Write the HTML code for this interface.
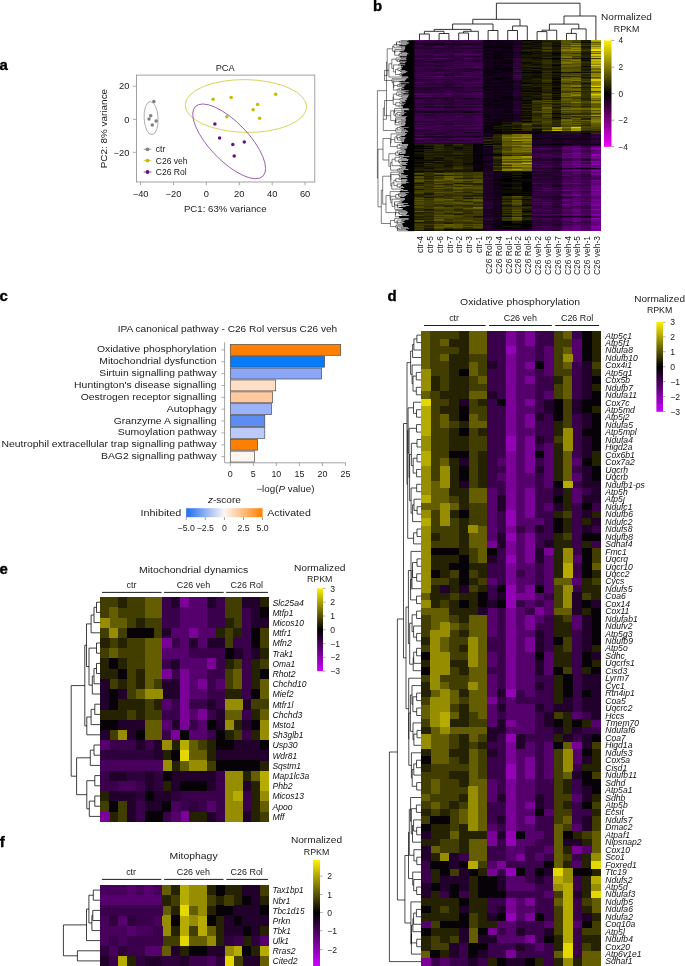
<!DOCTYPE html><html><head><meta charset="utf-8"><title>Figure</title><style>html,body{margin:0;padding:0;background:#fff}svg{display:block}text{font-family:"Liberation Sans",sans-serif}</style></head><body>
<svg width="685" height="966" viewBox="0 0 685 966">
<rect width="685" height="966" fill="#fff"/>
<text transform="translate(-0.40 69.60) scale(1.07 1)" font-size="14.0" fill="#000" font-weight="bold" stroke="#000" stroke-width="0.35">a</text>
<rect x="136.5" y="75.1" width="178.30" height="106.90" fill="none" stroke="#8a8a8a" stroke-width="0.8"/>
<text transform="translate(225.10 70.50)" font-size="9.2" fill="#1a1a1a" text-anchor="middle">PCA</text>
<path d="M140.60 182.00L140.60 185.40" stroke="#8a8a8a" stroke-width="0.7" fill="none"/>
<text transform="translate(140.60 196.50) scale(1.05 1)" font-size="8.9" fill="#1a1a1a" text-anchor="middle">−40</text>
<path d="M173.50 182.00L173.50 185.40" stroke="#8a8a8a" stroke-width="0.7" fill="none"/>
<text transform="translate(173.50 196.50) scale(1.05 1)" font-size="8.9" fill="#1a1a1a" text-anchor="middle">−20</text>
<path d="M206.40 182.00L206.40 185.40" stroke="#8a8a8a" stroke-width="0.7" fill="none"/>
<text transform="translate(206.40 196.50) scale(1.05 1)" font-size="8.9" fill="#1a1a1a" text-anchor="middle">0</text>
<path d="M239.30 182.00L239.30 185.40" stroke="#8a8a8a" stroke-width="0.7" fill="none"/>
<text transform="translate(239.30 196.50) scale(1.05 1)" font-size="8.9" fill="#1a1a1a" text-anchor="middle">20</text>
<path d="M272.20 182.00L272.20 185.40" stroke="#8a8a8a" stroke-width="0.7" fill="none"/>
<text transform="translate(272.20 196.50) scale(1.05 1)" font-size="8.9" fill="#1a1a1a" text-anchor="middle">40</text>
<path d="M305.10 182.00L305.10 185.40" stroke="#8a8a8a" stroke-width="0.7" fill="none"/>
<text transform="translate(305.10 196.50) scale(1.05 1)" font-size="8.9" fill="#1a1a1a" text-anchor="middle">60</text>
<path d="M132.90 86.26L136.50 86.26" stroke="#8a8a8a" stroke-width="0.7" fill="none"/>
<text transform="translate(129.40 89.46) scale(1.05 1)" font-size="8.9" fill="#1a1a1a" text-anchor="end">20</text>
<path d="M132.90 119.30L136.50 119.30" stroke="#8a8a8a" stroke-width="0.7" fill="none"/>
<text transform="translate(129.40 122.50) scale(1.05 1)" font-size="8.9" fill="#1a1a1a" text-anchor="end">0</text>
<path d="M132.90 152.34L136.50 152.34" stroke="#8a8a8a" stroke-width="0.7" fill="none"/>
<text transform="translate(129.40 155.54) scale(1.05 1)" font-size="8.9" fill="#1a1a1a" text-anchor="end">−20</text>
<text transform="translate(225.20 212.40) scale(1.05 1)" font-size="9.2" fill="#1a1a1a" text-anchor="middle">PC1: 63% variance</text>
<text transform="translate(107.30 128.60) rotate(-90) scale(1.08 1)" font-size="9.2" fill="#1a1a1a" text-anchor="middle">PC2: 8% variance</text>
<ellipse cx="151.1" cy="118.1" rx="7.0" ry="16.6" fill="none" stroke="#7a7a7a" stroke-width="0.6" transform="rotate(-3 151.1 118.1)"/>
<ellipse cx="245.9" cy="106.0" rx="60.7" ry="26.4" fill="none" stroke="#c9c216" stroke-width="0.7" transform="rotate(1 245.9 106)"/>
<ellipse cx="229.3" cy="141.0" rx="48.5" ry="19.3" fill="none" stroke="#7b2a93" stroke-width="0.7" transform="rotate(46 228.8 141)"/>
<circle cx="153.9" cy="101.4" r="1.75" fill="#808080"/>
<circle cx="150.7" cy="115.8" r="1.75" fill="#808080"/>
<circle cx="149.0" cy="119.1" r="1.75" fill="#808080"/>
<circle cx="156.1" cy="121.0" r="1.75" fill="#808080"/>
<circle cx="152.3" cy="125.1" r="1.75" fill="#808080"/>
<circle cx="213.1" cy="99.3" r="1.75" fill="#c4bc00"/>
<circle cx="231.2" cy="97.6" r="1.75" fill="#c4bc00"/>
<circle cx="275.7" cy="94.2" r="1.75" fill="#c4bc00"/>
<circle cx="257.6" cy="104.4" r="1.75" fill="#c4bc00"/>
<circle cx="253.1" cy="109.7" r="1.75" fill="#c4bc00"/>
<circle cx="259.6" cy="118.2" r="1.75" fill="#c4bc00"/>
<circle cx="226.8" cy="116.7" r="1.75" fill="#c4bc00"/>
<circle cx="214.9" cy="123.9" r="1.75" fill="#6a0f80"/>
<circle cx="219.6" cy="137.9" r="1.75" fill="#6a0f80"/>
<circle cx="232.8" cy="144.5" r="1.75" fill="#6a0f80"/>
<circle cx="244.3" cy="142.1" r="1.75" fill="#6a0f80"/>
<circle cx="234.2" cy="155.9" r="1.75" fill="#6a0f80"/>
<path d="M143.70 149.30L151.40 149.30" stroke="#808080" stroke-width="0.7" fill="none"/>
<circle cx="147.5" cy="149.3" r="1.9" fill="#808080"/>
<text transform="translate(155.80 152.20) scale(1.03 1)" font-size="8.3" fill="#1a1a1a">ctr</text>
<path d="M143.70 160.60L151.40 160.60" stroke="#c4bc00" stroke-width="0.7" fill="none"/>
<circle cx="147.5" cy="160.6" r="1.9" fill="#c4bc00"/>
<text transform="translate(155.80 163.50) scale(1.03 1)" font-size="8.3" fill="#1a1a1a">C26 veh</text>
<path d="M143.70 172.00L151.40 172.00" stroke="#6a0f80" stroke-width="0.7" fill="none"/>
<circle cx="147.5" cy="172.0" r="1.9" fill="#6a0f80"/>
<text transform="translate(155.80 174.90) scale(1.03 1)" font-size="8.3" fill="#1a1a1a">C26 Rol</text>
<text transform="translate(372.90 10.80) scale(1.07 1)" font-size="14.0" fill="#000" font-weight="bold" stroke="#000" stroke-width="0.35">b</text>
<g shape-rendering="crispEdges">
<rect x="414.0" y="40.2" width="186.81" height="190.80" fill="#2a0a30"/>
<path d="M590.98 148.09h10.03v1.20h-10.03zM590.98 154.08h10.03v1.20h-10.03zM590.98 155.08h10.03v1.20h-10.03zM590.98 164.07h10.03v1.20h-10.03zM590.98 209.02h10.03v1.20h-10.03zM590.98 218.01h10.03v1.20h-10.03zM590.98 226.01h10.03v1.20h-10.03z" fill="#9000b2"/>
<path d="M590.98 157.08h10.03v1.20h-10.03zM590.98 161.07h10.03v1.20h-10.03zM590.98 170.06h10.03v1.20h-10.03zM590.98 190.04h10.03v1.20h-10.03zM590.98 205.03h10.03v1.20h-10.03zM590.98 214.02h10.03v1.20h-10.03zM590.98 228.00h10.03v1.20h-10.03z" fill="#8500a6"/>
<path d="M590.98 149.09h10.03v1.20h-10.03zM590.98 162.07h10.03v1.20h-10.03zM590.98 173.06h10.03v1.20h-10.03zM590.98 187.05h10.03v1.20h-10.03zM590.98 193.04h10.03v1.20h-10.03zM571.31 195.04h10.03v1.20h-10.03zM590.98 200.03h10.03v1.20h-10.03zM590.98 204.03h10.03v1.20h-10.03zM590.98 230.00h10.03v1.20h-10.03z" fill="#7b0099"/>
<path d="M571.31 148.09h10.03v1.20h-10.03zM571.31 153.08h10.03v1.20h-10.03zM571.31 155.08h10.03v1.20h-10.03zM590.98 156.08h10.03v1.20h-10.03zM571.31 157.08h10.03v1.20h-10.03zM590.98 158.08h10.03v1.20h-10.03zM571.31 164.07h10.03v1.20h-10.03zM590.98 167.07h10.03v1.20h-10.03zM561.48 170.06h10.03v1.20h-10.03zM590.98 174.06h10.03v1.20h-10.03zM590.98 180.05h10.03v1.20h-10.03zM590.98 182.05h10.03v1.20h-10.03zM590.98 185.05h10.03v1.20h-10.03zM590.98 186.05h10.03v1.20h-10.03zM590.98 188.05h10.03v1.20h-10.03zM590.98 189.04h10.03v1.20h-10.03zM561.48 190.04h10.03v1.20h-10.03zM590.98 192.04h10.03v1.20h-10.03zM590.98 194.04h10.03v1.20h-10.03zM590.98 195.04h10.03v1.20h-10.03zM590.98 199.03h10.03v1.20h-10.03zM590.98 202.03h10.03v1.20h-10.03zM590.98 215.02h10.03v1.20h-10.03zM571.31 218.01h10.03v1.20h-10.03zM590.98 219.01h10.03v1.20h-10.03zM590.98 220.01h10.03v1.20h-10.03zM590.98 221.01h10.03v1.20h-10.03zM571.31 230.00h10.03v1.20h-10.03z" fill="#71008c"/>
<path d="M590.98 147.09h10.03v1.20h-10.03zM590.98 151.08h10.03v1.20h-10.03zM571.31 152.08h10.03v1.20h-10.03zM590.98 152.08h10.03v1.20h-10.03zM561.48 153.08h10.03v1.20h-10.03zM571.31 154.08h10.03v1.20h-10.03zM561.48 157.08h10.03v1.20h-10.03zM561.48 161.07h10.03v1.20h-10.03zM571.31 161.07h10.03v1.20h-10.03zM571.31 162.07h10.03v1.20h-10.03zM590.98 163.07h10.03v1.20h-10.03zM571.31 166.07h10.03v1.20h-10.03zM590.98 166.07h10.03v1.20h-10.03zM571.31 170.06h10.03v1.20h-10.03zM590.98 172.06h10.03v1.20h-10.03zM571.31 173.06h10.03v1.20h-10.03zM561.48 183.05h10.03v1.20h-10.03zM571.31 183.05h10.03v1.20h-10.03zM571.31 190.04h10.03v1.20h-10.03zM571.31 194.04h10.03v1.20h-10.03zM561.48 195.04h10.03v1.20h-10.03zM561.48 200.03h10.03v1.20h-10.03zM571.31 202.03h10.03v1.20h-10.03zM571.31 203.03h10.03v1.20h-10.03zM590.98 203.03h10.03v1.20h-10.03zM561.48 204.03h10.03v1.20h-10.03zM590.98 206.03h10.03v1.20h-10.03zM590.98 207.03h10.03v1.20h-10.03zM590.98 208.02h10.03v1.20h-10.03zM571.31 209.02h10.03v1.20h-10.03zM571.31 210.02h10.03v1.20h-10.03zM590.98 210.02h10.03v1.20h-10.03zM571.31 211.02h10.03v1.20h-10.03zM590.98 211.02h10.03v1.20h-10.03zM590.98 212.02h10.03v1.20h-10.03zM571.31 214.02h10.03v1.20h-10.03zM571.31 220.01h10.03v1.20h-10.03zM571.31 221.01h10.03v1.20h-10.03zM590.98 223.01h10.03v1.20h-10.03zM571.31 226.01h10.03v1.20h-10.03zM590.98 227.00h10.03v1.20h-10.03zM571.31 228.00h10.03v1.20h-10.03zM590.98 229.00h10.03v1.20h-10.03zM561.48 230.00h10.03v1.20h-10.03z" fill="#660080"/>
<path d="M571.31 146.09h10.03v1.20h-10.03zM590.98 146.09h10.03v1.20h-10.03zM561.48 147.09h10.03v1.20h-10.03zM561.48 148.09h10.03v1.20h-10.03zM571.31 149.09h10.03v1.20h-10.03zM590.98 153.08h10.03v1.20h-10.03zM561.48 154.08h10.03v1.20h-10.03zM581.14 155.08h10.03v1.20h-10.03zM581.14 157.08h10.03v1.20h-10.03zM590.98 159.08h10.03v1.20h-10.03zM590.98 160.07h10.03v1.20h-10.03zM581.14 161.07h10.03v1.20h-10.03zM561.48 163.07h10.03v1.20h-10.03zM571.31 163.07h10.03v1.20h-10.03zM561.48 164.07h10.03v1.20h-10.03zM581.14 164.07h10.03v1.20h-10.03zM581.14 166.07h10.03v1.20h-10.03zM561.48 167.07h10.03v1.20h-10.03zM571.31 167.07h10.03v1.20h-10.03zM571.31 169.06h10.03v1.20h-10.03zM590.98 169.06h10.03v1.20h-10.03zM581.14 170.06h10.03v1.20h-10.03zM590.98 171.06h10.03v1.20h-10.03zM561.48 175.06h10.03v1.20h-10.03zM590.98 175.06h10.03v1.20h-10.03zM571.31 180.05h10.03v1.20h-10.03zM590.98 183.05h10.03v1.20h-10.03zM561.48 194.04h10.03v1.20h-10.03zM581.14 194.04h10.03v1.20h-10.03zM590.98 196.04h10.03v1.20h-10.03zM571.31 198.03h10.03v1.20h-10.03zM590.98 198.03h10.03v1.20h-10.03zM561.48 199.03h10.03v1.20h-10.03zM571.31 200.03h10.03v1.20h-10.03zM571.31 204.03h10.03v1.20h-10.03zM571.31 205.03h10.03v1.20h-10.03zM561.48 209.02h10.03v1.20h-10.03zM590.98 213.02h10.03v1.20h-10.03zM561.48 214.02h10.03v1.20h-10.03zM561.48 218.01h10.03v1.20h-10.03zM581.14 219.01h10.03v1.20h-10.03zM590.98 222.01h10.03v1.20h-10.03zM590.98 224.01h10.03v1.20h-10.03zM590.98 225.01h10.03v1.20h-10.03zM561.48 226.01h10.03v1.20h-10.03zM581.14 226.01h10.03v1.20h-10.03zM571.31 227.00h10.03v1.20h-10.03zM561.48 228.00h10.03v1.20h-10.03zM571.31 229.00h10.03v1.20h-10.03z" fill="#5c0073"/>
<path d="M414.00 40.20h10.03v1.20h-10.03zM463.16 54.19h10.03v1.20h-10.03zM433.66 58.18h10.03v1.20h-10.03zM433.66 76.16h10.03v1.20h-10.03zM414.00 94.14h10.03v1.20h-10.03zM443.50 94.14h10.03v1.20h-10.03zM453.33 125.11h10.03v1.20h-10.03zM414.00 138.10h10.03v1.20h-10.03zM571.31 147.09h10.03v1.20h-10.03zM581.14 148.09h10.03v1.20h-10.03zM561.48 149.09h10.03v1.20h-10.03zM571.31 150.08h10.03v1.20h-10.03zM590.98 150.08h10.03v1.20h-10.03zM561.48 151.08h10.03v1.20h-10.03zM571.31 151.08h10.03v1.20h-10.03zM581.14 153.08h10.03v1.20h-10.03zM561.48 155.08h10.03v1.20h-10.03zM561.48 156.08h10.03v1.20h-10.03zM571.31 156.08h10.03v1.20h-10.03zM571.31 158.08h10.03v1.20h-10.03zM571.31 159.08h10.03v1.20h-10.03zM571.31 160.07h10.03v1.20h-10.03zM561.48 162.07h10.03v1.20h-10.03zM590.98 165.07h10.03v1.20h-10.03zM561.48 166.07h10.03v1.20h-10.03zM571.31 171.06h10.03v1.20h-10.03zM561.48 173.06h10.03v1.20h-10.03zM581.14 173.06h10.03v1.20h-10.03zM590.98 176.06h10.03v1.20h-10.03zM571.31 177.06h10.03v1.20h-10.03zM590.98 177.06h10.03v1.20h-10.03zM590.98 181.05h10.03v1.20h-10.03zM590.98 184.05h10.03v1.20h-10.03zM571.31 186.05h10.03v1.20h-10.03zM561.48 187.05h10.03v1.20h-10.03zM571.31 187.05h10.03v1.20h-10.03zM571.31 189.04h10.03v1.20h-10.03zM581.14 189.04h10.03v1.20h-10.03zM571.31 192.04h10.03v1.20h-10.03zM571.31 193.04h10.03v1.20h-10.03zM590.98 197.04h10.03v1.20h-10.03zM571.31 199.03h10.03v1.20h-10.03zM581.14 199.03h10.03v1.20h-10.03zM581.14 202.03h10.03v1.20h-10.03zM581.14 204.03h10.03v1.20h-10.03zM561.48 206.03h10.03v1.20h-10.03zM571.31 208.02h10.03v1.20h-10.03zM581.14 209.02h10.03v1.20h-10.03zM561.48 211.02h10.03v1.20h-10.03zM571.31 212.02h10.03v1.20h-10.03zM581.14 214.02h10.03v1.20h-10.03zM561.48 215.02h10.03v1.20h-10.03zM571.31 215.02h10.03v1.20h-10.03zM581.14 218.01h10.03v1.20h-10.03zM561.48 219.01h10.03v1.20h-10.03zM561.48 223.01h10.03v1.20h-10.03zM571.31 223.01h10.03v1.20h-10.03zM571.31 224.01h10.03v1.20h-10.03zM571.31 225.01h10.03v1.20h-10.03zM581.14 228.00h10.03v1.20h-10.03zM561.48 229.00h10.03v1.20h-10.03zM502.49 230.00h10.03v1.20h-10.03zM581.14 230.00h10.03v1.20h-10.03z" fill="#520066"/>
<path d="M453.33 40.20h10.03v1.20h-10.03zM472.99 40.20h10.03v1.20h-10.03zM433.66 46.19h10.03v1.20h-10.03zM453.33 53.19h10.03v1.20h-10.03zM433.66 54.19h10.03v1.20h-10.03zM453.33 54.19h10.03v1.20h-10.03zM472.99 54.19h10.03v1.20h-10.03zM414.00 58.18h10.03v1.20h-10.03zM443.50 58.18h10.03v1.20h-10.03zM463.16 58.18h10.03v1.20h-10.03zM472.99 66.17h10.03v1.20h-10.03zM472.99 67.17h10.03v1.20h-10.03zM512.32 71.17h10.03v1.20h-10.03zM433.66 72.17h10.03v1.20h-10.03zM463.16 72.17h10.03v1.20h-10.03zM472.99 73.17h10.03v1.20h-10.03zM512.32 75.16h10.03v1.20h-10.03zM423.83 76.16h10.03v1.20h-10.03zM453.33 76.16h10.03v1.20h-10.03zM463.16 76.16h10.03v1.20h-10.03zM414.00 82.16h10.03v1.20h-10.03zM433.66 82.16h10.03v1.20h-10.03zM463.16 82.16h10.03v1.20h-10.03zM472.99 82.16h10.03v1.20h-10.03zM472.99 85.15h10.03v1.20h-10.03zM414.00 93.14h10.03v1.20h-10.03zM472.99 93.14h10.03v1.20h-10.03zM423.83 94.14h10.03v1.20h-10.03zM433.66 94.14h10.03v1.20h-10.03zM463.16 94.14h10.03v1.20h-10.03zM472.99 94.14h10.03v1.20h-10.03zM414.00 96.14h10.03v1.20h-10.03zM423.83 96.14h10.03v1.20h-10.03zM433.66 105.13h10.03v1.20h-10.03zM463.16 105.13h10.03v1.20h-10.03zM472.99 105.13h10.03v1.20h-10.03zM433.66 109.13h10.03v1.20h-10.03zM472.99 109.13h10.03v1.20h-10.03zM453.33 116.12h10.03v1.20h-10.03zM472.99 116.12h10.03v1.20h-10.03zM423.83 119.12h10.03v1.20h-10.03zM472.99 122.11h10.03v1.20h-10.03zM414.00 123.11h10.03v1.20h-10.03zM472.99 124.11h10.03v1.20h-10.03zM414.00 125.11h10.03v1.20h-10.03zM433.66 125.11h10.03v1.20h-10.03zM463.16 125.11h10.03v1.20h-10.03zM414.00 128.11h10.03v1.20h-10.03zM463.16 128.11h10.03v1.20h-10.03zM472.99 128.11h10.03v1.20h-10.03zM414.00 135.10h10.03v1.20h-10.03zM433.66 135.10h10.03v1.20h-10.03zM423.83 138.10h10.03v1.20h-10.03zM453.33 138.10h10.03v1.20h-10.03zM463.16 138.10h10.03v1.20h-10.03zM472.99 138.10h10.03v1.20h-10.03zM443.50 141.09h10.03v1.20h-10.03zM472.99 141.09h10.03v1.20h-10.03zM561.48 146.09h10.03v1.20h-10.03zM531.98 148.09h10.03v1.20h-10.03zM541.82 148.09h10.03v1.20h-10.03zM581.14 149.09h10.03v1.20h-10.03zM561.48 150.08h10.03v1.20h-10.03zM561.48 152.08h10.03v1.20h-10.03zM581.14 152.08h10.03v1.20h-10.03zM541.82 154.08h10.03v1.20h-10.03zM581.14 154.08h10.03v1.20h-10.03zM541.82 155.08h10.03v1.20h-10.03zM581.14 156.08h10.03v1.20h-10.03zM561.48 158.08h10.03v1.20h-10.03zM581.14 162.07h10.03v1.20h-10.03zM561.48 165.07h10.03v1.20h-10.03zM541.82 166.07h10.03v1.20h-10.03zM581.14 167.07h10.03v1.20h-10.03zM561.48 169.06h10.03v1.20h-10.03zM571.31 172.06h10.03v1.20h-10.03zM571.31 174.06h10.03v1.20h-10.03zM571.31 175.06h10.03v1.20h-10.03zM571.31 178.06h10.03v1.20h-10.03zM590.98 179.05h10.03v1.20h-10.03zM561.48 180.05h10.03v1.20h-10.03zM581.14 180.05h10.03v1.20h-10.03zM561.48 181.05h10.03v1.20h-10.03zM561.48 182.05h10.03v1.20h-10.03zM571.31 182.05h10.03v1.20h-10.03zM531.98 183.05h10.03v1.20h-10.03zM581.14 183.05h10.03v1.20h-10.03zM561.48 184.05h10.03v1.20h-10.03zM571.31 184.05h10.03v1.20h-10.03zM581.14 186.05h10.03v1.20h-10.03zM581.14 187.05h10.03v1.20h-10.03zM541.82 188.05h10.03v1.20h-10.03zM571.31 188.05h10.03v1.20h-10.03zM581.14 188.05h10.03v1.20h-10.03zM561.48 189.04h10.03v1.20h-10.03zM541.82 190.04h10.03v1.20h-10.03zM581.14 190.04h10.03v1.20h-10.03zM590.98 191.04h10.03v1.20h-10.03zM581.14 195.04h10.03v1.20h-10.03zM571.31 196.04h10.03v1.20h-10.03zM581.14 196.04h10.03v1.20h-10.03zM581.14 198.03h10.03v1.20h-10.03zM531.98 199.03h10.03v1.20h-10.03zM581.14 200.03h10.03v1.20h-10.03zM590.98 201.03h10.03v1.20h-10.03zM541.82 202.03h10.03v1.20h-10.03zM561.48 202.03h10.03v1.20h-10.03zM561.48 203.03h10.03v1.20h-10.03zM541.82 204.03h10.03v1.20h-10.03zM561.48 205.03h10.03v1.20h-10.03zM581.14 205.03h10.03v1.20h-10.03zM561.48 207.03h10.03v1.20h-10.03zM571.31 207.03h10.03v1.20h-10.03zM531.98 209.02h10.03v1.20h-10.03zM541.82 210.02h10.03v1.20h-10.03zM561.48 210.02h10.03v1.20h-10.03zM581.14 212.02h10.03v1.20h-10.03zM571.31 213.02h10.03v1.20h-10.03zM531.98 214.02h10.03v1.20h-10.03zM541.82 214.02h10.03v1.20h-10.03zM551.65 214.02h10.03v1.20h-10.03zM590.98 216.02h10.03v1.20h-10.03zM541.82 218.01h10.03v1.20h-10.03zM541.82 219.01h10.03v1.20h-10.03zM571.31 219.01h10.03v1.20h-10.03zM561.48 220.01h10.03v1.20h-10.03zM581.14 223.01h10.03v1.20h-10.03zM581.14 224.01h10.03v1.20h-10.03zM541.82 226.01h10.03v1.20h-10.03zM561.48 227.00h10.03v1.20h-10.03zM581.14 229.00h10.03v1.20h-10.03zM531.98 230.00h10.03v1.20h-10.03zM541.82 230.00h10.03v1.20h-10.03z" fill="#480059"/>
<path d="M423.83 40.20h10.03v1.20h-10.03zM433.66 40.20h10.03v1.20h-10.03zM463.16 40.20h10.03v1.20h-10.03zM463.16 46.19h10.03v1.20h-10.03zM414.00 49.19h10.03v1.20h-10.03zM472.99 49.19h10.03v1.20h-10.03zM414.00 51.19h10.03v1.20h-10.03zM463.16 52.19h10.03v1.20h-10.03zM414.00 53.19h10.03v1.20h-10.03zM423.83 53.19h10.03v1.20h-10.03zM443.50 53.19h10.03v1.20h-10.03zM463.16 53.19h10.03v1.20h-10.03zM472.99 53.19h10.03v1.20h-10.03zM414.00 54.19h10.03v1.20h-10.03zM423.83 54.19h10.03v1.20h-10.03zM453.33 55.18h10.03v1.20h-10.03zM463.16 57.18h10.03v1.20h-10.03zM423.83 58.18h10.03v1.20h-10.03zM472.99 58.18h10.03v1.20h-10.03zM423.83 60.18h10.03v1.20h-10.03zM453.33 62.18h10.03v1.20h-10.03zM463.16 62.18h10.03v1.20h-10.03zM472.99 62.18h10.03v1.20h-10.03zM423.83 63.18h10.03v1.20h-10.03zM472.99 63.18h10.03v1.20h-10.03zM453.33 64.17h10.03v1.20h-10.03zM463.16 64.17h10.03v1.20h-10.03zM472.99 64.17h10.03v1.20h-10.03zM443.50 66.17h10.03v1.20h-10.03zM453.33 66.17h10.03v1.20h-10.03zM463.16 66.17h10.03v1.20h-10.03zM423.83 67.17h10.03v1.20h-10.03zM433.66 67.17h10.03v1.20h-10.03zM453.33 67.17h10.03v1.20h-10.03zM463.16 67.17h10.03v1.20h-10.03zM512.32 67.17h10.03v1.20h-10.03zM414.00 68.17h10.03v1.20h-10.03zM443.50 68.17h10.03v1.20h-10.03zM472.99 71.17h10.03v1.20h-10.03zM414.00 72.17h10.03v1.20h-10.03zM423.83 72.17h10.03v1.20h-10.03zM443.50 72.17h10.03v1.20h-10.03zM472.99 72.17h10.03v1.20h-10.03zM423.83 73.17h10.03v1.20h-10.03zM433.66 73.17h10.03v1.20h-10.03zM463.16 73.17h10.03v1.20h-10.03zM414.00 74.16h10.03v1.20h-10.03zM423.83 74.16h10.03v1.20h-10.03zM463.16 74.16h10.03v1.20h-10.03zM414.00 76.16h10.03v1.20h-10.03zM472.99 76.16h10.03v1.20h-10.03zM472.99 77.16h10.03v1.20h-10.03zM512.32 77.16h10.03v1.20h-10.03zM414.00 78.16h10.03v1.20h-10.03zM423.83 78.16h10.03v1.20h-10.03zM433.66 78.16h10.03v1.20h-10.03zM443.50 78.16h10.03v1.20h-10.03zM453.33 80.16h10.03v1.20h-10.03zM472.99 80.16h10.03v1.20h-10.03zM433.66 81.16h10.03v1.20h-10.03zM472.99 81.16h10.03v1.20h-10.03zM423.83 82.16h10.03v1.20h-10.03zM453.33 82.16h10.03v1.20h-10.03zM453.33 85.15h10.03v1.20h-10.03zM414.00 86.15h10.03v1.20h-10.03zM423.83 86.15h10.03v1.20h-10.03zM463.16 86.15h10.03v1.20h-10.03zM443.50 90.15h10.03v1.20h-10.03zM472.99 92.15h10.03v1.20h-10.03zM423.83 93.14h10.03v1.20h-10.03zM433.66 93.14h10.03v1.20h-10.03zM443.50 93.14h10.03v1.20h-10.03zM453.33 93.14h10.03v1.20h-10.03zM463.16 93.14h10.03v1.20h-10.03zM453.33 94.14h10.03v1.20h-10.03zM433.66 96.14h10.03v1.20h-10.03zM443.50 96.14h10.03v1.20h-10.03zM472.99 96.14h10.03v1.20h-10.03zM472.99 97.14h10.03v1.20h-10.03zM433.66 99.14h10.03v1.20h-10.03zM414.00 100.14h10.03v1.20h-10.03zM453.33 100.14h10.03v1.20h-10.03zM414.00 102.14h10.03v1.20h-10.03zM472.99 102.14h10.03v1.20h-10.03zM414.00 105.13h10.03v1.20h-10.03zM423.83 105.13h10.03v1.20h-10.03zM443.50 105.13h10.03v1.20h-10.03zM453.33 105.13h10.03v1.20h-10.03zM414.00 108.13h10.03v1.20h-10.03zM423.83 108.13h10.03v1.20h-10.03zM433.66 108.13h10.03v1.20h-10.03zM463.16 108.13h10.03v1.20h-10.03zM472.99 108.13h10.03v1.20h-10.03zM423.83 109.13h10.03v1.20h-10.03zM443.50 109.13h10.03v1.20h-10.03zM453.33 109.13h10.03v1.20h-10.03zM423.83 110.13h10.03v1.20h-10.03zM472.99 110.13h10.03v1.20h-10.03zM414.00 113.12h10.03v1.20h-10.03zM423.83 113.12h10.03v1.20h-10.03zM453.33 113.12h10.03v1.20h-10.03zM463.16 113.12h10.03v1.20h-10.03zM472.99 113.12h10.03v1.20h-10.03zM433.66 114.12h10.03v1.20h-10.03zM414.00 116.12h10.03v1.20h-10.03zM443.50 116.12h10.03v1.20h-10.03zM414.00 117.12h10.03v1.20h-10.03zM433.66 117.12h10.03v1.20h-10.03zM414.00 118.12h10.03v1.20h-10.03zM472.99 118.12h10.03v1.20h-10.03zM414.00 119.12h10.03v1.20h-10.03zM433.66 119.12h10.03v1.20h-10.03zM443.50 119.12h10.03v1.20h-10.03zM453.33 119.12h10.03v1.20h-10.03zM463.16 119.12h10.03v1.20h-10.03zM472.99 119.12h10.03v1.20h-10.03zM414.00 120.12h10.03v1.20h-10.03zM423.83 120.12h10.03v1.20h-10.03zM443.50 120.12h10.03v1.20h-10.03zM463.16 120.12h10.03v1.20h-10.03zM472.99 120.12h10.03v1.20h-10.03zM433.66 122.11h10.03v1.20h-10.03zM453.33 122.11h10.03v1.20h-10.03zM423.83 123.11h10.03v1.20h-10.03zM463.16 123.11h10.03v1.20h-10.03zM443.50 125.11h10.03v1.20h-10.03zM472.99 125.11h10.03v1.20h-10.03zM423.83 126.11h10.03v1.20h-10.03zM433.66 126.11h10.03v1.20h-10.03zM414.00 127.11h10.03v1.20h-10.03zM423.83 127.11h10.03v1.20h-10.03zM443.50 127.11h10.03v1.20h-10.03zM463.16 127.11h10.03v1.20h-10.03zM472.99 127.11h10.03v1.20h-10.03zM423.83 128.11h10.03v1.20h-10.03zM433.66 128.11h10.03v1.20h-10.03zM453.33 128.11h10.03v1.20h-10.03zM433.66 129.11h10.03v1.20h-10.03zM433.66 131.10h10.03v1.20h-10.03zM463.16 131.10h10.03v1.20h-10.03zM472.99 131.10h10.03v1.20h-10.03zM453.33 132.10h10.03v1.20h-10.03zM414.00 133.10h10.03v1.20h-10.03zM423.83 135.10h10.03v1.20h-10.03zM453.33 135.10h10.03v1.20h-10.03zM433.66 138.10h10.03v1.20h-10.03zM443.50 138.10h10.03v1.20h-10.03zM423.83 141.09h10.03v1.20h-10.03zM453.33 141.09h10.03v1.20h-10.03zM414.00 142.09h10.03v1.20h-10.03zM433.66 142.09h10.03v1.20h-10.03zM453.33 142.09h10.03v1.20h-10.03zM463.16 142.09h10.03v1.20h-10.03zM581.14 147.09h10.03v1.20h-10.03zM541.82 149.09h10.03v1.20h-10.03zM581.14 150.08h10.03v1.20h-10.03zM531.98 153.08h10.03v1.20h-10.03zM531.98 154.08h10.03v1.20h-10.03zM531.98 155.08h10.03v1.20h-10.03zM551.65 155.08h10.03v1.20h-10.03zM531.98 156.08h10.03v1.20h-10.03zM551.65 156.08h10.03v1.20h-10.03zM531.98 157.08h10.03v1.20h-10.03zM541.82 157.08h10.03v1.20h-10.03zM551.65 157.08h10.03v1.20h-10.03zM581.14 158.08h10.03v1.20h-10.03zM561.48 159.08h10.03v1.20h-10.03zM561.48 160.07h10.03v1.20h-10.03zM541.82 161.07h10.03v1.20h-10.03zM531.98 164.07h10.03v1.20h-10.03zM541.82 164.07h10.03v1.20h-10.03zM571.31 165.07h10.03v1.20h-10.03zM531.98 167.07h10.03v1.20h-10.03zM541.82 167.07h10.03v1.20h-10.03zM581.14 169.06h10.03v1.20h-10.03zM531.98 170.06h10.03v1.20h-10.03zM561.48 171.06h10.03v1.20h-10.03zM581.14 171.06h10.03v1.20h-10.03zM561.48 172.06h10.03v1.20h-10.03zM581.14 172.06h10.03v1.20h-10.03zM531.98 173.06h10.03v1.20h-10.03zM561.48 174.06h10.03v1.20h-10.03zM581.14 175.06h10.03v1.20h-10.03zM561.48 176.06h10.03v1.20h-10.03zM571.31 176.06h10.03v1.20h-10.03zM561.48 177.06h10.03v1.20h-10.03zM581.14 177.06h10.03v1.20h-10.03zM561.48 178.06h10.03v1.20h-10.03zM581.14 178.06h10.03v1.20h-10.03zM590.98 178.06h10.03v1.20h-10.03zM561.48 179.05h10.03v1.20h-10.03zM571.31 179.05h10.03v1.20h-10.03zM571.31 181.05h10.03v1.20h-10.03zM581.14 181.05h10.03v1.20h-10.03zM581.14 182.05h10.03v1.20h-10.03zM541.82 183.05h10.03v1.20h-10.03zM581.14 184.05h10.03v1.20h-10.03zM561.48 185.05h10.03v1.20h-10.03zM571.31 185.05h10.03v1.20h-10.03zM561.48 186.05h10.03v1.20h-10.03zM541.82 187.05h10.03v1.20h-10.03zM561.48 188.05h10.03v1.20h-10.03zM531.98 190.04h10.03v1.20h-10.03zM551.65 190.04h10.03v1.20h-10.03zM561.48 192.04h10.03v1.20h-10.03zM581.14 192.04h10.03v1.20h-10.03zM561.48 193.04h10.03v1.20h-10.03zM581.14 193.04h10.03v1.20h-10.03zM531.98 194.04h10.03v1.20h-10.03zM541.82 194.04h10.03v1.20h-10.03zM561.48 196.04h10.03v1.20h-10.03zM571.31 197.04h10.03v1.20h-10.03zM581.14 197.04h10.03v1.20h-10.03zM561.48 198.03h10.03v1.20h-10.03zM531.98 200.03h10.03v1.20h-10.03zM561.48 201.03h10.03v1.20h-10.03zM531.98 202.03h10.03v1.20h-10.03zM581.14 203.03h10.03v1.20h-10.03zM531.98 204.03h10.03v1.20h-10.03zM571.31 206.03h10.03v1.20h-10.03zM581.14 206.03h10.03v1.20h-10.03zM541.82 207.03h10.03v1.20h-10.03zM581.14 207.03h10.03v1.20h-10.03zM561.48 208.02h10.03v1.20h-10.03zM581.14 208.02h10.03v1.20h-10.03zM531.98 210.02h10.03v1.20h-10.03zM581.14 210.02h10.03v1.20h-10.03zM531.98 211.02h10.03v1.20h-10.03zM581.14 211.02h10.03v1.20h-10.03zM541.82 212.02h10.03v1.20h-10.03zM561.48 212.02h10.03v1.20h-10.03zM561.48 213.02h10.03v1.20h-10.03zM581.14 213.02h10.03v1.20h-10.03zM541.82 215.02h10.03v1.20h-10.03zM581.14 215.02h10.03v1.20h-10.03zM571.31 217.01h10.03v1.20h-10.03zM590.98 217.01h10.03v1.20h-10.03zM531.98 218.01h10.03v1.20h-10.03zM551.65 218.01h10.03v1.20h-10.03zM482.82 219.01h10.03v1.20h-10.03zM531.98 219.01h10.03v1.20h-10.03zM541.82 220.01h10.03v1.20h-10.03zM581.14 220.01h10.03v1.20h-10.03zM561.48 221.01h10.03v1.20h-10.03zM581.14 221.01h10.03v1.20h-10.03zM561.48 222.01h10.03v1.20h-10.03zM561.48 224.01h10.03v1.20h-10.03zM561.48 225.01h10.03v1.20h-10.03zM531.98 226.01h10.03v1.20h-10.03zM581.14 227.00h10.03v1.20h-10.03zM541.82 228.00h10.03v1.20h-10.03zM551.65 228.00h10.03v1.20h-10.03zM492.66 230.00h10.03v1.20h-10.03zM512.32 230.00h10.03v1.20h-10.03zM522.15 230.00h10.03v1.20h-10.03z" fill="#3e004c"/>
<path d="M443.50 40.20h10.03v1.20h-10.03zM423.83 41.20h10.03v1.20h-10.03zM433.66 41.20h10.03v1.20h-10.03zM463.16 41.20h10.03v1.20h-10.03zM472.99 41.20h10.03v1.20h-10.03zM443.50 42.20h10.03v1.20h-10.03zM463.16 42.20h10.03v1.20h-10.03zM414.00 45.19h10.03v1.20h-10.03zM443.50 45.19h10.03v1.20h-10.03zM463.16 45.19h10.03v1.20h-10.03zM472.99 45.19h10.03v1.20h-10.03zM414.00 46.19h10.03v1.20h-10.03zM453.33 46.19h10.03v1.20h-10.03zM472.99 46.19h10.03v1.20h-10.03zM423.83 47.19h10.03v1.20h-10.03zM433.66 47.19h10.03v1.20h-10.03zM453.33 47.19h10.03v1.20h-10.03zM463.16 47.19h10.03v1.20h-10.03zM472.99 47.19h10.03v1.20h-10.03zM423.83 49.19h10.03v1.20h-10.03zM433.66 49.19h10.03v1.20h-10.03zM453.33 49.19h10.03v1.20h-10.03zM463.16 49.19h10.03v1.20h-10.03zM414.00 50.19h10.03v1.20h-10.03zM423.83 50.19h10.03v1.20h-10.03zM443.50 50.19h10.03v1.20h-10.03zM453.33 50.19h10.03v1.20h-10.03zM463.16 50.19h10.03v1.20h-10.03zM472.99 50.19h10.03v1.20h-10.03zM423.83 51.19h10.03v1.20h-10.03zM443.50 51.19h10.03v1.20h-10.03zM463.16 51.19h10.03v1.20h-10.03zM414.00 52.19h10.03v1.20h-10.03zM423.83 52.19h10.03v1.20h-10.03zM433.66 52.19h10.03v1.20h-10.03zM443.50 52.19h10.03v1.20h-10.03zM433.66 53.19h10.03v1.20h-10.03zM443.50 54.19h10.03v1.20h-10.03zM414.00 55.18h10.03v1.20h-10.03zM433.66 55.18h10.03v1.20h-10.03zM472.99 55.18h10.03v1.20h-10.03zM453.33 56.18h10.03v1.20h-10.03zM472.99 57.18h10.03v1.20h-10.03zM453.33 58.18h10.03v1.20h-10.03zM512.32 58.18h10.03v1.20h-10.03zM414.00 59.18h10.03v1.20h-10.03zM512.32 59.18h10.03v1.20h-10.03zM433.66 60.18h10.03v1.20h-10.03zM453.33 60.18h10.03v1.20h-10.03zM463.16 60.18h10.03v1.20h-10.03zM512.32 60.18h10.03v1.20h-10.03zM453.33 61.18h10.03v1.20h-10.03zM414.00 62.18h10.03v1.20h-10.03zM443.50 62.18h10.03v1.20h-10.03zM414.00 63.18h10.03v1.20h-10.03zM433.66 63.18h10.03v1.20h-10.03zM443.50 63.18h10.03v1.20h-10.03zM453.33 63.18h10.03v1.20h-10.03zM463.16 63.18h10.03v1.20h-10.03zM512.32 63.18h10.03v1.20h-10.03zM414.00 64.17h10.03v1.20h-10.03zM423.83 64.17h10.03v1.20h-10.03zM433.66 64.17h10.03v1.20h-10.03zM443.50 64.17h10.03v1.20h-10.03zM512.32 64.17h10.03v1.20h-10.03zM472.99 65.17h10.03v1.20h-10.03zM512.32 65.17h10.03v1.20h-10.03zM414.00 66.17h10.03v1.20h-10.03zM423.83 66.17h10.03v1.20h-10.03zM414.00 67.17h10.03v1.20h-10.03zM443.50 67.17h10.03v1.20h-10.03zM423.83 68.17h10.03v1.20h-10.03zM453.33 68.17h10.03v1.20h-10.03zM463.16 68.17h10.03v1.20h-10.03zM472.99 68.17h10.03v1.20h-10.03zM414.00 69.17h10.03v1.20h-10.03zM512.32 69.17h10.03v1.20h-10.03zM414.00 70.17h10.03v1.20h-10.03zM423.83 70.17h10.03v1.20h-10.03zM443.50 70.17h10.03v1.20h-10.03zM453.33 70.17h10.03v1.20h-10.03zM512.32 70.17h10.03v1.20h-10.03zM433.66 71.17h10.03v1.20h-10.03zM443.50 71.17h10.03v1.20h-10.03zM453.33 71.17h10.03v1.20h-10.03zM453.33 72.17h10.03v1.20h-10.03zM414.00 73.17h10.03v1.20h-10.03zM453.33 73.17h10.03v1.20h-10.03zM512.32 73.17h10.03v1.20h-10.03zM433.66 74.16h10.03v1.20h-10.03zM453.33 74.16h10.03v1.20h-10.03zM472.99 74.16h10.03v1.20h-10.03zM512.32 74.16h10.03v1.20h-10.03zM414.00 75.16h10.03v1.20h-10.03zM433.66 75.16h10.03v1.20h-10.03zM453.33 75.16h10.03v1.20h-10.03zM463.16 75.16h10.03v1.20h-10.03zM472.99 75.16h10.03v1.20h-10.03zM443.50 76.16h10.03v1.20h-10.03zM512.32 76.16h10.03v1.20h-10.03zM443.50 77.16h10.03v1.20h-10.03zM453.33 78.16h10.03v1.20h-10.03zM463.16 78.16h10.03v1.20h-10.03zM472.99 78.16h10.03v1.20h-10.03zM512.32 78.16h10.03v1.20h-10.03zM512.32 79.16h10.03v1.20h-10.03zM414.00 80.16h10.03v1.20h-10.03zM423.83 80.16h10.03v1.20h-10.03zM433.66 80.16h10.03v1.20h-10.03zM443.50 80.16h10.03v1.20h-10.03zM463.16 80.16h10.03v1.20h-10.03zM414.00 81.16h10.03v1.20h-10.03zM423.83 81.16h10.03v1.20h-10.03zM443.50 81.16h10.03v1.20h-10.03zM453.33 81.16h10.03v1.20h-10.03zM463.16 81.16h10.03v1.20h-10.03zM443.50 82.16h10.03v1.20h-10.03zM414.00 83.15h10.03v1.20h-10.03zM443.50 83.15h10.03v1.20h-10.03zM463.16 83.15h10.03v1.20h-10.03zM472.99 83.15h10.03v1.20h-10.03zM414.00 84.15h10.03v1.20h-10.03zM453.33 84.15h10.03v1.20h-10.03zM463.16 84.15h10.03v1.20h-10.03zM414.00 85.15h10.03v1.20h-10.03zM423.83 85.15h10.03v1.20h-10.03zM433.66 85.15h10.03v1.20h-10.03zM443.50 85.15h10.03v1.20h-10.03zM463.16 85.15h10.03v1.20h-10.03zM433.66 86.15h10.03v1.20h-10.03zM453.33 86.15h10.03v1.20h-10.03zM472.99 86.15h10.03v1.20h-10.03zM443.50 88.15h10.03v1.20h-10.03zM463.16 88.15h10.03v1.20h-10.03zM472.99 88.15h10.03v1.20h-10.03zM433.66 89.15h10.03v1.20h-10.03zM453.33 89.15h10.03v1.20h-10.03zM463.16 89.15h10.03v1.20h-10.03zM472.99 89.15h10.03v1.20h-10.03zM414.00 90.15h10.03v1.20h-10.03zM433.66 90.15h10.03v1.20h-10.03zM463.16 90.15h10.03v1.20h-10.03zM472.99 90.15h10.03v1.20h-10.03zM443.50 92.15h10.03v1.20h-10.03zM453.33 92.15h10.03v1.20h-10.03zM472.99 95.14h10.03v1.20h-10.03zM453.33 96.14h10.03v1.20h-10.03zM463.16 96.14h10.03v1.20h-10.03zM414.00 97.14h10.03v1.20h-10.03zM433.66 97.14h10.03v1.20h-10.03zM453.33 97.14h10.03v1.20h-10.03zM463.16 97.14h10.03v1.20h-10.03zM414.00 99.14h10.03v1.20h-10.03zM423.83 99.14h10.03v1.20h-10.03zM453.33 99.14h10.03v1.20h-10.03zM472.99 99.14h10.03v1.20h-10.03zM423.83 100.14h10.03v1.20h-10.03zM433.66 100.14h10.03v1.20h-10.03zM463.16 100.14h10.03v1.20h-10.03zM472.99 100.14h10.03v1.20h-10.03zM414.00 101.14h10.03v1.20h-10.03zM433.66 101.14h10.03v1.20h-10.03zM443.50 101.14h10.03v1.20h-10.03zM453.33 101.14h10.03v1.20h-10.03zM423.83 102.14h10.03v1.20h-10.03zM433.66 102.14h10.03v1.20h-10.03zM443.50 102.14h10.03v1.20h-10.03zM463.16 102.14h10.03v1.20h-10.03zM453.33 103.13h10.03v1.20h-10.03zM463.16 103.13h10.03v1.20h-10.03zM414.00 104.13h10.03v1.20h-10.03zM433.66 104.13h10.03v1.20h-10.03zM453.33 104.13h10.03v1.20h-10.03zM414.00 106.13h10.03v1.20h-10.03zM453.33 106.13h10.03v1.20h-10.03zM472.99 106.13h10.03v1.20h-10.03zM443.50 108.13h10.03v1.20h-10.03zM453.33 108.13h10.03v1.20h-10.03zM414.00 109.13h10.03v1.20h-10.03zM463.16 109.13h10.03v1.20h-10.03zM414.00 110.13h10.03v1.20h-10.03zM433.66 110.13h10.03v1.20h-10.03zM443.50 110.13h10.03v1.20h-10.03zM463.16 110.13h10.03v1.20h-10.03zM512.32 110.13h10.03v1.20h-10.03zM433.66 113.12h10.03v1.20h-10.03zM443.50 113.12h10.03v1.20h-10.03zM414.00 114.12h10.03v1.20h-10.03zM443.50 114.12h10.03v1.20h-10.03zM453.33 114.12h10.03v1.20h-10.03zM463.16 114.12h10.03v1.20h-10.03zM472.99 114.12h10.03v1.20h-10.03zM414.00 115.12h10.03v1.20h-10.03zM423.83 115.12h10.03v1.20h-10.03zM433.66 115.12h10.03v1.20h-10.03zM443.50 115.12h10.03v1.20h-10.03zM453.33 115.12h10.03v1.20h-10.03zM463.16 115.12h10.03v1.20h-10.03zM472.99 115.12h10.03v1.20h-10.03zM423.83 116.12h10.03v1.20h-10.03zM433.66 116.12h10.03v1.20h-10.03zM463.16 116.12h10.03v1.20h-10.03zM423.83 117.12h10.03v1.20h-10.03zM443.50 117.12h10.03v1.20h-10.03zM453.33 117.12h10.03v1.20h-10.03zM423.83 118.12h10.03v1.20h-10.03zM433.66 118.12h10.03v1.20h-10.03zM443.50 118.12h10.03v1.20h-10.03zM453.33 118.12h10.03v1.20h-10.03zM463.16 118.12h10.03v1.20h-10.03zM433.66 120.12h10.03v1.20h-10.03zM453.33 120.12h10.03v1.20h-10.03zM433.66 121.12h10.03v1.20h-10.03zM453.33 121.12h10.03v1.20h-10.03zM463.16 121.12h10.03v1.20h-10.03zM472.99 121.12h10.03v1.20h-10.03zM414.00 122.11h10.03v1.20h-10.03zM423.83 122.11h10.03v1.20h-10.03zM443.50 122.11h10.03v1.20h-10.03zM433.66 123.11h10.03v1.20h-10.03zM443.50 123.11h10.03v1.20h-10.03zM453.33 123.11h10.03v1.20h-10.03zM472.99 123.11h10.03v1.20h-10.03zM414.00 124.11h10.03v1.20h-10.03zM423.83 124.11h10.03v1.20h-10.03zM433.66 124.11h10.03v1.20h-10.03zM453.33 124.11h10.03v1.20h-10.03zM463.16 124.11h10.03v1.20h-10.03zM423.83 125.11h10.03v1.20h-10.03zM414.00 126.11h10.03v1.20h-10.03zM443.50 126.11h10.03v1.20h-10.03zM453.33 126.11h10.03v1.20h-10.03zM463.16 126.11h10.03v1.20h-10.03zM472.99 126.11h10.03v1.20h-10.03zM433.66 127.11h10.03v1.20h-10.03zM453.33 127.11h10.03v1.20h-10.03zM443.50 128.11h10.03v1.20h-10.03zM423.83 129.11h10.03v1.20h-10.03zM443.50 129.11h10.03v1.20h-10.03zM453.33 129.11h10.03v1.20h-10.03zM463.16 129.11h10.03v1.20h-10.03zM472.99 129.11h10.03v1.20h-10.03zM423.83 130.11h10.03v1.20h-10.03zM433.66 130.11h10.03v1.20h-10.03zM443.50 130.11h10.03v1.20h-10.03zM453.33 130.11h10.03v1.20h-10.03zM414.00 131.10h10.03v1.20h-10.03zM423.83 131.10h10.03v1.20h-10.03zM443.50 131.10h10.03v1.20h-10.03zM453.33 131.10h10.03v1.20h-10.03zM414.00 132.10h10.03v1.20h-10.03zM423.83 132.10h10.03v1.20h-10.03zM423.83 133.10h10.03v1.20h-10.03zM433.66 133.10h10.03v1.20h-10.03zM443.50 133.10h10.03v1.20h-10.03zM453.33 133.10h10.03v1.20h-10.03zM463.16 133.10h10.03v1.20h-10.03zM472.99 133.10h10.03v1.20h-10.03zM414.00 134.10h10.03v1.20h-10.03zM443.50 134.10h10.03v1.20h-10.03zM453.33 134.10h10.03v1.20h-10.03zM463.16 134.10h10.03v1.20h-10.03zM472.99 134.10h10.03v1.20h-10.03zM590.98 134.10h10.03v1.20h-10.03zM443.50 135.10h10.03v1.20h-10.03zM463.16 135.10h10.03v1.20h-10.03zM472.99 135.10h10.03v1.20h-10.03zM590.98 136.10h10.03v1.20h-10.03zM463.16 137.10h10.03v1.20h-10.03zM590.98 137.10h10.03v1.20h-10.03zM414.00 139.10h10.03v1.20h-10.03zM423.83 139.10h10.03v1.20h-10.03zM453.33 139.10h10.03v1.20h-10.03zM463.16 139.10h10.03v1.20h-10.03zM423.83 140.10h10.03v1.20h-10.03zM463.16 140.10h10.03v1.20h-10.03zM472.99 140.10h10.03v1.20h-10.03zM414.00 141.09h10.03v1.20h-10.03zM433.66 141.09h10.03v1.20h-10.03zM463.16 141.09h10.03v1.20h-10.03zM590.98 141.09h10.03v1.20h-10.03zM423.83 142.09h10.03v1.20h-10.03zM443.50 142.09h10.03v1.20h-10.03zM472.99 142.09h10.03v1.20h-10.03zM581.14 146.09h10.03v1.20h-10.03zM541.82 147.09h10.03v1.20h-10.03zM551.65 148.09h10.03v1.20h-10.03zM531.98 149.09h10.03v1.20h-10.03zM551.65 149.09h10.03v1.20h-10.03zM531.98 150.08h10.03v1.20h-10.03zM581.14 151.08h10.03v1.20h-10.03zM541.82 152.08h10.03v1.20h-10.03zM551.65 152.08h10.03v1.20h-10.03zM541.82 153.08h10.03v1.20h-10.03zM551.65 153.08h10.03v1.20h-10.03zM541.82 156.08h10.03v1.20h-10.03zM541.82 158.08h10.03v1.20h-10.03zM531.98 161.07h10.03v1.20h-10.03zM531.98 162.07h10.03v1.20h-10.03zM541.82 162.07h10.03v1.20h-10.03zM581.14 163.07h10.03v1.20h-10.03zM551.65 164.07h10.03v1.20h-10.03zM541.82 165.07h10.03v1.20h-10.03zM581.14 165.07h10.03v1.20h-10.03zM531.98 166.07h10.03v1.20h-10.03zM551.65 166.07h10.03v1.20h-10.03zM531.98 169.06h10.03v1.20h-10.03zM541.82 169.06h10.03v1.20h-10.03zM541.82 170.06h10.03v1.20h-10.03zM541.82 171.06h10.03v1.20h-10.03zM541.82 173.06h10.03v1.20h-10.03zM551.65 173.06h10.03v1.20h-10.03zM581.14 174.06h10.03v1.20h-10.03zM581.14 176.06h10.03v1.20h-10.03zM531.98 177.06h10.03v1.20h-10.03zM541.82 177.06h10.03v1.20h-10.03zM581.14 179.05h10.03v1.20h-10.03zM531.98 181.05h10.03v1.20h-10.03zM541.82 181.05h10.03v1.20h-10.03zM551.65 183.05h10.03v1.20h-10.03zM541.82 184.05h10.03v1.20h-10.03zM541.82 185.05h10.03v1.20h-10.03zM581.14 185.05h10.03v1.20h-10.03zM531.98 186.05h10.03v1.20h-10.03zM541.82 186.05h10.03v1.20h-10.03zM531.98 187.05h10.03v1.20h-10.03zM551.65 187.05h10.03v1.20h-10.03zM571.31 191.04h10.03v1.20h-10.03zM531.98 192.04h10.03v1.20h-10.03zM541.82 192.04h10.03v1.20h-10.03zM551.65 194.04h10.03v1.20h-10.03zM531.98 195.04h10.03v1.20h-10.03zM541.82 195.04h10.03v1.20h-10.03zM551.65 195.04h10.03v1.20h-10.03zM561.48 197.04h10.03v1.20h-10.03zM531.98 198.03h10.03v1.20h-10.03zM541.82 198.03h10.03v1.20h-10.03zM541.82 199.03h10.03v1.20h-10.03zM541.82 200.03h10.03v1.20h-10.03zM551.65 200.03h10.03v1.20h-10.03zM571.31 201.03h10.03v1.20h-10.03zM551.65 202.03h10.03v1.20h-10.03zM482.82 203.03h10.03v1.20h-10.03zM531.98 203.03h10.03v1.20h-10.03zM541.82 203.03h10.03v1.20h-10.03zM551.65 204.03h10.03v1.20h-10.03zM531.98 205.03h10.03v1.20h-10.03zM541.82 205.03h10.03v1.20h-10.03zM541.82 206.03h10.03v1.20h-10.03zM531.98 207.03h10.03v1.20h-10.03zM531.98 208.02h10.03v1.20h-10.03zM541.82 208.02h10.03v1.20h-10.03zM551.65 208.02h10.03v1.20h-10.03zM541.82 209.02h10.03v1.20h-10.03zM551.65 209.02h10.03v1.20h-10.03zM551.65 210.02h10.03v1.20h-10.03zM541.82 211.02h10.03v1.20h-10.03zM531.98 212.02h10.03v1.20h-10.03zM551.65 212.02h10.03v1.20h-10.03zM541.82 213.02h10.03v1.20h-10.03zM531.98 215.02h10.03v1.20h-10.03zM561.48 217.01h10.03v1.20h-10.03zM581.14 217.01h10.03v1.20h-10.03zM551.65 219.01h10.03v1.20h-10.03zM531.98 221.01h10.03v1.20h-10.03zM541.82 221.01h10.03v1.20h-10.03zM551.65 222.01h10.03v1.20h-10.03zM571.31 222.01h10.03v1.20h-10.03zM581.14 222.01h10.03v1.20h-10.03zM531.98 223.01h10.03v1.20h-10.03zM541.82 224.01h10.03v1.20h-10.03zM581.14 225.01h10.03v1.20h-10.03zM551.65 226.01h10.03v1.20h-10.03zM541.82 227.00h10.03v1.20h-10.03zM531.98 228.00h10.03v1.20h-10.03zM531.98 229.00h10.03v1.20h-10.03zM541.82 229.00h10.03v1.20h-10.03zM482.82 230.00h10.03v1.20h-10.03zM551.65 230.00h10.03v1.20h-10.03z" fill="#330040"/>
<path d="M414.00 41.20h10.03v1.20h-10.03zM443.50 41.20h10.03v1.20h-10.03zM414.00 42.20h10.03v1.20h-10.03zM423.83 42.20h10.03v1.20h-10.03zM472.99 42.20h10.03v1.20h-10.03zM414.00 43.20h10.03v1.20h-10.03zM423.83 43.20h10.03v1.20h-10.03zM443.50 43.20h10.03v1.20h-10.03zM472.99 43.20h10.03v1.20h-10.03zM423.83 45.19h10.03v1.20h-10.03zM433.66 45.19h10.03v1.20h-10.03zM453.33 45.19h10.03v1.20h-10.03zM423.83 46.19h10.03v1.20h-10.03zM443.50 46.19h10.03v1.20h-10.03zM512.32 46.19h10.03v1.20h-10.03zM414.00 47.19h10.03v1.20h-10.03zM443.50 47.19h10.03v1.20h-10.03zM414.00 48.19h10.03v1.20h-10.03zM423.83 48.19h10.03v1.20h-10.03zM433.66 48.19h10.03v1.20h-10.03zM443.50 48.19h10.03v1.20h-10.03zM453.33 48.19h10.03v1.20h-10.03zM463.16 48.19h10.03v1.20h-10.03zM512.32 48.19h10.03v1.20h-10.03zM443.50 49.19h10.03v1.20h-10.03zM433.66 50.19h10.03v1.20h-10.03zM512.32 50.19h10.03v1.20h-10.03zM433.66 51.19h10.03v1.20h-10.03zM453.33 51.19h10.03v1.20h-10.03zM472.99 51.19h10.03v1.20h-10.03zM453.33 52.19h10.03v1.20h-10.03zM472.99 52.19h10.03v1.20h-10.03zM443.50 55.18h10.03v1.20h-10.03zM463.16 55.18h10.03v1.20h-10.03zM414.00 56.18h10.03v1.20h-10.03zM423.83 56.18h10.03v1.20h-10.03zM433.66 56.18h10.03v1.20h-10.03zM443.50 56.18h10.03v1.20h-10.03zM463.16 56.18h10.03v1.20h-10.03zM414.00 57.18h10.03v1.20h-10.03zM423.83 57.18h10.03v1.20h-10.03zM433.66 57.18h10.03v1.20h-10.03zM443.50 57.18h10.03v1.20h-10.03zM453.33 57.18h10.03v1.20h-10.03zM423.83 59.18h10.03v1.20h-10.03zM433.66 59.18h10.03v1.20h-10.03zM443.50 59.18h10.03v1.20h-10.03zM453.33 59.18h10.03v1.20h-10.03zM463.16 59.18h10.03v1.20h-10.03zM472.99 59.18h10.03v1.20h-10.03zM414.00 60.18h10.03v1.20h-10.03zM443.50 60.18h10.03v1.20h-10.03zM472.99 60.18h10.03v1.20h-10.03zM414.00 61.18h10.03v1.20h-10.03zM443.50 61.18h10.03v1.20h-10.03zM463.16 61.18h10.03v1.20h-10.03zM512.32 61.18h10.03v1.20h-10.03zM423.83 62.18h10.03v1.20h-10.03zM433.66 62.18h10.03v1.20h-10.03zM512.32 62.18h10.03v1.20h-10.03zM423.83 65.17h10.03v1.20h-10.03zM433.66 65.17h10.03v1.20h-10.03zM453.33 65.17h10.03v1.20h-10.03zM463.16 65.17h10.03v1.20h-10.03zM433.66 66.17h10.03v1.20h-10.03zM512.32 66.17h10.03v1.20h-10.03zM433.66 68.17h10.03v1.20h-10.03zM423.83 69.17h10.03v1.20h-10.03zM463.16 69.17h10.03v1.20h-10.03zM463.16 70.17h10.03v1.20h-10.03zM472.99 70.17h10.03v1.20h-10.03zM414.00 71.17h10.03v1.20h-10.03zM423.83 71.17h10.03v1.20h-10.03zM443.50 73.17h10.03v1.20h-10.03zM443.50 74.16h10.03v1.20h-10.03zM423.83 75.16h10.03v1.20h-10.03zM414.00 77.16h10.03v1.20h-10.03zM423.83 77.16h10.03v1.20h-10.03zM433.66 77.16h10.03v1.20h-10.03zM453.33 77.16h10.03v1.20h-10.03zM463.16 77.16h10.03v1.20h-10.03zM443.50 79.16h10.03v1.20h-10.03zM463.16 79.16h10.03v1.20h-10.03zM472.99 79.16h10.03v1.20h-10.03zM423.83 83.15h10.03v1.20h-10.03zM433.66 83.15h10.03v1.20h-10.03zM453.33 83.15h10.03v1.20h-10.03zM423.83 84.15h10.03v1.20h-10.03zM433.66 84.15h10.03v1.20h-10.03zM472.99 84.15h10.03v1.20h-10.03zM512.32 84.15h10.03v1.20h-10.03zM443.50 86.15h10.03v1.20h-10.03zM463.16 87.15h10.03v1.20h-10.03zM414.00 88.15h10.03v1.20h-10.03zM423.83 88.15h10.03v1.20h-10.03zM433.66 88.15h10.03v1.20h-10.03zM453.33 88.15h10.03v1.20h-10.03zM414.00 89.15h10.03v1.20h-10.03zM423.83 89.15h10.03v1.20h-10.03zM443.50 89.15h10.03v1.20h-10.03zM423.83 90.15h10.03v1.20h-10.03zM453.33 90.15h10.03v1.20h-10.03zM423.83 91.15h10.03v1.20h-10.03zM443.50 91.15h10.03v1.20h-10.03zM453.33 91.15h10.03v1.20h-10.03zM463.16 91.15h10.03v1.20h-10.03zM414.00 92.15h10.03v1.20h-10.03zM423.83 92.15h10.03v1.20h-10.03zM433.66 92.15h10.03v1.20h-10.03zM463.16 92.15h10.03v1.20h-10.03zM512.32 92.15h10.03v1.20h-10.03zM512.32 94.14h10.03v1.20h-10.03zM414.00 95.14h10.03v1.20h-10.03zM423.83 95.14h10.03v1.20h-10.03zM433.66 95.14h10.03v1.20h-10.03zM453.33 95.14h10.03v1.20h-10.03zM463.16 95.14h10.03v1.20h-10.03zM512.32 95.14h10.03v1.20h-10.03zM423.83 97.14h10.03v1.20h-10.03zM443.50 97.14h10.03v1.20h-10.03zM453.33 98.14h10.03v1.20h-10.03zM472.99 98.14h10.03v1.20h-10.03zM443.50 99.14h10.03v1.20h-10.03zM463.16 99.14h10.03v1.20h-10.03zM443.50 100.14h10.03v1.20h-10.03zM423.83 101.14h10.03v1.20h-10.03zM463.16 101.14h10.03v1.20h-10.03zM472.99 101.14h10.03v1.20h-10.03zM453.33 102.14h10.03v1.20h-10.03zM512.32 102.14h10.03v1.20h-10.03zM414.00 103.13h10.03v1.20h-10.03zM423.83 103.13h10.03v1.20h-10.03zM433.66 103.13h10.03v1.20h-10.03zM443.50 103.13h10.03v1.20h-10.03zM472.99 103.13h10.03v1.20h-10.03zM512.32 103.13h10.03v1.20h-10.03zM423.83 104.13h10.03v1.20h-10.03zM443.50 104.13h10.03v1.20h-10.03zM463.16 104.13h10.03v1.20h-10.03zM472.99 104.13h10.03v1.20h-10.03zM433.66 106.13h10.03v1.20h-10.03zM463.16 106.13h10.03v1.20h-10.03zM512.32 109.13h10.03v1.20h-10.03zM453.33 110.13h10.03v1.20h-10.03zM423.83 114.12h10.03v1.20h-10.03zM463.16 117.12h10.03v1.20h-10.03zM472.99 117.12h10.03v1.20h-10.03zM414.00 121.12h10.03v1.20h-10.03zM423.83 121.12h10.03v1.20h-10.03zM443.50 121.12h10.03v1.20h-10.03zM512.32 121.12h10.03v1.20h-10.03zM463.16 122.11h10.03v1.20h-10.03zM443.50 124.11h10.03v1.20h-10.03zM414.00 129.11h10.03v1.20h-10.03zM414.00 130.11h10.03v1.20h-10.03zM463.16 130.11h10.03v1.20h-10.03zM472.99 130.11h10.03v1.20h-10.03zM433.66 132.10h10.03v1.20h-10.03zM443.50 132.10h10.03v1.20h-10.03zM472.99 132.10h10.03v1.20h-10.03zM512.32 133.10h10.03v1.20h-10.03zM423.83 134.10h10.03v1.20h-10.03zM433.66 134.10h10.03v1.20h-10.03zM541.82 134.10h10.03v1.20h-10.03zM561.48 134.10h10.03v1.20h-10.03zM571.31 134.10h10.03v1.20h-10.03zM414.00 136.10h10.03v1.20h-10.03zM453.33 137.10h10.03v1.20h-10.03zM472.99 137.10h10.03v1.20h-10.03zM561.48 137.10h10.03v1.20h-10.03zM571.31 137.10h10.03v1.20h-10.03zM433.66 139.10h10.03v1.20h-10.03zM443.50 139.10h10.03v1.20h-10.03zM472.99 139.10h10.03v1.20h-10.03zM414.00 140.10h10.03v1.20h-10.03zM433.66 140.10h10.03v1.20h-10.03zM443.50 140.10h10.03v1.20h-10.03zM453.33 140.10h10.03v1.20h-10.03zM561.48 140.10h10.03v1.20h-10.03zM590.98 140.10h10.03v1.20h-10.03zM590.98 142.09h10.03v1.20h-10.03zM414.00 143.09h10.03v1.20h-10.03zM590.98 143.09h10.03v1.20h-10.03zM571.31 145.09h10.03v1.20h-10.03zM581.14 145.09h10.03v1.20h-10.03zM590.98 145.09h10.03v1.20h-10.03zM531.98 146.09h10.03v1.20h-10.03zM541.82 146.09h10.03v1.20h-10.03zM551.65 147.09h10.03v1.20h-10.03zM541.82 150.08h10.03v1.20h-10.03zM531.98 151.08h10.03v1.20h-10.03zM541.82 151.08h10.03v1.20h-10.03zM551.65 151.08h10.03v1.20h-10.03zM531.98 152.08h10.03v1.20h-10.03zM551.65 154.08h10.03v1.20h-10.03zM531.98 159.08h10.03v1.20h-10.03zM541.82 159.08h10.03v1.20h-10.03zM581.14 159.08h10.03v1.20h-10.03zM531.98 160.07h10.03v1.20h-10.03zM541.82 160.07h10.03v1.20h-10.03zM581.14 160.07h10.03v1.20h-10.03zM551.65 161.07h10.03v1.20h-10.03zM551.65 162.07h10.03v1.20h-10.03zM531.98 163.07h10.03v1.20h-10.03zM541.82 163.07h10.03v1.20h-10.03zM551.65 163.07h10.03v1.20h-10.03zM551.65 167.07h10.03v1.20h-10.03zM561.48 168.07h10.03v1.20h-10.03zM551.65 170.06h10.03v1.20h-10.03zM443.50 171.06h10.03v1.20h-10.03zM453.33 171.06h10.03v1.20h-10.03zM463.16 171.06h10.03v1.20h-10.03zM482.82 171.06h10.03v1.20h-10.03zM531.98 171.06h10.03v1.20h-10.03zM551.65 171.06h10.03v1.20h-10.03zM482.82 173.06h10.03v1.20h-10.03zM551.65 174.06h10.03v1.20h-10.03zM531.98 175.06h10.03v1.20h-10.03zM541.82 175.06h10.03v1.20h-10.03zM551.65 175.06h10.03v1.20h-10.03zM531.98 176.06h10.03v1.20h-10.03zM541.82 176.06h10.03v1.20h-10.03zM551.65 177.06h10.03v1.20h-10.03zM482.82 178.06h10.03v1.20h-10.03zM531.98 178.06h10.03v1.20h-10.03zM541.82 178.06h10.03v1.20h-10.03zM541.82 179.05h10.03v1.20h-10.03zM531.98 180.05h10.03v1.20h-10.03zM541.82 180.05h10.03v1.20h-10.03zM551.65 180.05h10.03v1.20h-10.03zM551.65 181.05h10.03v1.20h-10.03zM531.98 182.05h10.03v1.20h-10.03zM541.82 182.05h10.03v1.20h-10.03zM551.65 182.05h10.03v1.20h-10.03zM531.98 184.05h10.03v1.20h-10.03zM551.65 184.05h10.03v1.20h-10.03zM531.98 188.05h10.03v1.20h-10.03zM551.65 188.05h10.03v1.20h-10.03zM531.98 189.04h10.03v1.20h-10.03zM541.82 189.04h10.03v1.20h-10.03zM551.65 189.04h10.03v1.20h-10.03zM551.65 192.04h10.03v1.20h-10.03zM531.98 193.04h10.03v1.20h-10.03zM541.82 193.04h10.03v1.20h-10.03zM551.65 193.04h10.03v1.20h-10.03zM531.98 196.04h10.03v1.20h-10.03zM541.82 196.04h10.03v1.20h-10.03zM482.82 197.04h10.03v1.20h-10.03zM531.98 197.04h10.03v1.20h-10.03zM551.65 198.03h10.03v1.20h-10.03zM482.82 201.03h10.03v1.20h-10.03zM581.14 201.03h10.03v1.20h-10.03zM482.82 202.03h10.03v1.20h-10.03zM551.65 203.03h10.03v1.20h-10.03zM482.82 204.03h10.03v1.20h-10.03zM551.65 205.03h10.03v1.20h-10.03zM482.82 206.03h10.03v1.20h-10.03zM531.98 206.03h10.03v1.20h-10.03zM482.82 207.03h10.03v1.20h-10.03zM551.65 207.03h10.03v1.20h-10.03zM482.82 208.02h10.03v1.20h-10.03zM551.65 213.02h10.03v1.20h-10.03zM482.82 214.02h10.03v1.20h-10.03zM551.65 215.02h10.03v1.20h-10.03zM482.82 217.01h10.03v1.20h-10.03zM531.98 217.01h10.03v1.20h-10.03zM482.82 218.01h10.03v1.20h-10.03zM531.98 220.01h10.03v1.20h-10.03zM551.65 220.01h10.03v1.20h-10.03zM551.65 221.01h10.03v1.20h-10.03zM531.98 222.01h10.03v1.20h-10.03zM541.82 222.01h10.03v1.20h-10.03zM541.82 223.01h10.03v1.20h-10.03zM551.65 223.01h10.03v1.20h-10.03zM531.98 224.01h10.03v1.20h-10.03zM541.82 225.01h10.03v1.20h-10.03zM482.82 226.01h10.03v1.20h-10.03zM531.98 227.00h10.03v1.20h-10.03zM551.65 227.00h10.03v1.20h-10.03zM512.32 229.00h10.03v1.20h-10.03zM551.65 229.00h10.03v1.20h-10.03z" fill="#290033"/>
<path d="M512.32 40.20h10.03v1.20h-10.03zM453.33 41.20h10.03v1.20h-10.03zM512.32 41.20h10.03v1.20h-10.03zM433.66 42.20h10.03v1.20h-10.03zM453.33 42.20h10.03v1.20h-10.03zM512.32 42.20h10.03v1.20h-10.03zM433.66 43.20h10.03v1.20h-10.03zM453.33 43.20h10.03v1.20h-10.03zM463.16 43.20h10.03v1.20h-10.03zM414.00 44.20h10.03v1.20h-10.03zM443.50 44.20h10.03v1.20h-10.03zM453.33 44.20h10.03v1.20h-10.03zM512.32 45.19h10.03v1.20h-10.03zM472.99 48.19h10.03v1.20h-10.03zM512.32 49.19h10.03v1.20h-10.03zM512.32 51.19h10.03v1.20h-10.03zM512.32 53.19h10.03v1.20h-10.03zM512.32 54.19h10.03v1.20h-10.03zM423.83 55.18h10.03v1.20h-10.03zM512.32 55.18h10.03v1.20h-10.03zM472.99 56.18h10.03v1.20h-10.03zM512.32 56.18h10.03v1.20h-10.03zM423.83 61.18h10.03v1.20h-10.03zM433.66 61.18h10.03v1.20h-10.03zM472.99 61.18h10.03v1.20h-10.03zM414.00 65.17h10.03v1.20h-10.03zM512.32 68.17h10.03v1.20h-10.03zM433.66 69.17h10.03v1.20h-10.03zM443.50 69.17h10.03v1.20h-10.03zM453.33 69.17h10.03v1.20h-10.03zM433.66 70.17h10.03v1.20h-10.03zM463.16 71.17h10.03v1.20h-10.03zM512.32 72.17h10.03v1.20h-10.03zM443.50 75.16h10.03v1.20h-10.03zM414.00 79.16h10.03v1.20h-10.03zM423.83 79.16h10.03v1.20h-10.03zM433.66 79.16h10.03v1.20h-10.03zM453.33 79.16h10.03v1.20h-10.03zM512.32 80.16h10.03v1.20h-10.03zM512.32 83.15h10.03v1.20h-10.03zM443.50 84.15h10.03v1.20h-10.03zM512.32 85.15h10.03v1.20h-10.03zM512.32 86.15h10.03v1.20h-10.03zM472.99 87.15h10.03v1.20h-10.03zM512.32 87.15h10.03v1.20h-10.03zM512.32 89.15h10.03v1.20h-10.03zM512.32 90.15h10.03v1.20h-10.03zM414.00 91.15h10.03v1.20h-10.03zM433.66 91.15h10.03v1.20h-10.03zM512.32 91.15h10.03v1.20h-10.03zM512.32 93.14h10.03v1.20h-10.03zM443.50 95.14h10.03v1.20h-10.03zM512.32 96.14h10.03v1.20h-10.03zM512.32 97.14h10.03v1.20h-10.03zM414.00 98.14h10.03v1.20h-10.03zM423.83 98.14h10.03v1.20h-10.03zM433.66 98.14h10.03v1.20h-10.03zM443.50 98.14h10.03v1.20h-10.03zM463.16 98.14h10.03v1.20h-10.03zM512.32 101.14h10.03v1.20h-10.03zM512.32 104.13h10.03v1.20h-10.03zM512.32 105.13h10.03v1.20h-10.03zM423.83 106.13h10.03v1.20h-10.03zM443.50 106.13h10.03v1.20h-10.03zM512.32 106.13h10.03v1.20h-10.03zM414.00 107.13h10.03v1.20h-10.03zM433.66 107.13h10.03v1.20h-10.03zM463.16 107.13h10.03v1.20h-10.03zM512.32 107.13h10.03v1.20h-10.03zM512.32 108.13h10.03v1.20h-10.03zM414.00 112.12h10.03v1.20h-10.03zM433.66 112.12h10.03v1.20h-10.03zM443.50 112.12h10.03v1.20h-10.03zM453.33 112.12h10.03v1.20h-10.03zM472.99 112.12h10.03v1.20h-10.03zM512.32 112.12h10.03v1.20h-10.03zM512.32 113.12h10.03v1.20h-10.03zM512.32 114.12h10.03v1.20h-10.03zM512.32 116.12h10.03v1.20h-10.03zM512.32 117.12h10.03v1.20h-10.03zM512.32 119.12h10.03v1.20h-10.03zM512.32 120.12h10.03v1.20h-10.03zM463.16 132.10h10.03v1.20h-10.03zM512.32 132.10h10.03v1.20h-10.03zM522.15 132.10h10.03v1.20h-10.03zM482.82 134.10h10.03v1.20h-10.03zM531.98 134.10h10.03v1.20h-10.03zM551.65 134.10h10.03v1.20h-10.03zM581.14 134.10h10.03v1.20h-10.03zM590.98 135.10h10.03v1.20h-10.03zM433.66 136.10h10.03v1.20h-10.03zM443.50 136.10h10.03v1.20h-10.03zM453.33 136.10h10.03v1.20h-10.03zM463.16 136.10h10.03v1.20h-10.03zM541.82 136.10h10.03v1.20h-10.03zM561.48 136.10h10.03v1.20h-10.03zM571.31 136.10h10.03v1.20h-10.03zM414.00 137.10h10.03v1.20h-10.03zM423.83 137.10h10.03v1.20h-10.03zM433.66 137.10h10.03v1.20h-10.03zM443.50 137.10h10.03v1.20h-10.03zM531.98 137.10h10.03v1.20h-10.03zM551.65 137.10h10.03v1.20h-10.03zM581.14 137.10h10.03v1.20h-10.03zM541.82 139.10h10.03v1.20h-10.03zM571.31 139.10h10.03v1.20h-10.03zM590.98 139.10h10.03v1.20h-10.03zM531.98 140.10h10.03v1.20h-10.03zM541.82 140.10h10.03v1.20h-10.03zM581.14 140.10h10.03v1.20h-10.03zM561.48 141.09h10.03v1.20h-10.03zM571.31 141.09h10.03v1.20h-10.03zM581.14 141.09h10.03v1.20h-10.03zM531.98 142.09h10.03v1.20h-10.03zM541.82 142.09h10.03v1.20h-10.03zM551.65 142.09h10.03v1.20h-10.03zM561.48 142.09h10.03v1.20h-10.03zM571.31 142.09h10.03v1.20h-10.03zM581.14 142.09h10.03v1.20h-10.03zM433.66 143.09h10.03v1.20h-10.03zM463.16 143.09h10.03v1.20h-10.03zM531.98 143.09h10.03v1.20h-10.03zM541.82 143.09h10.03v1.20h-10.03zM561.48 143.09h10.03v1.20h-10.03zM571.31 143.09h10.03v1.20h-10.03zM581.14 143.09h10.03v1.20h-10.03zM571.31 144.09h10.03v1.20h-10.03zM541.82 145.09h10.03v1.20h-10.03zM551.65 145.09h10.03v1.20h-10.03zM561.48 145.09h10.03v1.20h-10.03zM551.65 146.09h10.03v1.20h-10.03zM531.98 147.09h10.03v1.20h-10.03zM482.82 148.09h10.03v1.20h-10.03zM551.65 150.08h10.03v1.20h-10.03zM482.82 156.08h10.03v1.20h-10.03zM482.82 158.08h10.03v1.20h-10.03zM531.98 158.08h10.03v1.20h-10.03zM551.65 158.08h10.03v1.20h-10.03zM551.65 159.08h10.03v1.20h-10.03zM551.65 160.07h10.03v1.20h-10.03zM482.82 163.07h10.03v1.20h-10.03zM482.82 164.07h10.03v1.20h-10.03zM531.98 165.07h10.03v1.20h-10.03zM551.65 165.07h10.03v1.20h-10.03zM531.98 168.07h10.03v1.20h-10.03zM541.82 168.07h10.03v1.20h-10.03zM571.31 168.07h10.03v1.20h-10.03zM482.82 169.06h10.03v1.20h-10.03zM551.65 169.06h10.03v1.20h-10.03zM414.00 171.06h10.03v1.20h-10.03zM433.66 171.06h10.03v1.20h-10.03zM472.99 171.06h10.03v1.20h-10.03zM482.82 172.06h10.03v1.20h-10.03zM531.98 172.06h10.03v1.20h-10.03zM541.82 172.06h10.03v1.20h-10.03zM551.65 172.06h10.03v1.20h-10.03zM482.82 174.06h10.03v1.20h-10.03zM531.98 174.06h10.03v1.20h-10.03zM541.82 174.06h10.03v1.20h-10.03zM482.82 176.06h10.03v1.20h-10.03zM551.65 176.06h10.03v1.20h-10.03zM482.82 177.06h10.03v1.20h-10.03zM551.65 178.06h10.03v1.20h-10.03zM482.82 179.05h10.03v1.20h-10.03zM531.98 179.05h10.03v1.20h-10.03zM551.65 179.05h10.03v1.20h-10.03zM482.82 181.05h10.03v1.20h-10.03zM482.82 182.05h10.03v1.20h-10.03zM482.82 183.05h10.03v1.20h-10.03zM482.82 184.05h10.03v1.20h-10.03zM482.82 185.05h10.03v1.20h-10.03zM531.98 185.05h10.03v1.20h-10.03zM482.82 186.05h10.03v1.20h-10.03zM551.65 186.05h10.03v1.20h-10.03zM482.82 187.05h10.03v1.20h-10.03zM482.82 188.05h10.03v1.20h-10.03zM482.82 189.04h10.03v1.20h-10.03zM482.82 190.04h10.03v1.20h-10.03zM482.82 191.04h10.03v1.20h-10.03zM541.82 191.04h10.03v1.20h-10.03zM561.48 191.04h10.03v1.20h-10.03zM581.14 191.04h10.03v1.20h-10.03zM482.82 192.04h10.03v1.20h-10.03zM482.82 194.04h10.03v1.20h-10.03zM482.82 195.04h10.03v1.20h-10.03zM482.82 196.04h10.03v1.20h-10.03zM551.65 196.04h10.03v1.20h-10.03zM492.66 197.04h10.03v1.20h-10.03zM541.82 197.04h10.03v1.20h-10.03zM551.65 197.04h10.03v1.20h-10.03zM482.82 198.03h10.03v1.20h-10.03zM551.65 199.03h10.03v1.20h-10.03zM482.82 200.03h10.03v1.20h-10.03zM492.66 200.03h10.03v1.20h-10.03zM531.98 201.03h10.03v1.20h-10.03zM541.82 201.03h10.03v1.20h-10.03zM551.65 201.03h10.03v1.20h-10.03zM492.66 203.03h10.03v1.20h-10.03zM492.66 204.03h10.03v1.20h-10.03zM482.82 205.03h10.03v1.20h-10.03zM551.65 206.03h10.03v1.20h-10.03zM482.82 209.02h10.03v1.20h-10.03zM482.82 211.02h10.03v1.20h-10.03zM551.65 211.02h10.03v1.20h-10.03zM482.82 213.02h10.03v1.20h-10.03zM531.98 213.02h10.03v1.20h-10.03zM492.66 215.02h10.03v1.20h-10.03zM531.98 216.02h10.03v1.20h-10.03zM551.65 216.02h10.03v1.20h-10.03zM571.31 216.02h10.03v1.20h-10.03zM581.14 216.02h10.03v1.20h-10.03zM492.66 217.01h10.03v1.20h-10.03zM541.82 217.01h10.03v1.20h-10.03zM551.65 217.01h10.03v1.20h-10.03zM492.66 218.01h10.03v1.20h-10.03zM492.66 219.01h10.03v1.20h-10.03zM482.82 220.01h10.03v1.20h-10.03zM482.82 222.01h10.03v1.20h-10.03zM482.82 223.01h10.03v1.20h-10.03zM551.65 224.01h10.03v1.20h-10.03zM482.82 225.01h10.03v1.20h-10.03zM531.98 225.01h10.03v1.20h-10.03zM551.65 225.01h10.03v1.20h-10.03zM482.82 227.00h10.03v1.20h-10.03zM482.82 228.00h10.03v1.20h-10.03zM492.66 229.00h10.03v1.20h-10.03zM502.49 229.00h10.03v1.20h-10.03zM522.15 229.00h10.03v1.20h-10.03z" fill="#1f0026"/>
<path d="M482.82 40.20h10.03v1.20h-10.03zM492.66 40.20h10.03v1.20h-10.03zM502.49 40.20h10.03v1.20h-10.03zM492.66 41.20h10.03v1.20h-10.03zM502.49 41.20h10.03v1.20h-10.03zM482.82 42.20h10.03v1.20h-10.03zM502.49 42.20h10.03v1.20h-10.03zM492.66 43.20h10.03v1.20h-10.03zM502.49 43.20h10.03v1.20h-10.03zM512.32 43.20h10.03v1.20h-10.03zM423.83 44.20h10.03v1.20h-10.03zM433.66 44.20h10.03v1.20h-10.03zM463.16 44.20h10.03v1.20h-10.03zM472.99 44.20h10.03v1.20h-10.03zM482.82 44.20h10.03v1.20h-10.03zM512.32 44.20h10.03v1.20h-10.03zM482.82 45.19h10.03v1.20h-10.03zM492.66 45.19h10.03v1.20h-10.03zM502.49 45.19h10.03v1.20h-10.03zM512.32 47.19h10.03v1.20h-10.03zM482.82 48.19h10.03v1.20h-10.03zM492.66 48.19h10.03v1.20h-10.03zM482.82 49.19h10.03v1.20h-10.03zM492.66 49.19h10.03v1.20h-10.03zM502.49 49.19h10.03v1.20h-10.03zM492.66 50.19h10.03v1.20h-10.03zM502.49 50.19h10.03v1.20h-10.03zM482.82 51.19h10.03v1.20h-10.03zM482.82 52.19h10.03v1.20h-10.03zM512.32 52.19h10.03v1.20h-10.03zM482.82 53.19h10.03v1.20h-10.03zM502.49 53.19h10.03v1.20h-10.03zM502.49 54.19h10.03v1.20h-10.03zM482.82 55.18h10.03v1.20h-10.03zM482.82 56.18h10.03v1.20h-10.03zM502.49 56.18h10.03v1.20h-10.03zM512.32 57.18h10.03v1.20h-10.03zM482.82 58.18h10.03v1.20h-10.03zM502.49 58.18h10.03v1.20h-10.03zM482.82 59.18h10.03v1.20h-10.03zM492.66 59.18h10.03v1.20h-10.03zM502.49 59.18h10.03v1.20h-10.03zM482.82 60.18h10.03v1.20h-10.03zM492.66 60.18h10.03v1.20h-10.03zM482.82 61.18h10.03v1.20h-10.03zM492.66 61.18h10.03v1.20h-10.03zM482.82 62.18h10.03v1.20h-10.03zM482.82 63.18h10.03v1.20h-10.03zM482.82 64.17h10.03v1.20h-10.03zM492.66 64.17h10.03v1.20h-10.03zM502.49 64.17h10.03v1.20h-10.03zM443.50 65.17h10.03v1.20h-10.03zM482.82 65.17h10.03v1.20h-10.03zM482.82 66.17h10.03v1.20h-10.03zM502.49 66.17h10.03v1.20h-10.03zM482.82 68.17h10.03v1.20h-10.03zM472.99 69.17h10.03v1.20h-10.03zM482.82 70.17h10.03v1.20h-10.03zM492.66 70.17h10.03v1.20h-10.03zM492.66 71.17h10.03v1.20h-10.03zM502.49 72.17h10.03v1.20h-10.03zM482.82 73.17h10.03v1.20h-10.03zM492.66 73.17h10.03v1.20h-10.03zM502.49 73.17h10.03v1.20h-10.03zM492.66 74.16h10.03v1.20h-10.03zM502.49 74.16h10.03v1.20h-10.03zM482.82 75.16h10.03v1.20h-10.03zM492.66 75.16h10.03v1.20h-10.03zM502.49 75.16h10.03v1.20h-10.03zM482.82 76.16h10.03v1.20h-10.03zM492.66 76.16h10.03v1.20h-10.03zM502.49 76.16h10.03v1.20h-10.03zM482.82 77.16h10.03v1.20h-10.03zM492.66 77.16h10.03v1.20h-10.03zM482.82 78.16h10.03v1.20h-10.03zM502.49 78.16h10.03v1.20h-10.03zM502.49 79.16h10.03v1.20h-10.03zM492.66 80.16h10.03v1.20h-10.03zM502.49 80.16h10.03v1.20h-10.03zM482.82 81.16h10.03v1.20h-10.03zM492.66 81.16h10.03v1.20h-10.03zM512.32 81.16h10.03v1.20h-10.03zM492.66 82.16h10.03v1.20h-10.03zM512.32 82.16h10.03v1.20h-10.03zM482.82 84.15h10.03v1.20h-10.03zM492.66 84.15h10.03v1.20h-10.03zM502.49 84.15h10.03v1.20h-10.03zM482.82 85.15h10.03v1.20h-10.03zM492.66 85.15h10.03v1.20h-10.03zM502.49 85.15h10.03v1.20h-10.03zM414.00 87.15h10.03v1.20h-10.03zM433.66 87.15h10.03v1.20h-10.03zM443.50 87.15h10.03v1.20h-10.03zM453.33 87.15h10.03v1.20h-10.03zM482.82 88.15h10.03v1.20h-10.03zM492.66 88.15h10.03v1.20h-10.03zM502.49 88.15h10.03v1.20h-10.03zM512.32 88.15h10.03v1.20h-10.03zM482.82 90.15h10.03v1.20h-10.03zM492.66 90.15h10.03v1.20h-10.03zM502.49 90.15h10.03v1.20h-10.03zM472.99 91.15h10.03v1.20h-10.03zM482.82 91.15h10.03v1.20h-10.03zM492.66 91.15h10.03v1.20h-10.03zM502.49 91.15h10.03v1.20h-10.03zM482.82 92.15h10.03v1.20h-10.03zM502.49 92.15h10.03v1.20h-10.03zM492.66 93.14h10.03v1.20h-10.03zM482.82 94.14h10.03v1.20h-10.03zM492.66 94.14h10.03v1.20h-10.03zM502.49 94.14h10.03v1.20h-10.03zM482.82 95.14h10.03v1.20h-10.03zM502.49 95.14h10.03v1.20h-10.03zM482.82 96.14h10.03v1.20h-10.03zM492.66 96.14h10.03v1.20h-10.03zM482.82 97.14h10.03v1.20h-10.03zM492.66 97.14h10.03v1.20h-10.03zM492.66 98.14h10.03v1.20h-10.03zM512.32 98.14h10.03v1.20h-10.03zM492.66 99.14h10.03v1.20h-10.03zM512.32 99.14h10.03v1.20h-10.03zM482.82 100.14h10.03v1.20h-10.03zM502.49 100.14h10.03v1.20h-10.03zM512.32 100.14h10.03v1.20h-10.03zM482.82 102.14h10.03v1.20h-10.03zM492.66 102.14h10.03v1.20h-10.03zM502.49 102.14h10.03v1.20h-10.03zM482.82 103.13h10.03v1.20h-10.03zM492.66 103.13h10.03v1.20h-10.03zM502.49 104.13h10.03v1.20h-10.03zM492.66 105.13h10.03v1.20h-10.03zM482.82 106.13h10.03v1.20h-10.03zM423.83 107.13h10.03v1.20h-10.03zM443.50 107.13h10.03v1.20h-10.03zM453.33 107.13h10.03v1.20h-10.03zM472.99 107.13h10.03v1.20h-10.03zM492.66 107.13h10.03v1.20h-10.03zM482.82 108.13h10.03v1.20h-10.03zM492.66 108.13h10.03v1.20h-10.03zM502.49 108.13h10.03v1.20h-10.03zM482.82 109.13h10.03v1.20h-10.03zM492.66 109.13h10.03v1.20h-10.03zM502.49 109.13h10.03v1.20h-10.03zM482.82 110.13h10.03v1.20h-10.03zM492.66 110.13h10.03v1.20h-10.03zM502.49 110.13h10.03v1.20h-10.03zM414.00 111.13h10.03v1.20h-10.03zM423.83 111.13h10.03v1.20h-10.03zM433.66 111.13h10.03v1.20h-10.03zM443.50 111.13h10.03v1.20h-10.03zM453.33 111.13h10.03v1.20h-10.03zM463.16 111.13h10.03v1.20h-10.03zM472.99 111.13h10.03v1.20h-10.03zM482.82 111.13h10.03v1.20h-10.03zM512.32 111.13h10.03v1.20h-10.03zM423.83 112.12h10.03v1.20h-10.03zM482.82 112.12h10.03v1.20h-10.03zM492.66 112.12h10.03v1.20h-10.03zM482.82 113.12h10.03v1.20h-10.03zM492.66 113.12h10.03v1.20h-10.03zM502.49 113.12h10.03v1.20h-10.03zM482.82 114.12h10.03v1.20h-10.03zM492.66 114.12h10.03v1.20h-10.03zM502.49 114.12h10.03v1.20h-10.03zM512.32 115.12h10.03v1.20h-10.03zM492.66 116.12h10.03v1.20h-10.03zM502.49 116.12h10.03v1.20h-10.03zM492.66 117.12h10.03v1.20h-10.03zM502.49 117.12h10.03v1.20h-10.03zM482.82 118.12h10.03v1.20h-10.03zM492.66 118.12h10.03v1.20h-10.03zM512.32 118.12h10.03v1.20h-10.03zM502.49 119.12h10.03v1.20h-10.03zM482.82 120.12h10.03v1.20h-10.03zM492.66 120.12h10.03v1.20h-10.03zM502.49 120.12h10.03v1.20h-10.03zM482.82 121.12h10.03v1.20h-10.03zM492.66 121.12h10.03v1.20h-10.03zM502.49 121.12h10.03v1.20h-10.03zM482.82 124.11h10.03v1.20h-10.03zM522.15 131.10h10.03v1.20h-10.03zM482.82 133.10h10.03v1.20h-10.03zM522.15 133.10h10.03v1.20h-10.03zM482.82 135.10h10.03v1.20h-10.03zM531.98 135.10h10.03v1.20h-10.03zM541.82 135.10h10.03v1.20h-10.03zM551.65 135.10h10.03v1.20h-10.03zM561.48 135.10h10.03v1.20h-10.03zM571.31 135.10h10.03v1.20h-10.03zM581.14 135.10h10.03v1.20h-10.03zM423.83 136.10h10.03v1.20h-10.03zM472.99 136.10h10.03v1.20h-10.03zM482.82 136.10h10.03v1.20h-10.03zM531.98 136.10h10.03v1.20h-10.03zM551.65 136.10h10.03v1.20h-10.03zM581.14 136.10h10.03v1.20h-10.03zM541.82 137.10h10.03v1.20h-10.03zM541.82 138.10h10.03v1.20h-10.03zM551.65 138.10h10.03v1.20h-10.03zM561.48 138.10h10.03v1.20h-10.03zM571.31 138.10h10.03v1.20h-10.03zM581.14 138.10h10.03v1.20h-10.03zM590.98 138.10h10.03v1.20h-10.03zM531.98 139.10h10.03v1.20h-10.03zM551.65 139.10h10.03v1.20h-10.03zM561.48 139.10h10.03v1.20h-10.03zM581.14 139.10h10.03v1.20h-10.03zM551.65 140.10h10.03v1.20h-10.03zM571.31 140.10h10.03v1.20h-10.03zM531.98 141.09h10.03v1.20h-10.03zM541.82 141.09h10.03v1.20h-10.03zM551.65 141.09h10.03v1.20h-10.03zM423.83 143.09h10.03v1.20h-10.03zM443.50 143.09h10.03v1.20h-10.03zM453.33 143.09h10.03v1.20h-10.03zM472.99 143.09h10.03v1.20h-10.03zM551.65 143.09h10.03v1.20h-10.03zM531.98 144.09h10.03v1.20h-10.03zM581.14 144.09h10.03v1.20h-10.03zM590.98 144.09h10.03v1.20h-10.03zM531.98 145.09h10.03v1.20h-10.03zM482.82 147.09h10.03v1.20h-10.03zM482.82 149.09h10.03v1.20h-10.03zM482.82 150.08h10.03v1.20h-10.03zM482.82 151.08h10.03v1.20h-10.03zM482.82 152.08h10.03v1.20h-10.03zM482.82 153.08h10.03v1.20h-10.03zM482.82 157.08h10.03v1.20h-10.03zM482.82 159.08h10.03v1.20h-10.03zM482.82 160.07h10.03v1.20h-10.03zM482.82 162.07h10.03v1.20h-10.03zM482.82 165.07h10.03v1.20h-10.03zM472.99 166.07h10.03v1.20h-10.03zM482.82 166.07h10.03v1.20h-10.03zM482.82 167.07h10.03v1.20h-10.03zM482.82 168.07h10.03v1.20h-10.03zM551.65 168.07h10.03v1.20h-10.03zM581.14 168.07h10.03v1.20h-10.03zM590.98 168.07h10.03v1.20h-10.03zM482.82 170.06h10.03v1.20h-10.03zM423.83 171.06h10.03v1.20h-10.03zM492.66 172.06h10.03v1.20h-10.03zM492.66 173.06h10.03v1.20h-10.03zM492.66 174.06h10.03v1.20h-10.03zM482.82 175.06h10.03v1.20h-10.03zM492.66 176.06h10.03v1.20h-10.03zM492.66 177.06h10.03v1.20h-10.03zM492.66 178.06h10.03v1.20h-10.03zM482.82 180.05h10.03v1.20h-10.03zM492.66 181.05h10.03v1.20h-10.03zM492.66 182.05h10.03v1.20h-10.03zM551.65 185.05h10.03v1.20h-10.03zM492.66 186.05h10.03v1.20h-10.03zM492.66 187.05h10.03v1.20h-10.03zM492.66 189.04h10.03v1.20h-10.03zM492.66 190.04h10.03v1.20h-10.03zM492.66 191.04h10.03v1.20h-10.03zM551.65 191.04h10.03v1.20h-10.03zM492.66 192.04h10.03v1.20h-10.03zM482.82 193.04h10.03v1.20h-10.03zM492.66 194.04h10.03v1.20h-10.03zM492.66 195.04h10.03v1.20h-10.03zM492.66 196.04h10.03v1.20h-10.03zM492.66 198.03h10.03v1.20h-10.03zM482.82 199.03h10.03v1.20h-10.03zM492.66 201.03h10.03v1.20h-10.03zM492.66 202.03h10.03v1.20h-10.03zM492.66 205.03h10.03v1.20h-10.03zM492.66 206.03h10.03v1.20h-10.03zM492.66 207.03h10.03v1.20h-10.03zM492.66 208.02h10.03v1.20h-10.03zM492.66 209.02h10.03v1.20h-10.03zM482.82 210.02h10.03v1.20h-10.03zM492.66 210.02h10.03v1.20h-10.03zM482.82 212.02h10.03v1.20h-10.03zM492.66 212.02h10.03v1.20h-10.03zM492.66 213.02h10.03v1.20h-10.03zM492.66 214.02h10.03v1.20h-10.03zM482.82 215.02h10.03v1.20h-10.03zM482.82 216.02h10.03v1.20h-10.03zM541.82 216.02h10.03v1.20h-10.03zM561.48 216.02h10.03v1.20h-10.03zM492.66 220.01h10.03v1.20h-10.03zM482.82 221.01h10.03v1.20h-10.03zM492.66 222.01h10.03v1.20h-10.03zM482.82 224.01h10.03v1.20h-10.03zM492.66 227.00h10.03v1.20h-10.03zM482.82 229.00h10.03v1.20h-10.03z" fill="#14001a"/>
<path d="M482.82 41.20h10.03v1.20h-10.03zM492.66 42.20h10.03v1.20h-10.03zM482.82 43.20h10.03v1.20h-10.03zM492.66 44.20h10.03v1.20h-10.03zM502.49 44.20h10.03v1.20h-10.03zM482.82 46.19h10.03v1.20h-10.03zM492.66 46.19h10.03v1.20h-10.03zM502.49 46.19h10.03v1.20h-10.03zM482.82 47.19h10.03v1.20h-10.03zM492.66 47.19h10.03v1.20h-10.03zM502.49 47.19h10.03v1.20h-10.03zM502.49 48.19h10.03v1.20h-10.03zM482.82 50.19h10.03v1.20h-10.03zM492.66 51.19h10.03v1.20h-10.03zM502.49 51.19h10.03v1.20h-10.03zM492.66 52.19h10.03v1.20h-10.03zM502.49 52.19h10.03v1.20h-10.03zM492.66 53.19h10.03v1.20h-10.03zM482.82 54.19h10.03v1.20h-10.03zM492.66 54.19h10.03v1.20h-10.03zM492.66 55.18h10.03v1.20h-10.03zM502.49 55.18h10.03v1.20h-10.03zM492.66 56.18h10.03v1.20h-10.03zM482.82 57.18h10.03v1.20h-10.03zM492.66 57.18h10.03v1.20h-10.03zM492.66 58.18h10.03v1.20h-10.03zM502.49 60.18h10.03v1.20h-10.03zM502.49 61.18h10.03v1.20h-10.03zM492.66 62.18h10.03v1.20h-10.03zM502.49 62.18h10.03v1.20h-10.03zM492.66 63.18h10.03v1.20h-10.03zM502.49 63.18h10.03v1.20h-10.03zM492.66 65.17h10.03v1.20h-10.03zM502.49 65.17h10.03v1.20h-10.03zM492.66 66.17h10.03v1.20h-10.03zM482.82 67.17h10.03v1.20h-10.03zM492.66 67.17h10.03v1.20h-10.03zM502.49 67.17h10.03v1.20h-10.03zM492.66 68.17h10.03v1.20h-10.03zM502.49 68.17h10.03v1.20h-10.03zM531.98 68.17h10.03v1.20h-10.03zM482.82 69.17h10.03v1.20h-10.03zM492.66 69.17h10.03v1.20h-10.03zM502.49 69.17h10.03v1.20h-10.03zM502.49 70.17h10.03v1.20h-10.03zM482.82 71.17h10.03v1.20h-10.03zM502.49 71.17h10.03v1.20h-10.03zM482.82 72.17h10.03v1.20h-10.03zM492.66 72.17h10.03v1.20h-10.03zM482.82 74.16h10.03v1.20h-10.03zM502.49 77.16h10.03v1.20h-10.03zM482.82 79.16h10.03v1.20h-10.03zM492.66 79.16h10.03v1.20h-10.03zM482.82 80.16h10.03v1.20h-10.03zM502.49 81.16h10.03v1.20h-10.03zM482.82 82.16h10.03v1.20h-10.03zM502.49 82.16h10.03v1.20h-10.03zM482.82 83.15h10.03v1.20h-10.03zM492.66 83.15h10.03v1.20h-10.03zM502.49 83.15h10.03v1.20h-10.03zM482.82 86.15h10.03v1.20h-10.03zM492.66 86.15h10.03v1.20h-10.03zM502.49 86.15h10.03v1.20h-10.03zM423.83 87.15h10.03v1.20h-10.03zM482.82 87.15h10.03v1.20h-10.03zM492.66 87.15h10.03v1.20h-10.03zM502.49 87.15h10.03v1.20h-10.03zM482.82 89.15h10.03v1.20h-10.03zM492.66 89.15h10.03v1.20h-10.03zM502.49 89.15h10.03v1.20h-10.03zM492.66 92.15h10.03v1.20h-10.03zM482.82 93.14h10.03v1.20h-10.03zM502.49 93.14h10.03v1.20h-10.03zM492.66 95.14h10.03v1.20h-10.03zM502.49 96.14h10.03v1.20h-10.03zM502.49 97.14h10.03v1.20h-10.03zM482.82 98.14h10.03v1.20h-10.03zM502.49 98.14h10.03v1.20h-10.03zM482.82 99.14h10.03v1.20h-10.03zM502.49 99.14h10.03v1.20h-10.03zM492.66 100.14h10.03v1.20h-10.03zM482.82 101.14h10.03v1.20h-10.03zM492.66 101.14h10.03v1.20h-10.03zM502.49 101.14h10.03v1.20h-10.03zM502.49 103.13h10.03v1.20h-10.03zM482.82 104.13h10.03v1.20h-10.03zM492.66 104.13h10.03v1.20h-10.03zM482.82 105.13h10.03v1.20h-10.03zM502.49 105.13h10.03v1.20h-10.03zM492.66 106.13h10.03v1.20h-10.03zM502.49 106.13h10.03v1.20h-10.03zM482.82 107.13h10.03v1.20h-10.03zM502.49 107.13h10.03v1.20h-10.03zM492.66 111.13h10.03v1.20h-10.03zM502.49 111.13h10.03v1.20h-10.03zM463.16 112.12h10.03v1.20h-10.03zM502.49 112.12h10.03v1.20h-10.03zM482.82 115.12h10.03v1.20h-10.03zM492.66 115.12h10.03v1.20h-10.03zM502.49 115.12h10.03v1.20h-10.03zM482.82 116.12h10.03v1.20h-10.03zM482.82 117.12h10.03v1.20h-10.03zM502.49 118.12h10.03v1.20h-10.03zM482.82 119.12h10.03v1.20h-10.03zM492.66 119.12h10.03v1.20h-10.03zM482.82 122.11h10.03v1.20h-10.03zM482.82 123.11h10.03v1.20h-10.03zM482.82 125.11h10.03v1.20h-10.03zM482.82 126.11h10.03v1.20h-10.03zM482.82 127.11h10.03v1.20h-10.03zM482.82 128.11h10.03v1.20h-10.03zM482.82 129.11h10.03v1.20h-10.03zM482.82 130.11h10.03v1.20h-10.03zM482.82 131.10h10.03v1.20h-10.03zM512.32 131.10h10.03v1.20h-10.03zM482.82 132.10h10.03v1.20h-10.03zM492.66 132.10h10.03v1.20h-10.03zM531.98 138.10h10.03v1.20h-10.03zM541.82 144.09h10.03v1.20h-10.03zM551.65 144.09h10.03v1.20h-10.03zM561.48 144.09h10.03v1.20h-10.03zM472.99 145.09h10.03v1.20h-10.03zM472.99 146.09h10.03v1.20h-10.03zM482.82 146.09h10.03v1.20h-10.03zM472.99 147.09h10.03v1.20h-10.03zM472.99 148.09h10.03v1.20h-10.03zM472.99 149.09h10.03v1.20h-10.03zM472.99 150.08h10.03v1.20h-10.03zM472.99 151.08h10.03v1.20h-10.03zM472.99 152.08h10.03v1.20h-10.03zM472.99 153.08h10.03v1.20h-10.03zM472.99 154.08h10.03v1.20h-10.03zM482.82 154.08h10.03v1.20h-10.03zM482.82 155.08h10.03v1.20h-10.03zM472.99 156.08h10.03v1.20h-10.03zM472.99 157.08h10.03v1.20h-10.03zM472.99 158.08h10.03v1.20h-10.03zM472.99 159.08h10.03v1.20h-10.03zM472.99 160.07h10.03v1.20h-10.03zM472.99 161.07h10.03v1.20h-10.03zM482.82 161.07h10.03v1.20h-10.03zM472.99 163.07h10.03v1.20h-10.03zM472.99 164.07h10.03v1.20h-10.03zM472.99 165.07h10.03v1.20h-10.03zM472.99 167.07h10.03v1.20h-10.03zM472.99 168.07h10.03v1.20h-10.03zM472.99 169.06h10.03v1.20h-10.03zM492.66 171.06h10.03v1.20h-10.03zM502.49 174.06h10.03v1.20h-10.03zM492.66 175.06h10.03v1.20h-10.03zM492.66 179.05h10.03v1.20h-10.03zM522.15 181.05h10.03v1.20h-10.03zM522.15 182.05h10.03v1.20h-10.03zM492.66 183.05h10.03v1.20h-10.03zM492.66 184.05h10.03v1.20h-10.03zM502.49 184.05h10.03v1.20h-10.03zM492.66 185.05h10.03v1.20h-10.03zM492.66 188.05h10.03v1.20h-10.03zM522.15 189.04h10.03v1.20h-10.03zM522.15 191.04h10.03v1.20h-10.03zM531.98 191.04h10.03v1.20h-10.03zM492.66 193.04h10.03v1.20h-10.03zM502.49 193.04h10.03v1.20h-10.03zM522.15 193.04h10.03v1.20h-10.03zM492.66 199.03h10.03v1.20h-10.03zM492.66 211.02h10.03v1.20h-10.03zM492.66 216.02h10.03v1.20h-10.03zM492.66 221.01h10.03v1.20h-10.03zM492.66 223.01h10.03v1.20h-10.03zM492.66 224.01h10.03v1.20h-10.03zM492.66 225.01h10.03v1.20h-10.03zM492.66 226.01h10.03v1.20h-10.03zM522.15 227.00h10.03v1.20h-10.03zM492.66 228.00h10.03v1.20h-10.03zM522.15 228.00h10.03v1.20h-10.03z" fill="#0a000d"/>
<path d="M522.15 40.20h10.03v1.20h-10.03zM531.98 42.20h10.03v1.20h-10.03zM522.15 52.19h10.03v1.20h-10.03zM551.65 53.19h10.03v1.20h-10.03zM502.49 57.18h10.03v1.20h-10.03zM551.65 58.18h10.03v1.20h-10.03zM581.14 58.18h10.03v1.20h-10.03zM551.65 65.17h10.03v1.20h-10.03zM522.15 72.17h10.03v1.20h-10.03zM531.98 72.17h10.03v1.20h-10.03zM551.65 72.17h10.03v1.20h-10.03zM492.66 78.16h10.03v1.20h-10.03zM551.65 79.16h10.03v1.20h-10.03zM551.65 82.16h10.03v1.20h-10.03zM522.15 83.15h10.03v1.20h-10.03zM551.65 88.15h10.03v1.20h-10.03zM522.15 91.15h10.03v1.20h-10.03zM531.98 91.15h10.03v1.20h-10.03zM551.65 93.14h10.03v1.20h-10.03zM522.15 100.14h10.03v1.20h-10.03zM551.65 113.12h10.03v1.20h-10.03zM522.15 115.12h10.03v1.20h-10.03zM551.65 117.12h10.03v1.20h-10.03zM522.15 121.12h10.03v1.20h-10.03zM492.66 122.11h10.03v1.20h-10.03zM492.66 124.11h10.03v1.20h-10.03zM492.66 129.11h10.03v1.20h-10.03zM512.32 129.11h10.03v1.20h-10.03zM492.66 131.10h10.03v1.20h-10.03zM531.98 132.10h10.03v1.20h-10.03zM551.65 132.10h10.03v1.20h-10.03zM492.66 133.10h10.03v1.20h-10.03zM531.98 133.10h10.03v1.20h-10.03zM581.14 133.10h10.03v1.20h-10.03zM472.99 144.09h10.03v1.20h-10.03zM482.82 144.09h10.03v1.20h-10.03zM414.00 146.09h10.03v1.20h-10.03zM414.00 148.09h10.03v1.20h-10.03zM423.83 148.09h10.03v1.20h-10.03zM414.00 151.08h10.03v1.20h-10.03zM492.66 154.08h10.03v1.20h-10.03zM472.99 155.08h10.03v1.20h-10.03zM414.00 157.08h10.03v1.20h-10.03zM414.00 158.08h10.03v1.20h-10.03zM414.00 162.07h10.03v1.20h-10.03zM472.99 162.07h10.03v1.20h-10.03zM472.99 170.06h10.03v1.20h-10.03zM522.15 172.06h10.03v1.20h-10.03zM522.15 173.06h10.03v1.20h-10.03zM512.32 175.06h10.03v1.20h-10.03zM522.15 175.06h10.03v1.20h-10.03zM502.49 176.06h10.03v1.20h-10.03zM522.15 176.06h10.03v1.20h-10.03zM522.15 177.06h10.03v1.20h-10.03zM502.49 178.06h10.03v1.20h-10.03zM512.32 178.06h10.03v1.20h-10.03zM522.15 178.06h10.03v1.20h-10.03zM502.49 179.05h10.03v1.20h-10.03zM492.66 180.05h10.03v1.20h-10.03zM502.49 180.05h10.03v1.20h-10.03zM512.32 180.05h10.03v1.20h-10.03zM502.49 181.05h10.03v1.20h-10.03zM522.15 183.05h10.03v1.20h-10.03zM522.15 184.05h10.03v1.20h-10.03zM502.49 185.05h10.03v1.20h-10.03zM522.15 185.05h10.03v1.20h-10.03zM502.49 186.05h10.03v1.20h-10.03zM522.15 186.05h10.03v1.20h-10.03zM522.15 187.05h10.03v1.20h-10.03zM522.15 188.05h10.03v1.20h-10.03zM502.49 189.04h10.03v1.20h-10.03zM522.15 190.04h10.03v1.20h-10.03zM512.32 193.04h10.03v1.20h-10.03zM502.49 194.04h10.03v1.20h-10.03zM502.49 195.04h10.03v1.20h-10.03zM512.32 195.04h10.03v1.20h-10.03zM522.15 195.04h10.03v1.20h-10.03zM522.15 205.03h10.03v1.20h-10.03zM522.15 211.02h10.03v1.20h-10.03zM502.49 221.01h10.03v1.20h-10.03zM502.49 222.01h10.03v1.20h-10.03zM522.15 222.01h10.03v1.20h-10.03zM502.49 223.01h10.03v1.20h-10.03zM502.49 224.01h10.03v1.20h-10.03zM512.32 224.01h10.03v1.20h-10.03zM522.15 224.01h10.03v1.20h-10.03zM502.49 225.01h10.03v1.20h-10.03zM522.15 225.01h10.03v1.20h-10.03zM522.15 226.01h10.03v1.20h-10.03zM502.49 227.00h10.03v1.20h-10.03zM502.49 228.00h10.03v1.20h-10.03zM512.32 228.00h10.03v1.20h-10.03zM443.50 229.00h10.03v1.20h-10.03z" fill="#000000"/>
<path d="M531.98 40.20h10.03v1.20h-10.03zM581.14 42.20h10.03v1.20h-10.03zM522.15 43.20h10.03v1.20h-10.03zM551.65 43.20h10.03v1.20h-10.03zM522.15 44.20h10.03v1.20h-10.03zM531.98 44.20h10.03v1.20h-10.03zM551.65 45.19h10.03v1.20h-10.03zM531.98 46.19h10.03v1.20h-10.03zM551.65 46.19h10.03v1.20h-10.03zM522.15 47.19h10.03v1.20h-10.03zM522.15 48.19h10.03v1.20h-10.03zM531.98 48.19h10.03v1.20h-10.03zM531.98 51.19h10.03v1.20h-10.03zM551.65 52.19h10.03v1.20h-10.03zM522.15 53.19h10.03v1.20h-10.03zM531.98 53.19h10.03v1.20h-10.03zM522.15 54.19h10.03v1.20h-10.03zM551.65 54.19h10.03v1.20h-10.03zM551.65 55.18h10.03v1.20h-10.03zM522.15 57.18h10.03v1.20h-10.03zM531.98 57.18h10.03v1.20h-10.03zM531.98 58.18h10.03v1.20h-10.03zM541.82 58.18h10.03v1.20h-10.03zM551.65 59.18h10.03v1.20h-10.03zM581.14 60.18h10.03v1.20h-10.03zM522.15 62.18h10.03v1.20h-10.03zM522.15 63.18h10.03v1.20h-10.03zM531.98 64.17h10.03v1.20h-10.03zM551.65 64.17h10.03v1.20h-10.03zM581.14 66.17h10.03v1.20h-10.03zM522.15 67.17h10.03v1.20h-10.03zM551.65 69.17h10.03v1.20h-10.03zM522.15 70.17h10.03v1.20h-10.03zM531.98 70.17h10.03v1.20h-10.03zM531.98 71.17h10.03v1.20h-10.03zM571.31 72.17h10.03v1.20h-10.03zM581.14 72.17h10.03v1.20h-10.03zM531.98 73.17h10.03v1.20h-10.03zM531.98 75.16h10.03v1.20h-10.03zM551.65 75.16h10.03v1.20h-10.03zM522.15 76.16h10.03v1.20h-10.03zM531.98 76.16h10.03v1.20h-10.03zM531.98 77.16h10.03v1.20h-10.03zM551.65 77.16h10.03v1.20h-10.03zM581.14 77.16h10.03v1.20h-10.03zM522.15 78.16h10.03v1.20h-10.03zM551.65 78.16h10.03v1.20h-10.03zM551.65 81.16h10.03v1.20h-10.03zM522.15 82.16h10.03v1.20h-10.03zM531.98 83.15h10.03v1.20h-10.03zM541.82 83.15h10.03v1.20h-10.03zM551.65 83.15h10.03v1.20h-10.03zM551.65 84.15h10.03v1.20h-10.03zM551.65 85.15h10.03v1.20h-10.03zM522.15 86.15h10.03v1.20h-10.03zM531.98 87.15h10.03v1.20h-10.03zM551.65 87.15h10.03v1.20h-10.03zM522.15 88.15h10.03v1.20h-10.03zM531.98 88.15h10.03v1.20h-10.03zM531.98 89.15h10.03v1.20h-10.03zM551.65 89.15h10.03v1.20h-10.03zM522.15 90.15h10.03v1.20h-10.03zM551.65 90.15h10.03v1.20h-10.03zM551.65 91.15h10.03v1.20h-10.03zM522.15 93.14h10.03v1.20h-10.03zM531.98 94.14h10.03v1.20h-10.03zM551.65 95.14h10.03v1.20h-10.03zM522.15 96.14h10.03v1.20h-10.03zM551.65 97.14h10.03v1.20h-10.03zM531.98 98.14h10.03v1.20h-10.03zM551.65 98.14h10.03v1.20h-10.03zM531.98 99.14h10.03v1.20h-10.03zM551.65 99.14h10.03v1.20h-10.03zM522.15 102.14h10.03v1.20h-10.03zM522.15 103.13h10.03v1.20h-10.03zM522.15 105.13h10.03v1.20h-10.03zM522.15 108.13h10.03v1.20h-10.03zM522.15 109.13h10.03v1.20h-10.03zM522.15 111.13h10.03v1.20h-10.03zM522.15 113.12h10.03v1.20h-10.03zM522.15 117.12h10.03v1.20h-10.03zM522.15 118.12h10.03v1.20h-10.03zM492.66 123.11h10.03v1.20h-10.03zM502.49 123.11h10.03v1.20h-10.03zM492.66 125.11h10.03v1.20h-10.03zM502.49 126.11h10.03v1.20h-10.03zM492.66 127.11h10.03v1.20h-10.03zM502.49 129.11h10.03v1.20h-10.03zM531.98 129.11h10.03v1.20h-10.03zM492.66 130.11h10.03v1.20h-10.03zM531.98 130.11h10.03v1.20h-10.03zM502.49 131.10h10.03v1.20h-10.03zM531.98 131.10h10.03v1.20h-10.03zM551.65 131.10h10.03v1.20h-10.03zM581.14 131.10h10.03v1.20h-10.03zM502.49 132.10h10.03v1.20h-10.03zM541.82 132.10h10.03v1.20h-10.03zM502.49 133.10h10.03v1.20h-10.03zM541.82 133.10h10.03v1.20h-10.03zM482.82 138.10h10.03v1.20h-10.03zM482.82 141.09h10.03v1.20h-10.03zM492.66 143.09h10.03v1.20h-10.03zM492.66 144.09h10.03v1.20h-10.03zM414.00 145.09h10.03v1.20h-10.03zM443.50 145.09h10.03v1.20h-10.03zM423.83 146.09h10.03v1.20h-10.03zM414.00 147.09h10.03v1.20h-10.03zM453.33 147.09h10.03v1.20h-10.03zM453.33 148.09h10.03v1.20h-10.03zM414.00 150.08h10.03v1.20h-10.03zM414.00 154.08h10.03v1.20h-10.03zM414.00 155.08h10.03v1.20h-10.03zM453.33 155.08h10.03v1.20h-10.03zM492.66 155.08h10.03v1.20h-10.03zM414.00 156.08h10.03v1.20h-10.03zM433.66 158.08h10.03v1.20h-10.03zM414.00 159.08h10.03v1.20h-10.03zM414.00 160.07h10.03v1.20h-10.03zM423.83 160.07h10.03v1.20h-10.03zM433.66 160.07h10.03v1.20h-10.03zM423.83 162.07h10.03v1.20h-10.03zM433.66 162.07h10.03v1.20h-10.03zM414.00 163.07h10.03v1.20h-10.03zM463.16 163.07h10.03v1.20h-10.03zM463.16 164.07h10.03v1.20h-10.03zM414.00 165.07h10.03v1.20h-10.03zM443.50 165.07h10.03v1.20h-10.03zM414.00 166.07h10.03v1.20h-10.03zM423.83 168.07h10.03v1.20h-10.03zM502.49 172.06h10.03v1.20h-10.03zM512.32 172.06h10.03v1.20h-10.03zM502.49 173.06h10.03v1.20h-10.03zM522.15 174.06h10.03v1.20h-10.03zM502.49 175.06h10.03v1.20h-10.03zM502.49 177.06h10.03v1.20h-10.03zM512.32 177.06h10.03v1.20h-10.03zM522.15 179.05h10.03v1.20h-10.03zM522.15 180.05h10.03v1.20h-10.03zM512.32 181.05h10.03v1.20h-10.03zM502.49 182.05h10.03v1.20h-10.03zM512.32 182.05h10.03v1.20h-10.03zM502.49 183.05h10.03v1.20h-10.03zM512.32 184.05h10.03v1.20h-10.03zM512.32 185.05h10.03v1.20h-10.03zM512.32 186.05h10.03v1.20h-10.03zM502.49 187.05h10.03v1.20h-10.03zM502.49 188.05h10.03v1.20h-10.03zM512.32 189.04h10.03v1.20h-10.03zM502.49 190.04h10.03v1.20h-10.03zM512.32 190.04h10.03v1.20h-10.03zM502.49 191.04h10.03v1.20h-10.03zM512.32 191.04h10.03v1.20h-10.03zM502.49 192.04h10.03v1.20h-10.03zM512.32 192.04h10.03v1.20h-10.03zM522.15 192.04h10.03v1.20h-10.03zM512.32 194.04h10.03v1.20h-10.03zM522.15 194.04h10.03v1.20h-10.03zM522.15 199.03h10.03v1.20h-10.03zM522.15 215.02h10.03v1.20h-10.03zM502.49 216.02h10.03v1.20h-10.03zM522.15 216.02h10.03v1.20h-10.03zM522.15 220.01h10.03v1.20h-10.03zM522.15 221.01h10.03v1.20h-10.03zM512.32 223.01h10.03v1.20h-10.03zM522.15 223.01h10.03v1.20h-10.03zM512.32 225.01h10.03v1.20h-10.03zM512.32 226.01h10.03v1.20h-10.03zM512.32 227.00h10.03v1.20h-10.03zM463.16 229.00h10.03v1.20h-10.03zM472.99 229.00h10.03v1.20h-10.03zM423.83 230.00h10.03v1.20h-10.03zM453.33 230.00h10.03v1.20h-10.03zM472.99 230.00h10.03v1.20h-10.03z" fill="#0d0c00"/>
<path d="M581.14 40.20h10.03v1.20h-10.03zM522.15 41.20h10.03v1.20h-10.03zM531.98 41.20h10.03v1.20h-10.03zM541.82 41.20h10.03v1.20h-10.03zM551.65 41.20h10.03v1.20h-10.03zM581.14 41.20h10.03v1.20h-10.03zM522.15 42.20h10.03v1.20h-10.03zM551.65 42.20h10.03v1.20h-10.03zM531.98 43.20h10.03v1.20h-10.03zM551.65 44.20h10.03v1.20h-10.03zM522.15 45.19h10.03v1.20h-10.03zM531.98 45.19h10.03v1.20h-10.03zM522.15 46.19h10.03v1.20h-10.03zM581.14 46.19h10.03v1.20h-10.03zM531.98 47.19h10.03v1.20h-10.03zM551.65 47.19h10.03v1.20h-10.03zM581.14 47.19h10.03v1.20h-10.03zM551.65 48.19h10.03v1.20h-10.03zM522.15 49.19h10.03v1.20h-10.03zM541.82 49.19h10.03v1.20h-10.03zM551.65 49.19h10.03v1.20h-10.03zM522.15 51.19h10.03v1.20h-10.03zM551.65 51.19h10.03v1.20h-10.03zM531.98 52.19h10.03v1.20h-10.03zM541.82 52.19h10.03v1.20h-10.03zM581.14 52.19h10.03v1.20h-10.03zM541.82 53.19h10.03v1.20h-10.03zM581.14 53.19h10.03v1.20h-10.03zM531.98 54.19h10.03v1.20h-10.03zM581.14 54.19h10.03v1.20h-10.03zM522.15 55.18h10.03v1.20h-10.03zM531.98 55.18h10.03v1.20h-10.03zM541.82 55.18h10.03v1.20h-10.03zM522.15 56.18h10.03v1.20h-10.03zM531.98 56.18h10.03v1.20h-10.03zM541.82 56.18h10.03v1.20h-10.03zM551.65 56.18h10.03v1.20h-10.03zM551.65 57.18h10.03v1.20h-10.03zM522.15 58.18h10.03v1.20h-10.03zM522.15 59.18h10.03v1.20h-10.03zM531.98 59.18h10.03v1.20h-10.03zM581.14 59.18h10.03v1.20h-10.03zM531.98 60.18h10.03v1.20h-10.03zM551.65 60.18h10.03v1.20h-10.03zM522.15 61.18h10.03v1.20h-10.03zM551.65 61.18h10.03v1.20h-10.03zM531.98 62.18h10.03v1.20h-10.03zM551.65 62.18h10.03v1.20h-10.03zM531.98 63.18h10.03v1.20h-10.03zM522.15 64.17h10.03v1.20h-10.03zM522.15 65.17h10.03v1.20h-10.03zM531.98 65.17h10.03v1.20h-10.03zM551.65 66.17h10.03v1.20h-10.03zM531.98 67.17h10.03v1.20h-10.03zM551.65 67.17h10.03v1.20h-10.03zM522.15 68.17h10.03v1.20h-10.03zM541.82 68.17h10.03v1.20h-10.03zM551.65 68.17h10.03v1.20h-10.03zM522.15 69.17h10.03v1.20h-10.03zM541.82 69.17h10.03v1.20h-10.03zM581.14 69.17h10.03v1.20h-10.03zM581.14 70.17h10.03v1.20h-10.03zM522.15 71.17h10.03v1.20h-10.03zM551.65 71.17h10.03v1.20h-10.03zM541.82 72.17h10.03v1.20h-10.03zM561.48 72.17h10.03v1.20h-10.03zM522.15 73.17h10.03v1.20h-10.03zM551.65 73.17h10.03v1.20h-10.03zM522.15 74.16h10.03v1.20h-10.03zM531.98 74.16h10.03v1.20h-10.03zM551.65 74.16h10.03v1.20h-10.03zM522.15 75.16h10.03v1.20h-10.03zM551.65 76.16h10.03v1.20h-10.03zM522.15 77.16h10.03v1.20h-10.03zM531.98 78.16h10.03v1.20h-10.03zM522.15 79.16h10.03v1.20h-10.03zM522.15 80.16h10.03v1.20h-10.03zM531.98 80.16h10.03v1.20h-10.03zM551.65 80.16h10.03v1.20h-10.03zM522.15 81.16h10.03v1.20h-10.03zM531.98 81.16h10.03v1.20h-10.03zM531.98 82.16h10.03v1.20h-10.03zM581.14 83.15h10.03v1.20h-10.03zM531.98 84.15h10.03v1.20h-10.03zM531.98 85.15h10.03v1.20h-10.03zM541.82 85.15h10.03v1.20h-10.03zM551.65 86.15h10.03v1.20h-10.03zM522.15 87.15h10.03v1.20h-10.03zM581.14 87.15h10.03v1.20h-10.03zM522.15 89.15h10.03v1.20h-10.03zM531.98 90.15h10.03v1.20h-10.03zM531.98 92.15h10.03v1.20h-10.03zM541.82 92.15h10.03v1.20h-10.03zM551.65 92.15h10.03v1.20h-10.03zM531.98 93.14h10.03v1.20h-10.03zM522.15 94.14h10.03v1.20h-10.03zM522.15 95.14h10.03v1.20h-10.03zM531.98 96.14h10.03v1.20h-10.03zM551.65 96.14h10.03v1.20h-10.03zM522.15 97.14h10.03v1.20h-10.03zM531.98 97.14h10.03v1.20h-10.03zM522.15 98.14h10.03v1.20h-10.03zM522.15 99.14h10.03v1.20h-10.03zM522.15 101.14h10.03v1.20h-10.03zM551.65 104.13h10.03v1.20h-10.03zM522.15 106.13h10.03v1.20h-10.03zM551.65 107.13h10.03v1.20h-10.03zM551.65 111.13h10.03v1.20h-10.03zM522.15 112.12h10.03v1.20h-10.03zM522.15 114.12h10.03v1.20h-10.03zM551.65 114.12h10.03v1.20h-10.03zM551.65 115.12h10.03v1.20h-10.03zM551.65 118.12h10.03v1.20h-10.03zM522.15 119.12h10.03v1.20h-10.03zM551.65 119.12h10.03v1.20h-10.03zM502.49 122.11h10.03v1.20h-10.03zM522.15 122.11h10.03v1.20h-10.03zM502.49 124.11h10.03v1.20h-10.03zM512.32 125.11h10.03v1.20h-10.03zM531.98 125.11h10.03v1.20h-10.03zM492.66 126.11h10.03v1.20h-10.03zM512.32 126.11h10.03v1.20h-10.03zM531.98 126.11h10.03v1.20h-10.03zM551.65 126.11h10.03v1.20h-10.03zM502.49 127.11h10.03v1.20h-10.03zM512.32 127.11h10.03v1.20h-10.03zM492.66 128.11h10.03v1.20h-10.03zM502.49 128.11h10.03v1.20h-10.03zM502.49 130.11h10.03v1.20h-10.03zM541.82 131.10h10.03v1.20h-10.03zM561.48 131.10h10.03v1.20h-10.03zM590.98 131.10h10.03v1.20h-10.03zM561.48 132.10h10.03v1.20h-10.03zM571.31 132.10h10.03v1.20h-10.03zM581.14 132.10h10.03v1.20h-10.03zM551.65 133.10h10.03v1.20h-10.03zM561.48 133.10h10.03v1.20h-10.03zM571.31 133.10h10.03v1.20h-10.03zM492.66 141.09h10.03v1.20h-10.03zM482.82 142.09h10.03v1.20h-10.03zM414.00 144.09h10.03v1.20h-10.03zM443.50 144.09h10.03v1.20h-10.03zM463.16 144.09h10.03v1.20h-10.03zM423.83 145.09h10.03v1.20h-10.03zM463.16 145.09h10.03v1.20h-10.03zM443.50 146.09h10.03v1.20h-10.03zM453.33 146.09h10.03v1.20h-10.03zM463.16 146.09h10.03v1.20h-10.03zM423.83 147.09h10.03v1.20h-10.03zM443.50 147.09h10.03v1.20h-10.03zM463.16 148.09h10.03v1.20h-10.03zM492.66 148.09h10.03v1.20h-10.03zM414.00 149.09h10.03v1.20h-10.03zM443.50 149.09h10.03v1.20h-10.03zM453.33 149.09h10.03v1.20h-10.03zM423.83 150.08h10.03v1.20h-10.03zM453.33 150.08h10.03v1.20h-10.03zM463.16 150.08h10.03v1.20h-10.03zM433.66 151.08h10.03v1.20h-10.03zM443.50 151.08h10.03v1.20h-10.03zM414.00 152.08h10.03v1.20h-10.03zM423.83 152.08h10.03v1.20h-10.03zM433.66 152.08h10.03v1.20h-10.03zM443.50 152.08h10.03v1.20h-10.03zM463.16 152.08h10.03v1.20h-10.03zM414.00 153.08h10.03v1.20h-10.03zM492.66 153.08h10.03v1.20h-10.03zM433.66 154.08h10.03v1.20h-10.03zM443.50 154.08h10.03v1.20h-10.03zM463.16 154.08h10.03v1.20h-10.03zM423.83 155.08h10.03v1.20h-10.03zM443.50 155.08h10.03v1.20h-10.03zM463.16 155.08h10.03v1.20h-10.03zM443.50 156.08h10.03v1.20h-10.03zM463.16 156.08h10.03v1.20h-10.03zM423.83 157.08h10.03v1.20h-10.03zM433.66 157.08h10.03v1.20h-10.03zM453.33 157.08h10.03v1.20h-10.03zM463.16 157.08h10.03v1.20h-10.03zM453.33 158.08h10.03v1.20h-10.03zM463.16 158.08h10.03v1.20h-10.03zM423.83 159.08h10.03v1.20h-10.03zM433.66 159.08h10.03v1.20h-10.03zM463.16 159.08h10.03v1.20h-10.03zM443.50 160.07h10.03v1.20h-10.03zM463.16 160.07h10.03v1.20h-10.03zM492.66 160.07h10.03v1.20h-10.03zM414.00 161.07h10.03v1.20h-10.03zM423.83 161.07h10.03v1.20h-10.03zM443.50 161.07h10.03v1.20h-10.03zM463.16 161.07h10.03v1.20h-10.03zM443.50 162.07h10.03v1.20h-10.03zM453.33 162.07h10.03v1.20h-10.03zM463.16 162.07h10.03v1.20h-10.03zM492.66 162.07h10.03v1.20h-10.03zM433.66 163.07h10.03v1.20h-10.03zM443.50 163.07h10.03v1.20h-10.03zM414.00 164.07h10.03v1.20h-10.03zM423.83 164.07h10.03v1.20h-10.03zM443.50 164.07h10.03v1.20h-10.03zM492.66 164.07h10.03v1.20h-10.03zM453.33 165.07h10.03v1.20h-10.03zM463.16 165.07h10.03v1.20h-10.03zM492.66 165.07h10.03v1.20h-10.03zM423.83 166.07h10.03v1.20h-10.03zM443.50 166.07h10.03v1.20h-10.03zM463.16 166.07h10.03v1.20h-10.03zM414.00 167.07h10.03v1.20h-10.03zM423.83 167.07h10.03v1.20h-10.03zM433.66 167.07h10.03v1.20h-10.03zM443.50 167.07h10.03v1.20h-10.03zM414.00 168.07h10.03v1.20h-10.03zM463.16 169.06h10.03v1.20h-10.03zM414.00 170.06h10.03v1.20h-10.03zM433.66 170.06h10.03v1.20h-10.03zM443.50 170.06h10.03v1.20h-10.03zM453.33 170.06h10.03v1.20h-10.03zM463.16 170.06h10.03v1.20h-10.03zM502.49 171.06h10.03v1.20h-10.03zM512.32 171.06h10.03v1.20h-10.03zM414.00 172.06h10.03v1.20h-10.03zM433.66 172.06h10.03v1.20h-10.03zM512.32 173.06h10.03v1.20h-10.03zM512.32 174.06h10.03v1.20h-10.03zM414.00 175.06h10.03v1.20h-10.03zM433.66 175.06h10.03v1.20h-10.03zM512.32 176.06h10.03v1.20h-10.03zM512.32 179.05h10.03v1.20h-10.03zM414.00 183.05h10.03v1.20h-10.03zM453.33 183.05h10.03v1.20h-10.03zM512.32 183.05h10.03v1.20h-10.03zM512.32 187.05h10.03v1.20h-10.03zM512.32 188.05h10.03v1.20h-10.03zM414.00 189.04h10.03v1.20h-10.03zM423.83 193.04h10.03v1.20h-10.03zM423.83 194.04h10.03v1.20h-10.03zM472.99 195.04h10.03v1.20h-10.03zM423.83 197.04h10.03v1.20h-10.03zM463.16 198.03h10.03v1.20h-10.03zM502.49 199.03h10.03v1.20h-10.03zM522.15 200.03h10.03v1.20h-10.03zM502.49 201.03h10.03v1.20h-10.03zM522.15 201.03h10.03v1.20h-10.03zM522.15 203.03h10.03v1.20h-10.03zM522.15 204.03h10.03v1.20h-10.03zM502.49 205.03h10.03v1.20h-10.03zM502.49 206.03h10.03v1.20h-10.03zM423.83 209.02h10.03v1.20h-10.03zM522.15 209.02h10.03v1.20h-10.03zM522.15 210.02h10.03v1.20h-10.03zM522.15 212.02h10.03v1.20h-10.03zM502.49 213.02h10.03v1.20h-10.03zM453.33 214.02h10.03v1.20h-10.03zM472.99 216.02h10.03v1.20h-10.03zM414.00 219.01h10.03v1.20h-10.03zM423.83 221.01h10.03v1.20h-10.03zM512.32 221.01h10.03v1.20h-10.03zM414.00 222.01h10.03v1.20h-10.03zM512.32 222.01h10.03v1.20h-10.03zM443.50 223.01h10.03v1.20h-10.03zM502.49 226.01h10.03v1.20h-10.03zM423.83 228.00h10.03v1.20h-10.03zM423.83 229.00h10.03v1.20h-10.03zM453.33 229.00h10.03v1.20h-10.03zM414.00 230.00h10.03v1.20h-10.03zM443.50 230.00h10.03v1.20h-10.03zM463.16 230.00h10.03v1.20h-10.03z" fill="#1a1800"/>
<path d="M541.82 40.20h10.03v1.20h-10.03zM551.65 40.20h10.03v1.20h-10.03zM541.82 42.20h10.03v1.20h-10.03zM581.14 43.20h10.03v1.20h-10.03zM541.82 44.20h10.03v1.20h-10.03zM581.14 44.20h10.03v1.20h-10.03zM541.82 45.19h10.03v1.20h-10.03zM541.82 46.19h10.03v1.20h-10.03zM581.14 48.19h10.03v1.20h-10.03zM531.98 49.19h10.03v1.20h-10.03zM522.15 50.19h10.03v1.20h-10.03zM531.98 50.19h10.03v1.20h-10.03zM551.65 50.19h10.03v1.20h-10.03zM581.14 51.19h10.03v1.20h-10.03zM541.82 54.19h10.03v1.20h-10.03zM581.14 55.18h10.03v1.20h-10.03zM581.14 56.18h10.03v1.20h-10.03zM581.14 57.18h10.03v1.20h-10.03zM571.31 58.18h10.03v1.20h-10.03zM541.82 59.18h10.03v1.20h-10.03zM522.15 60.18h10.03v1.20h-10.03zM531.98 61.18h10.03v1.20h-10.03zM581.14 61.18h10.03v1.20h-10.03zM551.65 63.18h10.03v1.20h-10.03zM581.14 63.18h10.03v1.20h-10.03zM541.82 64.17h10.03v1.20h-10.03zM581.14 64.17h10.03v1.20h-10.03zM541.82 65.17h10.03v1.20h-10.03zM581.14 65.17h10.03v1.20h-10.03zM522.15 66.17h10.03v1.20h-10.03zM531.98 66.17h10.03v1.20h-10.03zM541.82 66.17h10.03v1.20h-10.03zM581.14 67.17h10.03v1.20h-10.03zM581.14 68.17h10.03v1.20h-10.03zM531.98 69.17h10.03v1.20h-10.03zM541.82 70.17h10.03v1.20h-10.03zM551.65 70.17h10.03v1.20h-10.03zM541.82 74.16h10.03v1.20h-10.03zM581.14 74.16h10.03v1.20h-10.03zM541.82 75.16h10.03v1.20h-10.03zM581.14 75.16h10.03v1.20h-10.03zM561.48 76.16h10.03v1.20h-10.03zM541.82 77.16h10.03v1.20h-10.03zM541.82 78.16h10.03v1.20h-10.03zM581.14 78.16h10.03v1.20h-10.03zM531.98 79.16h10.03v1.20h-10.03zM581.14 82.16h10.03v1.20h-10.03zM522.15 84.15h10.03v1.20h-10.03zM581.14 84.15h10.03v1.20h-10.03zM522.15 85.15h10.03v1.20h-10.03zM531.98 86.15h10.03v1.20h-10.03zM541.82 87.15h10.03v1.20h-10.03zM541.82 89.15h10.03v1.20h-10.03zM581.14 89.15h10.03v1.20h-10.03zM541.82 90.15h10.03v1.20h-10.03zM541.82 91.15h10.03v1.20h-10.03zM571.31 91.15h10.03v1.20h-10.03zM581.14 91.15h10.03v1.20h-10.03zM522.15 92.15h10.03v1.20h-10.03zM551.65 94.14h10.03v1.20h-10.03zM531.98 95.14h10.03v1.20h-10.03zM541.82 96.14h10.03v1.20h-10.03zM541.82 98.14h10.03v1.20h-10.03zM581.14 98.14h10.03v1.20h-10.03zM541.82 99.14h10.03v1.20h-10.03zM581.14 99.14h10.03v1.20h-10.03zM551.65 101.14h10.03v1.20h-10.03zM541.82 103.13h10.03v1.20h-10.03zM551.65 103.13h10.03v1.20h-10.03zM522.15 104.13h10.03v1.20h-10.03zM531.98 104.13h10.03v1.20h-10.03zM551.65 106.13h10.03v1.20h-10.03zM561.48 106.13h10.03v1.20h-10.03zM581.14 106.13h10.03v1.20h-10.03zM522.15 107.13h10.03v1.20h-10.03zM531.98 107.13h10.03v1.20h-10.03zM551.65 108.13h10.03v1.20h-10.03zM522.15 110.13h10.03v1.20h-10.03zM531.98 110.13h10.03v1.20h-10.03zM551.65 110.13h10.03v1.20h-10.03zM551.65 112.12h10.03v1.20h-10.03zM531.98 113.12h10.03v1.20h-10.03zM531.98 114.12h10.03v1.20h-10.03zM561.48 114.12h10.03v1.20h-10.03zM531.98 115.12h10.03v1.20h-10.03zM522.15 116.12h10.03v1.20h-10.03zM551.65 116.12h10.03v1.20h-10.03zM561.48 118.12h10.03v1.20h-10.03zM581.14 118.12h10.03v1.20h-10.03zM581.14 119.12h10.03v1.20h-10.03zM522.15 120.12h10.03v1.20h-10.03zM531.98 121.12h10.03v1.20h-10.03zM512.32 122.11h10.03v1.20h-10.03zM551.65 122.11h10.03v1.20h-10.03zM512.32 124.11h10.03v1.20h-10.03zM531.98 124.11h10.03v1.20h-10.03zM551.65 124.11h10.03v1.20h-10.03zM502.49 125.11h10.03v1.20h-10.03zM581.14 125.11h10.03v1.20h-10.03zM531.98 128.11h10.03v1.20h-10.03zM512.32 130.11h10.03v1.20h-10.03zM571.31 131.10h10.03v1.20h-10.03zM590.98 132.10h10.03v1.20h-10.03zM492.66 134.10h10.03v1.20h-10.03zM492.66 135.10h10.03v1.20h-10.03zM482.82 137.10h10.03v1.20h-10.03zM492.66 137.10h10.03v1.20h-10.03zM492.66 138.10h10.03v1.20h-10.03zM482.82 139.10h10.03v1.20h-10.03zM492.66 139.10h10.03v1.20h-10.03zM492.66 140.10h10.03v1.20h-10.03zM492.66 142.09h10.03v1.20h-10.03zM482.82 143.09h10.03v1.20h-10.03zM423.83 144.09h10.03v1.20h-10.03zM433.66 144.09h10.03v1.20h-10.03zM453.33 145.09h10.03v1.20h-10.03zM482.82 145.09h10.03v1.20h-10.03zM433.66 146.09h10.03v1.20h-10.03zM492.66 146.09h10.03v1.20h-10.03zM433.66 147.09h10.03v1.20h-10.03zM463.16 147.09h10.03v1.20h-10.03zM443.50 148.09h10.03v1.20h-10.03zM423.83 149.09h10.03v1.20h-10.03zM433.66 149.09h10.03v1.20h-10.03zM463.16 149.09h10.03v1.20h-10.03zM492.66 149.09h10.03v1.20h-10.03zM443.50 150.08h10.03v1.20h-10.03zM423.83 151.08h10.03v1.20h-10.03zM453.33 151.08h10.03v1.20h-10.03zM463.16 151.08h10.03v1.20h-10.03zM453.33 152.08h10.03v1.20h-10.03zM492.66 152.08h10.03v1.20h-10.03zM423.83 153.08h10.03v1.20h-10.03zM433.66 153.08h10.03v1.20h-10.03zM443.50 153.08h10.03v1.20h-10.03zM463.16 153.08h10.03v1.20h-10.03zM423.83 154.08h10.03v1.20h-10.03zM453.33 154.08h10.03v1.20h-10.03zM433.66 155.08h10.03v1.20h-10.03zM502.49 155.08h10.03v1.20h-10.03zM423.83 156.08h10.03v1.20h-10.03zM433.66 156.08h10.03v1.20h-10.03zM453.33 156.08h10.03v1.20h-10.03zM492.66 156.08h10.03v1.20h-10.03zM443.50 157.08h10.03v1.20h-10.03zM423.83 158.08h10.03v1.20h-10.03zM443.50 158.08h10.03v1.20h-10.03zM443.50 159.08h10.03v1.20h-10.03zM453.33 159.08h10.03v1.20h-10.03zM492.66 159.08h10.03v1.20h-10.03zM453.33 160.07h10.03v1.20h-10.03zM453.33 161.07h10.03v1.20h-10.03zM492.66 161.07h10.03v1.20h-10.03zM453.33 163.07h10.03v1.20h-10.03zM433.66 164.07h10.03v1.20h-10.03zM453.33 164.07h10.03v1.20h-10.03zM423.83 165.07h10.03v1.20h-10.03zM433.66 165.07h10.03v1.20h-10.03zM433.66 166.07h10.03v1.20h-10.03zM463.16 167.07h10.03v1.20h-10.03zM492.66 167.07h10.03v1.20h-10.03zM433.66 168.07h10.03v1.20h-10.03zM443.50 168.07h10.03v1.20h-10.03zM463.16 168.07h10.03v1.20h-10.03zM492.66 168.07h10.03v1.20h-10.03zM414.00 169.06h10.03v1.20h-10.03zM423.83 169.06h10.03v1.20h-10.03zM443.50 169.06h10.03v1.20h-10.03zM453.33 169.06h10.03v1.20h-10.03zM492.66 169.06h10.03v1.20h-10.03zM423.83 170.06h10.03v1.20h-10.03zM522.15 171.06h10.03v1.20h-10.03zM443.50 175.06h10.03v1.20h-10.03zM423.83 176.06h10.03v1.20h-10.03zM423.83 178.06h10.03v1.20h-10.03zM453.33 178.06h10.03v1.20h-10.03zM463.16 178.06h10.03v1.20h-10.03zM423.83 181.05h10.03v1.20h-10.03zM463.16 183.05h10.03v1.20h-10.03zM472.99 183.05h10.03v1.20h-10.03zM443.50 184.05h10.03v1.20h-10.03zM472.99 184.05h10.03v1.20h-10.03zM414.00 185.05h10.03v1.20h-10.03zM463.16 192.04h10.03v1.20h-10.03zM472.99 193.04h10.03v1.20h-10.03zM414.00 194.04h10.03v1.20h-10.03zM414.00 195.04h10.03v1.20h-10.03zM463.16 195.04h10.03v1.20h-10.03zM414.00 196.04h10.03v1.20h-10.03zM433.66 196.04h10.03v1.20h-10.03zM463.16 196.04h10.03v1.20h-10.03zM522.15 196.04h10.03v1.20h-10.03zM522.15 197.04h10.03v1.20h-10.03zM502.49 198.03h10.03v1.20h-10.03zM522.15 198.03h10.03v1.20h-10.03zM512.32 199.03h10.03v1.20h-10.03zM463.16 201.03h10.03v1.20h-10.03zM522.15 202.03h10.03v1.20h-10.03zM502.49 204.03h10.03v1.20h-10.03zM443.50 205.03h10.03v1.20h-10.03zM463.16 205.03h10.03v1.20h-10.03zM443.50 206.03h10.03v1.20h-10.03zM512.32 206.03h10.03v1.20h-10.03zM522.15 206.03h10.03v1.20h-10.03zM522.15 208.02h10.03v1.20h-10.03zM453.33 209.02h10.03v1.20h-10.03zM502.49 209.02h10.03v1.20h-10.03zM423.83 210.02h10.03v1.20h-10.03zM502.49 211.02h10.03v1.20h-10.03zM414.00 212.02h10.03v1.20h-10.03zM423.83 212.02h10.03v1.20h-10.03zM414.00 213.02h10.03v1.20h-10.03zM443.50 213.02h10.03v1.20h-10.03zM463.16 213.02h10.03v1.20h-10.03zM522.15 213.02h10.03v1.20h-10.03zM502.49 215.02h10.03v1.20h-10.03zM414.00 216.02h10.03v1.20h-10.03zM423.83 216.02h10.03v1.20h-10.03zM512.32 216.02h10.03v1.20h-10.03zM414.00 217.01h10.03v1.20h-10.03zM472.99 217.01h10.03v1.20h-10.03zM522.15 217.01h10.03v1.20h-10.03zM522.15 218.01h10.03v1.20h-10.03zM423.83 219.01h10.03v1.20h-10.03zM423.83 222.01h10.03v1.20h-10.03zM443.50 222.01h10.03v1.20h-10.03zM423.83 223.01h10.03v1.20h-10.03zM423.83 225.01h10.03v1.20h-10.03zM423.83 226.01h10.03v1.20h-10.03zM433.66 230.00h10.03v1.20h-10.03z" fill="#262400"/>
<path d="M571.31 42.20h10.03v1.20h-10.03zM541.82 43.20h10.03v1.20h-10.03zM581.14 45.19h10.03v1.20h-10.03zM581.14 49.19h10.03v1.20h-10.03zM541.82 51.19h10.03v1.20h-10.03zM571.31 53.19h10.03v1.20h-10.03zM541.82 57.18h10.03v1.20h-10.03zM561.48 58.18h10.03v1.20h-10.03zM541.82 60.18h10.03v1.20h-10.03zM541.82 61.18h10.03v1.20h-10.03zM541.82 62.18h10.03v1.20h-10.03zM581.14 62.18h10.03v1.20h-10.03zM541.82 63.18h10.03v1.20h-10.03zM541.82 67.17h10.03v1.20h-10.03zM541.82 71.17h10.03v1.20h-10.03zM581.14 71.17h10.03v1.20h-10.03zM541.82 73.17h10.03v1.20h-10.03zM541.82 76.16h10.03v1.20h-10.03zM571.31 76.16h10.03v1.20h-10.03zM581.14 76.16h10.03v1.20h-10.03zM541.82 79.16h10.03v1.20h-10.03zM581.14 80.16h10.03v1.20h-10.03zM541.82 81.16h10.03v1.20h-10.03zM541.82 82.16h10.03v1.20h-10.03zM561.48 83.15h10.03v1.20h-10.03zM541.82 84.15h10.03v1.20h-10.03zM541.82 86.15h10.03v1.20h-10.03zM581.14 86.15h10.03v1.20h-10.03zM571.31 87.15h10.03v1.20h-10.03zM541.82 88.15h10.03v1.20h-10.03zM581.14 88.15h10.03v1.20h-10.03zM581.14 92.15h10.03v1.20h-10.03zM541.82 93.14h10.03v1.20h-10.03zM581.14 93.14h10.03v1.20h-10.03zM581.14 94.14h10.03v1.20h-10.03zM541.82 95.14h10.03v1.20h-10.03zM581.14 95.14h10.03v1.20h-10.03zM581.14 96.14h10.03v1.20h-10.03zM581.14 97.14h10.03v1.20h-10.03zM531.98 100.14h10.03v1.20h-10.03zM551.65 100.14h10.03v1.20h-10.03zM581.14 100.14h10.03v1.20h-10.03zM541.82 101.14h10.03v1.20h-10.03zM531.98 102.14h10.03v1.20h-10.03zM531.98 103.13h10.03v1.20h-10.03zM581.14 104.13h10.03v1.20h-10.03zM531.98 105.13h10.03v1.20h-10.03zM551.65 105.13h10.03v1.20h-10.03zM531.98 106.13h10.03v1.20h-10.03zM531.98 108.13h10.03v1.20h-10.03zM531.98 109.13h10.03v1.20h-10.03zM551.65 109.13h10.03v1.20h-10.03zM541.82 113.12h10.03v1.20h-10.03zM571.31 113.12h10.03v1.20h-10.03zM581.14 113.12h10.03v1.20h-10.03zM571.31 114.12h10.03v1.20h-10.03zM581.14 114.12h10.03v1.20h-10.03zM531.98 116.12h10.03v1.20h-10.03zM571.31 116.12h10.03v1.20h-10.03zM531.98 117.12h10.03v1.20h-10.03zM531.98 118.12h10.03v1.20h-10.03zM541.82 118.12h10.03v1.20h-10.03zM551.65 120.12h10.03v1.20h-10.03zM551.65 121.12h10.03v1.20h-10.03zM531.98 122.11h10.03v1.20h-10.03zM512.32 123.11h10.03v1.20h-10.03zM551.65 123.11h10.03v1.20h-10.03zM522.15 125.11h10.03v1.20h-10.03zM541.82 125.11h10.03v1.20h-10.03zM551.65 125.11h10.03v1.20h-10.03zM522.15 126.11h10.03v1.20h-10.03zM541.82 126.11h10.03v1.20h-10.03zM522.15 127.11h10.03v1.20h-10.03zM512.32 128.11h10.03v1.20h-10.03zM541.82 128.11h10.03v1.20h-10.03zM522.15 129.11h10.03v1.20h-10.03zM541.82 129.11h10.03v1.20h-10.03zM522.15 130.11h10.03v1.20h-10.03zM581.14 130.11h10.03v1.20h-10.03zM590.98 133.10h10.03v1.20h-10.03zM492.66 136.10h10.03v1.20h-10.03zM482.82 140.10h10.03v1.20h-10.03zM453.33 144.09h10.03v1.20h-10.03zM433.66 145.09h10.03v1.20h-10.03zM492.66 145.09h10.03v1.20h-10.03zM492.66 147.09h10.03v1.20h-10.03zM433.66 148.09h10.03v1.20h-10.03zM433.66 150.08h10.03v1.20h-10.03zM492.66 150.08h10.03v1.20h-10.03zM492.66 151.08h10.03v1.20h-10.03zM453.33 153.08h10.03v1.20h-10.03zM512.32 155.08h10.03v1.20h-10.03zM522.15 155.08h10.03v1.20h-10.03zM492.66 158.08h10.03v1.20h-10.03zM433.66 161.07h10.03v1.20h-10.03zM423.83 163.07h10.03v1.20h-10.03zM492.66 163.07h10.03v1.20h-10.03zM453.33 166.07h10.03v1.20h-10.03zM453.33 167.07h10.03v1.20h-10.03zM433.66 169.06h10.03v1.20h-10.03zM423.83 172.06h10.03v1.20h-10.03zM443.50 172.06h10.03v1.20h-10.03zM463.16 172.06h10.03v1.20h-10.03zM423.83 173.06h10.03v1.20h-10.03zM423.83 174.06h10.03v1.20h-10.03zM423.83 175.06h10.03v1.20h-10.03zM453.33 175.06h10.03v1.20h-10.03zM463.16 175.06h10.03v1.20h-10.03zM423.83 177.06h10.03v1.20h-10.03zM433.66 177.06h10.03v1.20h-10.03zM463.16 177.06h10.03v1.20h-10.03zM414.00 178.06h10.03v1.20h-10.03zM472.99 178.06h10.03v1.20h-10.03zM423.83 179.05h10.03v1.20h-10.03zM463.16 181.05h10.03v1.20h-10.03zM414.00 182.05h10.03v1.20h-10.03zM423.83 182.05h10.03v1.20h-10.03zM423.83 183.05h10.03v1.20h-10.03zM414.00 184.05h10.03v1.20h-10.03zM433.66 184.05h10.03v1.20h-10.03zM463.16 184.05h10.03v1.20h-10.03zM423.83 186.05h10.03v1.20h-10.03zM453.33 186.05h10.03v1.20h-10.03zM423.83 187.05h10.03v1.20h-10.03zM433.66 187.05h10.03v1.20h-10.03zM423.83 189.04h10.03v1.20h-10.03zM433.66 189.04h10.03v1.20h-10.03zM443.50 189.04h10.03v1.20h-10.03zM463.16 189.04h10.03v1.20h-10.03zM443.50 190.04h10.03v1.20h-10.03zM472.99 190.04h10.03v1.20h-10.03zM423.83 192.04h10.03v1.20h-10.03zM453.33 192.04h10.03v1.20h-10.03zM433.66 193.04h10.03v1.20h-10.03zM443.50 194.04h10.03v1.20h-10.03zM472.99 194.04h10.03v1.20h-10.03zM423.83 195.04h10.03v1.20h-10.03zM443.50 195.04h10.03v1.20h-10.03zM453.33 195.04h10.03v1.20h-10.03zM423.83 196.04h10.03v1.20h-10.03zM443.50 196.04h10.03v1.20h-10.03zM472.99 196.04h10.03v1.20h-10.03zM502.49 196.04h10.03v1.20h-10.03zM433.66 197.04h10.03v1.20h-10.03zM502.49 197.04h10.03v1.20h-10.03zM443.50 198.03h10.03v1.20h-10.03zM472.99 198.03h10.03v1.20h-10.03zM423.83 199.03h10.03v1.20h-10.03zM453.33 200.03h10.03v1.20h-10.03zM502.49 200.03h10.03v1.20h-10.03zM472.99 202.03h10.03v1.20h-10.03zM502.49 202.03h10.03v1.20h-10.03zM433.66 204.03h10.03v1.20h-10.03zM414.00 205.03h10.03v1.20h-10.03zM433.66 205.03h10.03v1.20h-10.03zM453.33 205.03h10.03v1.20h-10.03zM423.83 206.03h10.03v1.20h-10.03zM463.16 206.03h10.03v1.20h-10.03zM472.99 206.03h10.03v1.20h-10.03zM502.49 207.03h10.03v1.20h-10.03zM522.15 207.03h10.03v1.20h-10.03zM414.00 208.02h10.03v1.20h-10.03zM502.49 208.02h10.03v1.20h-10.03zM414.00 209.02h10.03v1.20h-10.03zM414.00 210.02h10.03v1.20h-10.03zM433.66 210.02h10.03v1.20h-10.03zM453.33 210.02h10.03v1.20h-10.03zM463.16 210.02h10.03v1.20h-10.03zM472.99 210.02h10.03v1.20h-10.03zM502.49 210.02h10.03v1.20h-10.03zM463.16 211.02h10.03v1.20h-10.03zM512.32 211.02h10.03v1.20h-10.03zM463.16 212.02h10.03v1.20h-10.03zM502.49 212.02h10.03v1.20h-10.03zM423.83 213.02h10.03v1.20h-10.03zM453.33 213.02h10.03v1.20h-10.03zM512.32 213.02h10.03v1.20h-10.03zM414.00 214.02h10.03v1.20h-10.03zM423.83 214.02h10.03v1.20h-10.03zM502.49 214.02h10.03v1.20h-10.03zM522.15 214.02h10.03v1.20h-10.03zM423.83 215.02h10.03v1.20h-10.03zM463.16 216.02h10.03v1.20h-10.03zM423.83 217.01h10.03v1.20h-10.03zM414.00 218.01h10.03v1.20h-10.03zM423.83 218.01h10.03v1.20h-10.03zM502.49 218.01h10.03v1.20h-10.03zM443.50 219.01h10.03v1.20h-10.03zM522.15 219.01h10.03v1.20h-10.03zM472.99 220.01h10.03v1.20h-10.03zM502.49 220.01h10.03v1.20h-10.03zM433.66 221.01h10.03v1.20h-10.03zM433.66 222.01h10.03v1.20h-10.03zM453.33 222.01h10.03v1.20h-10.03zM463.16 222.01h10.03v1.20h-10.03zM414.00 223.01h10.03v1.20h-10.03zM433.66 223.01h10.03v1.20h-10.03zM463.16 223.01h10.03v1.20h-10.03zM472.99 223.01h10.03v1.20h-10.03zM414.00 225.01h10.03v1.20h-10.03zM463.16 225.01h10.03v1.20h-10.03zM414.00 227.00h10.03v1.20h-10.03zM423.83 227.00h10.03v1.20h-10.03zM463.16 227.00h10.03v1.20h-10.03zM443.50 228.00h10.03v1.20h-10.03zM463.16 228.00h10.03v1.20h-10.03zM433.66 229.00h10.03v1.20h-10.03z" fill="#333000"/>
<path d="M541.82 47.19h10.03v1.20h-10.03zM541.82 48.19h10.03v1.20h-10.03zM581.14 50.19h10.03v1.20h-10.03zM571.31 56.18h10.03v1.20h-10.03zM590.98 58.18h10.03v1.20h-10.03zM561.48 73.17h10.03v1.20h-10.03zM581.14 73.17h10.03v1.20h-10.03zM581.14 79.16h10.03v1.20h-10.03zM541.82 80.16h10.03v1.20h-10.03zM571.31 81.16h10.03v1.20h-10.03zM581.14 85.15h10.03v1.20h-10.03zM581.14 90.15h10.03v1.20h-10.03zM561.48 91.15h10.03v1.20h-10.03zM561.48 92.15h10.03v1.20h-10.03zM541.82 94.14h10.03v1.20h-10.03zM541.82 97.14h10.03v1.20h-10.03zM561.48 97.14h10.03v1.20h-10.03zM571.31 98.14h10.03v1.20h-10.03zM551.65 102.14h10.03v1.20h-10.03zM561.48 103.13h10.03v1.20h-10.03zM581.14 103.13h10.03v1.20h-10.03zM541.82 104.13h10.03v1.20h-10.03zM581.14 105.13h10.03v1.20h-10.03zM541.82 106.13h10.03v1.20h-10.03zM571.31 106.13h10.03v1.20h-10.03zM581.14 107.13h10.03v1.20h-10.03zM541.82 109.13h10.03v1.20h-10.03zM561.48 110.13h10.03v1.20h-10.03zM581.14 110.13h10.03v1.20h-10.03zM531.98 112.12h10.03v1.20h-10.03zM581.14 112.12h10.03v1.20h-10.03zM561.48 113.12h10.03v1.20h-10.03zM590.98 113.12h10.03v1.20h-10.03zM541.82 114.12h10.03v1.20h-10.03zM541.82 116.12h10.03v1.20h-10.03zM561.48 116.12h10.03v1.20h-10.03zM581.14 116.12h10.03v1.20h-10.03zM590.98 116.12h10.03v1.20h-10.03zM571.31 117.12h10.03v1.20h-10.03zM581.14 117.12h10.03v1.20h-10.03zM531.98 119.12h10.03v1.20h-10.03zM541.82 119.12h10.03v1.20h-10.03zM531.98 120.12h10.03v1.20h-10.03zM541.82 120.12h10.03v1.20h-10.03zM581.14 121.12h10.03v1.20h-10.03zM522.15 123.11h10.03v1.20h-10.03zM531.98 123.11h10.03v1.20h-10.03zM541.82 123.11h10.03v1.20h-10.03zM571.31 123.11h10.03v1.20h-10.03zM581.14 123.11h10.03v1.20h-10.03zM541.82 124.11h10.03v1.20h-10.03zM581.14 124.11h10.03v1.20h-10.03zM571.31 125.11h10.03v1.20h-10.03zM531.98 127.11h10.03v1.20h-10.03zM522.15 128.11h10.03v1.20h-10.03zM581.14 128.11h10.03v1.20h-10.03zM590.98 129.11h10.03v1.20h-10.03zM590.98 130.11h10.03v1.20h-10.03zM502.49 134.10h10.03v1.20h-10.03zM512.32 141.09h10.03v1.20h-10.03zM502.49 147.09h10.03v1.20h-10.03zM502.49 153.08h10.03v1.20h-10.03zM512.32 153.08h10.03v1.20h-10.03zM502.49 154.08h10.03v1.20h-10.03zM522.15 154.08h10.03v1.20h-10.03zM492.66 157.08h10.03v1.20h-10.03zM502.49 165.07h10.03v1.20h-10.03zM492.66 166.07h10.03v1.20h-10.03zM502.49 167.07h10.03v1.20h-10.03zM453.33 168.07h10.03v1.20h-10.03zM453.33 172.06h10.03v1.20h-10.03zM472.99 172.06h10.03v1.20h-10.03zM463.16 173.06h10.03v1.20h-10.03zM472.99 173.06h10.03v1.20h-10.03zM414.00 174.06h10.03v1.20h-10.03zM433.66 174.06h10.03v1.20h-10.03zM463.16 174.06h10.03v1.20h-10.03zM472.99 174.06h10.03v1.20h-10.03zM472.99 175.06h10.03v1.20h-10.03zM463.16 176.06h10.03v1.20h-10.03zM472.99 177.06h10.03v1.20h-10.03zM433.66 178.06h10.03v1.20h-10.03zM433.66 181.05h10.03v1.20h-10.03zM443.50 181.05h10.03v1.20h-10.03zM433.66 182.05h10.03v1.20h-10.03zM463.16 182.05h10.03v1.20h-10.03zM443.50 183.05h10.03v1.20h-10.03zM423.83 184.05h10.03v1.20h-10.03zM423.83 185.05h10.03v1.20h-10.03zM443.50 185.05h10.03v1.20h-10.03zM472.99 185.05h10.03v1.20h-10.03zM443.50 186.05h10.03v1.20h-10.03zM463.16 186.05h10.03v1.20h-10.03zM414.00 187.05h10.03v1.20h-10.03zM414.00 188.05h10.03v1.20h-10.03zM423.83 188.05h10.03v1.20h-10.03zM443.50 188.05h10.03v1.20h-10.03zM453.33 189.04h10.03v1.20h-10.03zM472.99 189.04h10.03v1.20h-10.03zM414.00 190.04h10.03v1.20h-10.03zM423.83 190.04h10.03v1.20h-10.03zM433.66 190.04h10.03v1.20h-10.03zM453.33 190.04h10.03v1.20h-10.03zM463.16 190.04h10.03v1.20h-10.03zM414.00 191.04h10.03v1.20h-10.03zM423.83 191.04h10.03v1.20h-10.03zM433.66 191.04h10.03v1.20h-10.03zM443.50 191.04h10.03v1.20h-10.03zM463.16 191.04h10.03v1.20h-10.03zM414.00 193.04h10.03v1.20h-10.03zM443.50 193.04h10.03v1.20h-10.03zM453.33 193.04h10.03v1.20h-10.03zM463.16 193.04h10.03v1.20h-10.03zM433.66 194.04h10.03v1.20h-10.03zM453.33 194.04h10.03v1.20h-10.03zM463.16 194.04h10.03v1.20h-10.03zM433.66 195.04h10.03v1.20h-10.03zM453.33 196.04h10.03v1.20h-10.03zM414.00 197.04h10.03v1.20h-10.03zM443.50 197.04h10.03v1.20h-10.03zM463.16 197.04h10.03v1.20h-10.03zM512.32 197.04h10.03v1.20h-10.03zM423.83 198.03h10.03v1.20h-10.03zM453.33 198.03h10.03v1.20h-10.03zM512.32 198.03h10.03v1.20h-10.03zM414.00 199.03h10.03v1.20h-10.03zM423.83 200.03h10.03v1.20h-10.03zM414.00 201.03h10.03v1.20h-10.03zM423.83 201.03h10.03v1.20h-10.03zM443.50 201.03h10.03v1.20h-10.03zM453.33 201.03h10.03v1.20h-10.03zM423.83 202.03h10.03v1.20h-10.03zM433.66 202.03h10.03v1.20h-10.03zM423.83 203.03h10.03v1.20h-10.03zM443.50 203.03h10.03v1.20h-10.03zM472.99 203.03h10.03v1.20h-10.03zM502.49 203.03h10.03v1.20h-10.03zM423.83 204.03h10.03v1.20h-10.03zM453.33 204.03h10.03v1.20h-10.03zM423.83 205.03h10.03v1.20h-10.03zM472.99 205.03h10.03v1.20h-10.03zM512.32 205.03h10.03v1.20h-10.03zM433.66 206.03h10.03v1.20h-10.03zM453.33 206.03h10.03v1.20h-10.03zM423.83 207.03h10.03v1.20h-10.03zM463.16 207.03h10.03v1.20h-10.03zM512.32 207.03h10.03v1.20h-10.03zM423.83 208.02h10.03v1.20h-10.03zM453.33 208.02h10.03v1.20h-10.03zM512.32 208.02h10.03v1.20h-10.03zM433.66 209.02h10.03v1.20h-10.03zM443.50 209.02h10.03v1.20h-10.03zM463.16 209.02h10.03v1.20h-10.03zM472.99 209.02h10.03v1.20h-10.03zM512.32 209.02h10.03v1.20h-10.03zM443.50 210.02h10.03v1.20h-10.03zM423.83 211.02h10.03v1.20h-10.03zM433.66 211.02h10.03v1.20h-10.03zM453.33 211.02h10.03v1.20h-10.03zM443.50 212.02h10.03v1.20h-10.03zM472.99 212.02h10.03v1.20h-10.03zM433.66 213.02h10.03v1.20h-10.03zM472.99 213.02h10.03v1.20h-10.03zM433.66 214.02h10.03v1.20h-10.03zM443.50 214.02h10.03v1.20h-10.03zM463.16 214.02h10.03v1.20h-10.03zM472.99 214.02h10.03v1.20h-10.03zM414.00 215.02h10.03v1.20h-10.03zM463.16 215.02h10.03v1.20h-10.03zM472.99 215.02h10.03v1.20h-10.03zM433.66 216.02h10.03v1.20h-10.03zM453.33 217.01h10.03v1.20h-10.03zM463.16 217.01h10.03v1.20h-10.03zM502.49 217.01h10.03v1.20h-10.03zM433.66 218.01h10.03v1.20h-10.03zM453.33 218.01h10.03v1.20h-10.03zM463.16 218.01h10.03v1.20h-10.03zM472.99 218.01h10.03v1.20h-10.03zM453.33 219.01h10.03v1.20h-10.03zM463.16 219.01h10.03v1.20h-10.03zM472.99 219.01h10.03v1.20h-10.03zM502.49 219.01h10.03v1.20h-10.03zM423.83 220.01h10.03v1.20h-10.03zM443.50 220.01h10.03v1.20h-10.03zM512.32 220.01h10.03v1.20h-10.03zM443.50 221.01h10.03v1.20h-10.03zM453.33 221.01h10.03v1.20h-10.03zM463.16 221.01h10.03v1.20h-10.03zM472.99 222.01h10.03v1.20h-10.03zM453.33 223.01h10.03v1.20h-10.03zM414.00 224.01h10.03v1.20h-10.03zM423.83 224.01h10.03v1.20h-10.03zM433.66 225.01h10.03v1.20h-10.03zM472.99 225.01h10.03v1.20h-10.03zM443.50 227.00h10.03v1.20h-10.03zM414.00 228.00h10.03v1.20h-10.03zM453.33 228.00h10.03v1.20h-10.03zM472.99 228.00h10.03v1.20h-10.03zM414.00 229.00h10.03v1.20h-10.03z" fill="#403c00"/>
<path d="M571.31 40.20h10.03v1.20h-10.03zM571.31 41.20h10.03v1.20h-10.03zM561.48 44.20h10.03v1.20h-10.03zM561.48 46.19h10.03v1.20h-10.03zM541.82 50.19h10.03v1.20h-10.03zM561.48 53.19h10.03v1.20h-10.03zM561.48 64.17h10.03v1.20h-10.03zM561.48 67.17h10.03v1.20h-10.03zM571.31 67.17h10.03v1.20h-10.03zM561.48 68.17h10.03v1.20h-10.03zM571.31 68.17h10.03v1.20h-10.03zM571.31 71.17h10.03v1.20h-10.03zM590.98 72.17h10.03v1.20h-10.03zM571.31 73.17h10.03v1.20h-10.03zM561.48 74.16h10.03v1.20h-10.03zM571.31 74.16h10.03v1.20h-10.03zM581.14 81.16h10.03v1.20h-10.03zM571.31 82.16h10.03v1.20h-10.03zM571.31 83.15h10.03v1.20h-10.03zM571.31 84.15h10.03v1.20h-10.03zM561.48 87.15h10.03v1.20h-10.03zM590.98 91.15h10.03v1.20h-10.03zM571.31 97.14h10.03v1.20h-10.03zM541.82 100.14h10.03v1.20h-10.03zM531.98 101.14h10.03v1.20h-10.03zM561.48 101.14h10.03v1.20h-10.03zM581.14 101.14h10.03v1.20h-10.03zM581.14 102.14h10.03v1.20h-10.03zM571.31 103.13h10.03v1.20h-10.03zM561.48 104.13h10.03v1.20h-10.03zM571.31 104.13h10.03v1.20h-10.03zM541.82 105.13h10.03v1.20h-10.03zM561.48 105.13h10.03v1.20h-10.03zM571.31 107.13h10.03v1.20h-10.03zM571.31 110.13h10.03v1.20h-10.03zM531.98 111.13h10.03v1.20h-10.03zM541.82 111.13h10.03v1.20h-10.03zM581.14 111.13h10.03v1.20h-10.03zM561.48 112.12h10.03v1.20h-10.03zM561.48 115.12h10.03v1.20h-10.03zM541.82 117.12h10.03v1.20h-10.03zM561.48 117.12h10.03v1.20h-10.03zM571.31 119.12h10.03v1.20h-10.03zM541.82 121.12h10.03v1.20h-10.03zM571.31 121.12h10.03v1.20h-10.03zM541.82 122.11h10.03v1.20h-10.03zM581.14 122.11h10.03v1.20h-10.03zM561.48 125.11h10.03v1.20h-10.03zM561.48 126.11h10.03v1.20h-10.03zM581.14 126.11h10.03v1.20h-10.03zM541.82 127.11h10.03v1.20h-10.03zM581.14 127.11h10.03v1.20h-10.03zM590.98 127.11h10.03v1.20h-10.03zM590.98 128.11h10.03v1.20h-10.03zM561.48 129.11h10.03v1.20h-10.03zM581.14 129.11h10.03v1.20h-10.03zM502.49 141.09h10.03v1.20h-10.03zM502.49 146.09h10.03v1.20h-10.03zM502.49 148.09h10.03v1.20h-10.03zM502.49 149.09h10.03v1.20h-10.03zM502.49 150.08h10.03v1.20h-10.03zM522.15 153.08h10.03v1.20h-10.03zM512.32 159.08h10.03v1.20h-10.03zM512.32 161.07h10.03v1.20h-10.03zM522.15 161.07h10.03v1.20h-10.03zM502.49 162.07h10.03v1.20h-10.03zM512.32 167.07h10.03v1.20h-10.03zM492.66 170.06h10.03v1.20h-10.03zM453.33 173.06h10.03v1.20h-10.03zM453.33 174.06h10.03v1.20h-10.03zM414.00 176.06h10.03v1.20h-10.03zM433.66 176.06h10.03v1.20h-10.03zM472.99 176.06h10.03v1.20h-10.03zM414.00 179.05h10.03v1.20h-10.03zM433.66 179.05h10.03v1.20h-10.03zM463.16 179.05h10.03v1.20h-10.03zM423.83 180.05h10.03v1.20h-10.03zM443.50 180.05h10.03v1.20h-10.03zM472.99 180.05h10.03v1.20h-10.03zM453.33 181.05h10.03v1.20h-10.03zM443.50 182.05h10.03v1.20h-10.03zM453.33 182.05h10.03v1.20h-10.03zM453.33 184.05h10.03v1.20h-10.03zM433.66 185.05h10.03v1.20h-10.03zM414.00 186.05h10.03v1.20h-10.03zM472.99 186.05h10.03v1.20h-10.03zM472.99 187.05h10.03v1.20h-10.03zM463.16 188.05h10.03v1.20h-10.03zM472.99 191.04h10.03v1.20h-10.03zM414.00 192.04h10.03v1.20h-10.03zM443.50 192.04h10.03v1.20h-10.03zM472.99 192.04h10.03v1.20h-10.03zM453.33 197.04h10.03v1.20h-10.03zM472.99 197.04h10.03v1.20h-10.03zM414.00 198.03h10.03v1.20h-10.03zM433.66 198.03h10.03v1.20h-10.03zM453.33 199.03h10.03v1.20h-10.03zM463.16 199.03h10.03v1.20h-10.03zM443.50 200.03h10.03v1.20h-10.03zM433.66 201.03h10.03v1.20h-10.03zM472.99 201.03h10.03v1.20h-10.03zM512.32 201.03h10.03v1.20h-10.03zM414.00 202.03h10.03v1.20h-10.03zM463.16 202.03h10.03v1.20h-10.03zM512.32 202.03h10.03v1.20h-10.03zM414.00 203.03h10.03v1.20h-10.03zM414.00 204.03h10.03v1.20h-10.03zM443.50 204.03h10.03v1.20h-10.03zM463.16 204.03h10.03v1.20h-10.03zM472.99 204.03h10.03v1.20h-10.03zM512.32 204.03h10.03v1.20h-10.03zM414.00 206.03h10.03v1.20h-10.03zM414.00 207.03h10.03v1.20h-10.03zM443.50 207.03h10.03v1.20h-10.03zM453.33 207.03h10.03v1.20h-10.03zM433.66 208.02h10.03v1.20h-10.03zM443.50 208.02h10.03v1.20h-10.03zM443.50 211.02h10.03v1.20h-10.03zM472.99 211.02h10.03v1.20h-10.03zM433.66 212.02h10.03v1.20h-10.03zM512.32 214.02h10.03v1.20h-10.03zM453.33 215.02h10.03v1.20h-10.03zM512.32 215.02h10.03v1.20h-10.03zM443.50 216.02h10.03v1.20h-10.03zM453.33 216.02h10.03v1.20h-10.03zM443.50 217.01h10.03v1.20h-10.03zM443.50 218.01h10.03v1.20h-10.03zM453.33 220.01h10.03v1.20h-10.03zM414.00 221.01h10.03v1.20h-10.03zM472.99 221.01h10.03v1.20h-10.03zM463.16 224.01h10.03v1.20h-10.03zM414.00 226.01h10.03v1.20h-10.03zM472.99 227.00h10.03v1.20h-10.03zM433.66 228.00h10.03v1.20h-10.03z" fill="#4c4800"/>
<path d="M561.48 40.20h10.03v1.20h-10.03zM561.48 41.20h10.03v1.20h-10.03zM561.48 42.20h10.03v1.20h-10.03zM590.98 42.20h10.03v1.20h-10.03zM561.48 43.20h10.03v1.20h-10.03zM571.31 44.20h10.03v1.20h-10.03zM571.31 46.19h10.03v1.20h-10.03zM561.48 48.19h10.03v1.20h-10.03zM571.31 51.19h10.03v1.20h-10.03zM561.48 52.19h10.03v1.20h-10.03zM561.48 55.18h10.03v1.20h-10.03zM571.31 57.18h10.03v1.20h-10.03zM561.48 60.18h10.03v1.20h-10.03zM571.31 61.18h10.03v1.20h-10.03zM571.31 63.18h10.03v1.20h-10.03zM571.31 64.17h10.03v1.20h-10.03zM571.31 66.17h10.03v1.20h-10.03zM561.48 69.17h10.03v1.20h-10.03zM571.31 69.17h10.03v1.20h-10.03zM561.48 70.17h10.03v1.20h-10.03zM571.31 70.17h10.03v1.20h-10.03zM561.48 71.17h10.03v1.20h-10.03zM561.48 75.16h10.03v1.20h-10.03zM571.31 75.16h10.03v1.20h-10.03zM561.48 77.16h10.03v1.20h-10.03zM571.31 77.16h10.03v1.20h-10.03zM590.98 77.16h10.03v1.20h-10.03zM561.48 78.16h10.03v1.20h-10.03zM561.48 81.16h10.03v1.20h-10.03zM561.48 82.16h10.03v1.20h-10.03zM561.48 84.15h10.03v1.20h-10.03zM571.31 88.15h10.03v1.20h-10.03zM561.48 90.15h10.03v1.20h-10.03zM571.31 93.14h10.03v1.20h-10.03zM571.31 96.14h10.03v1.20h-10.03zM561.48 98.14h10.03v1.20h-10.03zM571.31 99.14h10.03v1.20h-10.03zM561.48 100.14h10.03v1.20h-10.03zM571.31 100.14h10.03v1.20h-10.03zM590.98 100.14h10.03v1.20h-10.03zM571.31 101.14h10.03v1.20h-10.03zM541.82 102.14h10.03v1.20h-10.03zM561.48 102.14h10.03v1.20h-10.03zM590.98 104.13h10.03v1.20h-10.03zM571.31 105.13h10.03v1.20h-10.03zM590.98 106.13h10.03v1.20h-10.03zM561.48 107.13h10.03v1.20h-10.03zM561.48 108.13h10.03v1.20h-10.03zM541.82 110.13h10.03v1.20h-10.03zM590.98 110.13h10.03v1.20h-10.03zM571.31 111.13h10.03v1.20h-10.03zM541.82 112.12h10.03v1.20h-10.03zM571.31 112.12h10.03v1.20h-10.03zM541.82 115.12h10.03v1.20h-10.03zM581.14 115.12h10.03v1.20h-10.03zM571.31 120.12h10.03v1.20h-10.03zM561.48 121.12h10.03v1.20h-10.03zM561.48 122.11h10.03v1.20h-10.03zM522.15 124.11h10.03v1.20h-10.03zM561.48 124.11h10.03v1.20h-10.03zM590.98 124.11h10.03v1.20h-10.03zM590.98 125.11h10.03v1.20h-10.03zM590.98 126.11h10.03v1.20h-10.03zM502.49 142.09h10.03v1.20h-10.03zM502.49 143.09h10.03v1.20h-10.03zM502.49 144.09h10.03v1.20h-10.03zM512.32 144.09h10.03v1.20h-10.03zM522.15 144.09h10.03v1.20h-10.03zM512.32 146.09h10.03v1.20h-10.03zM512.32 147.09h10.03v1.20h-10.03zM522.15 147.09h10.03v1.20h-10.03zM502.49 152.08h10.03v1.20h-10.03zM522.15 152.08h10.03v1.20h-10.03zM512.32 154.08h10.03v1.20h-10.03zM502.49 159.08h10.03v1.20h-10.03zM502.49 161.07h10.03v1.20h-10.03zM512.32 162.07h10.03v1.20h-10.03zM502.49 168.07h10.03v1.20h-10.03zM414.00 173.06h10.03v1.20h-10.03zM443.50 173.06h10.03v1.20h-10.03zM443.50 174.06h10.03v1.20h-10.03zM453.33 176.06h10.03v1.20h-10.03zM414.00 177.06h10.03v1.20h-10.03zM443.50 177.06h10.03v1.20h-10.03zM453.33 177.06h10.03v1.20h-10.03zM453.33 179.05h10.03v1.20h-10.03zM472.99 179.05h10.03v1.20h-10.03zM414.00 180.05h10.03v1.20h-10.03zM463.16 180.05h10.03v1.20h-10.03zM414.00 181.05h10.03v1.20h-10.03zM472.99 181.05h10.03v1.20h-10.03zM472.99 182.05h10.03v1.20h-10.03zM433.66 183.05h10.03v1.20h-10.03zM453.33 185.05h10.03v1.20h-10.03zM463.16 185.05h10.03v1.20h-10.03zM433.66 186.05h10.03v1.20h-10.03zM443.50 187.05h10.03v1.20h-10.03zM453.33 187.05h10.03v1.20h-10.03zM463.16 187.05h10.03v1.20h-10.03zM433.66 188.05h10.03v1.20h-10.03zM472.99 188.05h10.03v1.20h-10.03zM453.33 191.04h10.03v1.20h-10.03zM433.66 192.04h10.03v1.20h-10.03zM512.32 196.04h10.03v1.20h-10.03zM433.66 199.03h10.03v1.20h-10.03zM472.99 199.03h10.03v1.20h-10.03zM414.00 200.03h10.03v1.20h-10.03zM433.66 200.03h10.03v1.20h-10.03zM463.16 200.03h10.03v1.20h-10.03zM512.32 200.03h10.03v1.20h-10.03zM443.50 202.03h10.03v1.20h-10.03zM453.33 202.03h10.03v1.20h-10.03zM433.66 203.03h10.03v1.20h-10.03zM453.33 203.03h10.03v1.20h-10.03zM463.16 203.03h10.03v1.20h-10.03zM512.32 203.03h10.03v1.20h-10.03zM433.66 207.03h10.03v1.20h-10.03zM463.16 208.02h10.03v1.20h-10.03zM512.32 210.02h10.03v1.20h-10.03zM414.00 211.02h10.03v1.20h-10.03zM453.33 212.02h10.03v1.20h-10.03zM512.32 212.02h10.03v1.20h-10.03zM433.66 215.02h10.03v1.20h-10.03zM443.50 215.02h10.03v1.20h-10.03zM433.66 217.01h10.03v1.20h-10.03zM512.32 218.01h10.03v1.20h-10.03zM512.32 219.01h10.03v1.20h-10.03zM414.00 220.01h10.03v1.20h-10.03zM433.66 220.01h10.03v1.20h-10.03zM463.16 220.01h10.03v1.20h-10.03zM433.66 224.01h10.03v1.20h-10.03zM453.33 224.01h10.03v1.20h-10.03zM472.99 224.01h10.03v1.20h-10.03zM443.50 225.01h10.03v1.20h-10.03zM453.33 225.01h10.03v1.20h-10.03zM433.66 226.01h10.03v1.20h-10.03zM453.33 226.01h10.03v1.20h-10.03zM463.16 226.01h10.03v1.20h-10.03zM472.99 226.01h10.03v1.20h-10.03zM433.66 227.00h10.03v1.20h-10.03zM453.33 227.00h10.03v1.20h-10.03z" fill="#595400"/>
<path d="M561.48 45.19h10.03v1.20h-10.03zM561.48 51.19h10.03v1.20h-10.03zM571.31 52.19h10.03v1.20h-10.03zM590.98 53.19h10.03v1.20h-10.03zM561.48 54.19h10.03v1.20h-10.03zM571.31 54.19h10.03v1.20h-10.03zM571.31 55.18h10.03v1.20h-10.03zM571.31 59.18h10.03v1.20h-10.03zM561.48 61.18h10.03v1.20h-10.03zM561.48 65.17h10.03v1.20h-10.03zM571.31 65.17h10.03v1.20h-10.03zM561.48 66.17h10.03v1.20h-10.03zM590.98 69.17h10.03v1.20h-10.03zM590.98 71.17h10.03v1.20h-10.03zM571.31 79.16h10.03v1.20h-10.03zM561.48 80.16h10.03v1.20h-10.03zM561.48 85.15h10.03v1.20h-10.03zM561.48 86.15h10.03v1.20h-10.03zM590.98 87.15h10.03v1.20h-10.03zM561.48 88.15h10.03v1.20h-10.03zM561.48 89.15h10.03v1.20h-10.03zM571.31 90.15h10.03v1.20h-10.03zM561.48 94.14h10.03v1.20h-10.03zM561.48 95.14h10.03v1.20h-10.03zM561.48 99.14h10.03v1.20h-10.03zM590.98 103.13h10.03v1.20h-10.03zM590.98 105.13h10.03v1.20h-10.03zM541.82 107.13h10.03v1.20h-10.03zM590.98 107.13h10.03v1.20h-10.03zM541.82 108.13h10.03v1.20h-10.03zM581.14 108.13h10.03v1.20h-10.03zM571.31 109.13h10.03v1.20h-10.03zM581.14 109.13h10.03v1.20h-10.03zM561.48 111.13h10.03v1.20h-10.03zM590.98 114.12h10.03v1.20h-10.03zM571.31 115.12h10.03v1.20h-10.03zM571.31 118.12h10.03v1.20h-10.03zM590.98 118.12h10.03v1.20h-10.03zM561.48 119.12h10.03v1.20h-10.03zM581.14 120.12h10.03v1.20h-10.03zM571.31 122.11h10.03v1.20h-10.03zM561.48 123.11h10.03v1.20h-10.03zM590.98 123.11h10.03v1.20h-10.03zM571.31 124.11h10.03v1.20h-10.03zM571.31 126.11h10.03v1.20h-10.03zM561.48 128.11h10.03v1.20h-10.03zM541.82 130.11h10.03v1.20h-10.03zM502.49 135.10h10.03v1.20h-10.03zM502.49 136.10h10.03v1.20h-10.03zM502.49 138.10h10.03v1.20h-10.03zM512.32 138.10h10.03v1.20h-10.03zM522.15 138.10h10.03v1.20h-10.03zM502.49 139.10h10.03v1.20h-10.03zM502.49 140.10h10.03v1.20h-10.03zM522.15 141.09h10.03v1.20h-10.03zM512.32 142.09h10.03v1.20h-10.03zM512.32 143.09h10.03v1.20h-10.03zM522.15 143.09h10.03v1.20h-10.03zM502.49 145.09h10.03v1.20h-10.03zM512.32 149.09h10.03v1.20h-10.03zM522.15 150.08h10.03v1.20h-10.03zM502.49 151.08h10.03v1.20h-10.03zM512.32 152.08h10.03v1.20h-10.03zM522.15 159.08h10.03v1.20h-10.03zM502.49 164.07h10.03v1.20h-10.03zM522.15 164.07h10.03v1.20h-10.03zM522.15 167.07h10.03v1.20h-10.03zM512.32 168.07h10.03v1.20h-10.03zM522.15 168.07h10.03v1.20h-10.03zM433.66 173.06h10.03v1.20h-10.03zM443.50 176.06h10.03v1.20h-10.03zM443.50 178.06h10.03v1.20h-10.03zM443.50 179.05h10.03v1.20h-10.03zM433.66 180.05h10.03v1.20h-10.03zM453.33 180.05h10.03v1.20h-10.03zM453.33 188.05h10.03v1.20h-10.03zM443.50 199.03h10.03v1.20h-10.03zM472.99 200.03h10.03v1.20h-10.03zM472.99 208.02h10.03v1.20h-10.03zM512.32 217.01h10.03v1.20h-10.03zM433.66 219.01h10.03v1.20h-10.03zM443.50 224.01h10.03v1.20h-10.03zM443.50 226.01h10.03v1.20h-10.03z" fill="#666000"/>
<path d="M571.31 43.20h10.03v1.20h-10.03zM590.98 44.20h10.03v1.20h-10.03zM561.48 47.19h10.03v1.20h-10.03zM571.31 47.19h10.03v1.20h-10.03zM571.31 49.19h10.03v1.20h-10.03zM590.98 51.19h10.03v1.20h-10.03zM561.48 56.18h10.03v1.20h-10.03zM561.48 59.18h10.03v1.20h-10.03zM571.31 62.18h10.03v1.20h-10.03zM561.48 63.18h10.03v1.20h-10.03zM590.98 68.17h10.03v1.20h-10.03zM571.31 78.16h10.03v1.20h-10.03zM561.48 79.16h10.03v1.20h-10.03zM571.31 89.15h10.03v1.20h-10.03zM571.31 92.15h10.03v1.20h-10.03zM561.48 93.14h10.03v1.20h-10.03zM561.48 96.14h10.03v1.20h-10.03zM590.98 98.14h10.03v1.20h-10.03zM571.31 108.13h10.03v1.20h-10.03zM561.48 109.13h10.03v1.20h-10.03zM590.98 117.12h10.03v1.20h-10.03zM561.48 120.12h10.03v1.20h-10.03zM590.98 122.11h10.03v1.20h-10.03zM551.65 129.11h10.03v1.20h-10.03zM561.48 130.11h10.03v1.20h-10.03zM512.32 134.10h10.03v1.20h-10.03zM512.32 135.10h10.03v1.20h-10.03zM512.32 136.10h10.03v1.20h-10.03zM512.32 139.10h10.03v1.20h-10.03zM512.32 148.09h10.03v1.20h-10.03zM522.15 148.09h10.03v1.20h-10.03zM522.15 149.09h10.03v1.20h-10.03zM512.32 150.08h10.03v1.20h-10.03zM512.32 151.08h10.03v1.20h-10.03zM502.49 156.08h10.03v1.20h-10.03zM522.15 158.08h10.03v1.20h-10.03zM512.32 165.07h10.03v1.20h-10.03zM522.15 170.06h10.03v1.20h-10.03zM472.99 207.03h10.03v1.20h-10.03z" fill="#736c00"/>
<path d="M590.98 46.19h10.03v1.20h-10.03zM561.48 49.19h10.03v1.20h-10.03zM561.48 50.19h10.03v1.20h-10.03zM561.48 57.18h10.03v1.20h-10.03zM571.31 60.18h10.03v1.20h-10.03zM561.48 62.18h10.03v1.20h-10.03zM590.98 78.16h10.03v1.20h-10.03zM571.31 80.16h10.03v1.20h-10.03zM571.31 85.15h10.03v1.20h-10.03zM571.31 86.15h10.03v1.20h-10.03zM590.98 92.15h10.03v1.20h-10.03zM571.31 94.14h10.03v1.20h-10.03zM590.98 99.14h10.03v1.20h-10.03zM571.31 102.14h10.03v1.20h-10.03zM590.98 111.13h10.03v1.20h-10.03zM590.98 112.12h10.03v1.20h-10.03zM590.98 119.12h10.03v1.20h-10.03zM590.98 120.12h10.03v1.20h-10.03zM561.48 127.11h10.03v1.20h-10.03zM522.15 134.10h10.03v1.20h-10.03zM522.15 135.10h10.03v1.20h-10.03zM502.49 137.10h10.03v1.20h-10.03zM522.15 142.09h10.03v1.20h-10.03zM512.32 145.09h10.03v1.20h-10.03zM522.15 146.09h10.03v1.20h-10.03zM522.15 151.08h10.03v1.20h-10.03zM502.49 157.08h10.03v1.20h-10.03zM512.32 157.08h10.03v1.20h-10.03zM502.49 158.08h10.03v1.20h-10.03zM502.49 160.07h10.03v1.20h-10.03zM522.15 162.07h10.03v1.20h-10.03zM522.15 165.07h10.03v1.20h-10.03zM502.49 166.07h10.03v1.20h-10.03zM522.15 169.06h10.03v1.20h-10.03zM502.49 170.06h10.03v1.20h-10.03zM512.32 170.06h10.03v1.20h-10.03z" fill="#807800"/>
<path d="M590.98 43.20h10.03v1.20h-10.03zM571.31 45.19h10.03v1.20h-10.03zM571.31 48.19h10.03v1.20h-10.03zM590.98 56.18h10.03v1.20h-10.03zM590.98 64.17h10.03v1.20h-10.03zM590.98 73.17h10.03v1.20h-10.03zM590.98 74.16h10.03v1.20h-10.03zM590.98 75.16h10.03v1.20h-10.03zM590.98 83.15h10.03v1.20h-10.03zM571.31 95.14h10.03v1.20h-10.03zM590.98 101.14h10.03v1.20h-10.03zM590.98 108.13h10.03v1.20h-10.03zM590.98 121.12h10.03v1.20h-10.03zM522.15 136.10h10.03v1.20h-10.03zM522.15 139.10h10.03v1.20h-10.03zM522.15 140.10h10.03v1.20h-10.03zM522.15 145.09h10.03v1.20h-10.03zM512.32 156.08h10.03v1.20h-10.03zM512.32 158.08h10.03v1.20h-10.03zM512.32 160.07h10.03v1.20h-10.03zM512.32 163.07h10.03v1.20h-10.03zM512.32 164.07h10.03v1.20h-10.03zM522.15 166.07h10.03v1.20h-10.03zM502.49 169.06h10.03v1.20h-10.03z" fill="#8c8400"/>
<path d="M571.31 50.19h10.03v1.20h-10.03zM590.98 66.17h10.03v1.20h-10.03zM590.98 70.17h10.03v1.20h-10.03zM590.98 76.16h10.03v1.20h-10.03zM590.98 81.16h10.03v1.20h-10.03zM590.98 82.16h10.03v1.20h-10.03zM590.98 84.15h10.03v1.20h-10.03zM590.98 96.14h10.03v1.20h-10.03zM590.98 102.14h10.03v1.20h-10.03zM590.98 109.13h10.03v1.20h-10.03zM571.31 129.11h10.03v1.20h-10.03zM512.32 137.10h10.03v1.20h-10.03zM522.15 137.10h10.03v1.20h-10.03zM522.15 160.07h10.03v1.20h-10.03zM502.49 163.07h10.03v1.20h-10.03zM512.32 166.07h10.03v1.20h-10.03z" fill="#999000"/>
<path d="M590.98 41.20h10.03v1.20h-10.03zM590.98 61.18h10.03v1.20h-10.03zM590.98 67.17h10.03v1.20h-10.03zM590.98 85.15h10.03v1.20h-10.03zM590.98 93.14h10.03v1.20h-10.03zM590.98 97.14h10.03v1.20h-10.03zM590.98 115.12h10.03v1.20h-10.03zM571.31 128.11h10.03v1.20h-10.03zM571.31 130.11h10.03v1.20h-10.03zM512.32 140.10h10.03v1.20h-10.03zM522.15 156.08h10.03v1.20h-10.03zM522.15 157.08h10.03v1.20h-10.03zM512.32 169.06h10.03v1.20h-10.03z" fill="#a69c00"/>
<path d="M590.98 45.19h10.03v1.20h-10.03zM590.98 48.19h10.03v1.20h-10.03zM590.98 52.19h10.03v1.20h-10.03zM590.98 59.18h10.03v1.20h-10.03zM590.98 63.18h10.03v1.20h-10.03zM590.98 88.15h10.03v1.20h-10.03zM590.98 90.15h10.03v1.20h-10.03zM590.98 95.14h10.03v1.20h-10.03zM551.65 127.11h10.03v1.20h-10.03zM551.65 128.11h10.03v1.20h-10.03z" fill="#b2a800"/>
<path d="M590.98 40.20h10.03v1.20h-10.03zM590.98 47.19h10.03v1.20h-10.03zM590.98 62.18h10.03v1.20h-10.03zM590.98 89.15h10.03v1.20h-10.03zM522.15 163.07h10.03v1.20h-10.03z" fill="#bfb400"/>
<path d="M590.98 55.18h10.03v1.20h-10.03zM590.98 57.18h10.03v1.20h-10.03zM590.98 60.18h10.03v1.20h-10.03zM551.65 130.11h10.03v1.20h-10.03z" fill="#ccc000"/>
<path d="M590.98 54.19h10.03v1.20h-10.03zM590.98 65.17h10.03v1.20h-10.03zM590.98 79.16h10.03v1.20h-10.03zM590.98 80.16h10.03v1.20h-10.03zM590.98 94.14h10.03v1.20h-10.03zM571.31 127.11h10.03v1.20h-10.03z" fill="#d9cc00"/>
<path d="M590.98 49.19h10.03v1.20h-10.03zM590.98 86.15h10.03v1.20h-10.03z" fill="#e6d800"/>
<path d="M590.98 50.19h10.03v1.20h-10.03z" fill="#f2e400"/>
</g>
<text transform="translate(423.02 236.00) rotate(-90) scale(1.02 1)" font-size="8.3" fill="#1a1a1a" text-anchor="end">ctr-4</text>
<text transform="translate(432.85 236.00) rotate(-90) scale(1.02 1)" font-size="8.3" fill="#1a1a1a" text-anchor="end">ctr-5</text>
<text transform="translate(442.68 236.00) rotate(-90) scale(1.02 1)" font-size="8.3" fill="#1a1a1a" text-anchor="end">ctr-6</text>
<text transform="translate(452.51 236.00) rotate(-90) scale(1.02 1)" font-size="8.3" fill="#1a1a1a" text-anchor="end">ctr-7</text>
<text transform="translate(462.34 236.00) rotate(-90) scale(1.02 1)" font-size="8.3" fill="#1a1a1a" text-anchor="end">ctr-2</text>
<text transform="translate(472.18 236.00) rotate(-90) scale(1.02 1)" font-size="8.3" fill="#1a1a1a" text-anchor="end">ctr-3</text>
<text transform="translate(482.01 236.00) rotate(-90) scale(1.02 1)" font-size="8.3" fill="#1a1a1a" text-anchor="end">ctr-1</text>
<text transform="translate(491.84 236.00) rotate(-90) scale(1.02 1)" font-size="8.3" fill="#1a1a1a" text-anchor="end">C26 Rol-3</text>
<text transform="translate(501.67 236.00) rotate(-90) scale(1.02 1)" font-size="8.3" fill="#1a1a1a" text-anchor="end">C26 Rol-4</text>
<text transform="translate(511.50 236.00) rotate(-90) scale(1.02 1)" font-size="8.3" fill="#1a1a1a" text-anchor="end">C26 Rol-1</text>
<text transform="translate(521.34 236.00) rotate(-90) scale(1.02 1)" font-size="8.3" fill="#1a1a1a" text-anchor="end">C26 Rol-2</text>
<text transform="translate(531.17 236.00) rotate(-90) scale(1.02 1)" font-size="8.3" fill="#1a1a1a" text-anchor="end">C26 Rol-5</text>
<text transform="translate(541.00 236.00) rotate(-90) scale(1.02 1)" font-size="8.3" fill="#1a1a1a" text-anchor="end">C26 veh-2</text>
<text transform="translate(550.83 236.00) rotate(-90) scale(1.02 1)" font-size="8.3" fill="#1a1a1a" text-anchor="end">C26 veh-6</text>
<text transform="translate(560.66 236.00) rotate(-90) scale(1.02 1)" font-size="8.3" fill="#1a1a1a" text-anchor="end">C26 veh-7</text>
<text transform="translate(570.50 236.00) rotate(-90) scale(1.02 1)" font-size="8.3" fill="#1a1a1a" text-anchor="end">C26 veh-4</text>
<text transform="translate(580.33 236.00) rotate(-90) scale(1.02 1)" font-size="8.3" fill="#1a1a1a" text-anchor="end">C26 veh-5</text>
<text transform="translate(590.16 236.00) rotate(-90) scale(1.02 1)" font-size="8.3" fill="#1a1a1a" text-anchor="end">C26 veh-1</text>
<text transform="translate(599.99 236.00) rotate(-90) scale(1.02 1)" font-size="8.3" fill="#1a1a1a" text-anchor="end">C26 veh-3</text>
<path d="M419.5 40.2V34H429.3V40.2M439.1 40.2V33.5H448.9V40.2M424.4 34V31.3H444V33.5M458.7 40.2V33H468.5V40.2M463.6 33V31.3H478.3V40.2M434.2 31.3V29.4H471V31.3M488.1 40.2V30.5H497.9V40.2M452.6 29.4V24H493V30.5M507.7 40.2V30.5H517.5V40.2M512.6 30.5V26H527.3V40.2M472.8 24V19.3H520V26M537.1 40.2V31.6H546.9V40.2M542 31.6V30.2H556.7V40.2M566.5 40.2V33.4H576.3V40.2M571.4 33.4V28.9H586.1V40.2M549.4 30.2V24.1H578.8V28.9M564 24.1V16H595.9V40.2M496.4 19.3V3.2H580V16" stroke="#111" stroke-width="0.85" fill="none"/>
<path d="M414.3 40.20h-5.8v1.02h5.8zM414.3 41.20h-7.2v1.02h7.2zM414.3 42.20h-5.3v1.02h5.3zM414.3 43.20h-6.0v1.02h6.0zM414.3 44.20h-7.9v1.02h7.9zM414.3 45.19h-15.1v1.02h15.1zM414.3 46.19h-9.1v1.02h9.1zM414.3 47.19h-9.2v1.02h9.2zM414.3 48.19h-9.3v1.02h9.3zM414.3 49.19h-9.6v1.02h9.6zM414.3 50.19h-10.4v1.02h10.4zM414.3 51.19h-14.6v1.02h14.6zM414.3 52.19h-7.3v1.02h7.3zM414.3 53.19h-5.8v1.02h5.8zM414.3 54.19h-7.3v1.02h7.3zM414.3 55.18h-7.4v1.02h7.4zM414.3 56.18h-14.4v1.02h14.4zM414.3 57.18h-7.9v1.02h7.9zM414.3 58.18h-8.2v1.02h8.2zM414.3 59.18h-7.7v1.02h7.7zM414.3 60.18h-15.0v1.02h15.0zM414.3 61.18h-7.9v1.02h7.9zM414.3 62.18h-9.2v1.02h9.2zM414.3 63.18h-14.6v1.02h14.6zM414.3 64.17h-9.0v1.02h9.0zM414.3 65.17h-13.3v1.02h13.3zM414.3 66.17h-11.3v1.02h11.3zM414.3 67.17h-12.8v1.02h12.8zM414.3 68.17h-12.3v1.02h12.3zM414.3 69.17h-13.2v1.02h13.2zM414.3 70.17h-8.8v1.02h8.8zM414.3 71.17h-6.8v1.02h6.8zM414.3 72.17h-8.5v1.02h8.5zM414.3 73.17h-11.0v1.02h11.0zM414.3 74.16h-13.0v1.02h13.0zM414.3 75.16h-12.0v1.02h12.0zM414.3 76.16h-6.3v1.02h6.3zM414.3 77.16h-5.8v1.02h5.8zM414.3 78.16h-7.6v1.02h7.6zM414.3 79.16h-8.5v1.02h8.5zM414.3 80.16h-9.3v1.02h9.3zM414.3 81.16h-15.1v1.02h15.1zM414.3 82.16h-5.4v1.02h5.4zM414.3 83.15h-13.7v1.02h13.7zM414.3 84.15h-8.6v1.02h8.6zM414.3 85.15h-9.6v1.02h9.6zM414.3 86.15h-10.1v1.02h10.1zM414.3 87.15h-11.8v1.02h11.8zM414.3 88.15h-10.1v1.02h10.1zM414.3 89.15h-12.9v1.02h12.9zM414.3 90.15h-5.6v1.02h5.6zM414.3 91.15h-9.0v1.02h9.0zM414.3 92.15h-6.0v1.02h6.0zM414.3 93.14h-10.9v1.02h10.9zM414.3 94.14h-5.4v1.02h5.4zM414.3 95.14h-5.9v1.02h5.9zM414.3 96.14h-6.2v1.02h6.2zM414.3 97.14h-6.9v1.02h6.9zM414.3 98.14h-7.9v1.02h7.9zM414.3 99.14h-7.5v1.02h7.5zM414.3 100.14h-9.3v1.02h9.3zM414.3 101.14h-8.2v1.02h8.2zM414.3 102.14h-12.1v1.02h12.1zM414.3 103.13h-9.1v1.02h9.1zM414.3 104.13h-10.6v1.02h10.6zM414.3 105.13h-12.7v1.02h12.7zM414.3 106.13h-11.3v1.02h11.3zM414.3 107.13h-11.3v1.02h11.3zM414.3 108.13h-5.7v1.02h5.7zM414.3 109.13h-5.2v1.02h5.2zM414.3 110.13h-10.3v1.02h10.3zM414.3 111.13h-10.0v1.02h10.0zM414.3 112.12h-7.9v1.02h7.9zM414.3 113.12h-9.9v1.02h9.9zM414.3 114.12h-10.6v1.02h10.6zM414.3 115.12h-12.7v1.02h12.7zM414.3 116.12h-7.1v1.02h7.1zM414.3 117.12h-8.3v1.02h8.3zM414.3 118.12h-8.9v1.02h8.9zM414.3 119.12h-8.1v1.02h8.1zM414.3 120.12h-8.5v1.02h8.5zM414.3 121.12h-8.7v1.02h8.7zM414.3 122.11h-9.1v1.02h9.1zM414.3 123.11h-8.4v1.02h8.4zM414.3 124.11h-9.1v1.02h9.1zM414.3 125.11h-9.6v1.02h9.6zM414.3 126.11h-12.9v1.02h12.9zM414.3 127.11h-5.7v1.02h5.7zM414.3 128.11h-10.5v1.02h10.5zM414.3 129.11h-8.3v1.02h8.3zM414.3 130.11h-6.8v1.02h6.8zM414.3 131.10h-6.1v1.02h6.1zM414.3 132.10h-9.3v1.02h9.3zM414.3 133.10h-7.5v1.02h7.5zM414.3 134.10h-8.5v1.02h8.5zM414.3 135.10h-9.4v1.02h9.4zM414.3 136.10h-12.8v1.02h12.8zM414.3 137.10h-8.7v1.02h8.7zM414.3 138.10h-9.2v1.02h9.2zM414.3 139.10h-10.0v1.02h10.0zM414.3 140.10h-10.0v1.02h10.0zM414.3 141.09h-10.2v1.02h10.2zM414.3 142.09h-12.2v1.02h12.2zM414.3 143.09h-12.3v1.02h12.3zM414.3 144.09h-6.1v1.02h6.1zM414.3 145.09h-6.3v1.02h6.3zM414.3 146.09h-7.2v1.02h7.2zM414.3 147.09h-7.0v1.02h7.0zM414.3 148.09h-7.7v1.02h7.7zM414.3 149.09h-9.9v1.02h9.9zM414.3 150.08h-8.5v1.02h8.5zM414.3 151.08h-8.6v1.02h8.6zM414.3 152.08h-8.8v1.02h8.8zM414.3 153.08h-8.9v1.02h8.9zM414.3 154.08h-15.7v1.02h15.7zM414.3 155.08h-10.2v1.02h10.2zM414.3 156.08h-5.4v1.02h5.4zM414.3 157.08h-10.9v1.02h10.9zM414.3 158.08h-7.4v1.02h7.4zM414.3 159.08h-5.8v1.02h5.8zM414.3 160.07h-6.3v1.02h6.3zM414.3 161.07h-12.2v1.02h12.2zM414.3 162.07h-6.8v1.02h6.8zM414.3 163.07h-8.4v1.02h8.4zM414.3 164.07h-7.0v1.02h7.0zM414.3 165.07h-12.0v1.02h12.0zM414.3 166.07h-8.5v1.02h8.5zM414.3 167.07h-8.5v1.02h8.5zM414.3 168.07h-8.7v1.02h8.7zM414.3 169.06h-5.9v1.02h5.9zM414.3 170.06h-10.9v1.02h10.9zM414.3 171.06h-10.9v1.02h10.9zM414.3 172.06h-10.3v1.02h10.3zM414.3 173.06h-13.0v1.02h13.0zM414.3 174.06h-10.8v1.02h10.8zM414.3 175.06h-6.4v1.02h6.4zM414.3 176.06h-8.0v1.02h8.0zM414.3 177.06h-6.8v1.02h6.8zM414.3 178.06h-13.4v1.02h13.4zM414.3 179.05h-7.1v1.02h7.1zM414.3 180.05h-6.8v1.02h6.8zM414.3 181.05h-8.2v1.02h8.2zM414.3 182.05h-5.7v1.02h5.7zM414.3 183.05h-8.5v1.02h8.5zM414.3 184.05h-12.1v1.02h12.1zM414.3 185.05h-13.4v1.02h13.4zM414.3 186.05h-11.3v1.02h11.3zM414.3 187.05h-10.1v1.02h10.1zM414.3 188.05h-13.2v1.02h13.2zM414.3 189.04h-10.8v1.02h10.8zM414.3 190.04h-6.5v1.02h6.5zM414.3 191.04h-14.3v1.02h14.3zM414.3 192.04h-5.5v1.02h5.5zM414.3 193.04h-8.7v1.02h8.7zM414.3 194.04h-7.1v1.02h7.1zM414.3 195.04h-8.3v1.02h8.3zM414.3 196.04h-9.8v1.02h9.8zM414.3 197.04h-14.0v1.02h14.0zM414.3 198.03h-9.5v1.02h9.5zM414.3 199.03h-9.3v1.02h9.3zM414.3 200.03h-10.6v1.02h10.6zM414.3 201.03h-11.9v1.02h11.9zM414.3 202.03h-12.5v1.02h12.5zM414.3 203.03h-6.5v1.02h6.5zM414.3 204.03h-10.7v1.02h10.7zM414.3 205.03h-5.4v1.02h5.4zM414.3 206.03h-8.8v1.02h8.8zM414.3 207.03h-15.2v1.02h15.2zM414.3 208.02h-11.3v1.02h11.3zM414.3 209.02h-11.7v1.02h11.7zM414.3 210.02h-8.6v1.02h8.6zM414.3 211.02h-7.0v1.02h7.0zM414.3 212.02h-6.5v1.02h6.5zM414.3 213.02h-7.1v1.02h7.1zM414.3 214.02h-8.0v1.02h8.0zM414.3 215.02h-5.4v1.02h5.4zM414.3 216.02h-15.5v1.02h15.5zM414.3 217.01h-15.1v1.02h15.1zM414.3 218.01h-5.6v1.02h5.6zM414.3 219.01h-5.8v1.02h5.8zM414.3 220.01h-9.5v1.02h9.5zM414.3 221.01h-10.9v1.02h10.9zM414.3 222.01h-9.9v1.02h9.9zM414.3 223.01h-11.8v1.02h11.8zM414.3 224.01h-11.9v1.02h11.9zM414.3 225.01h-11.4v1.02h11.4zM414.3 226.01h-10.9v1.02h10.9zM414.3 227.00h-6.5v1.02h6.5zM414.3 228.00h-5.3v1.02h5.3zM414.3 229.00h-8.2v1.02h8.2zM414.3 230.00h-6.6v1.02h6.6z" fill="#000"/>
<path d="M414 40.5H401.6V41.6H414M401.6 41H399.6V42.7H414M414 43.8H401.4V45H414M399.6 41.9H396.5V44.4H401.4M396.5 43.1H396.4V46.1H414M414 47.2H401.5V48.3H414M396.4 44.6H393.9V47.8H401.5M414 50.6H401.8V51.7H414M414 52.8H401.3V54H414M401.3 53.4H399.7V55.1H414M399.7 54.2H398.9V56.2H414M401.8 51.1H394.6V55.2H398.9M414 49.5H394.8V53.2H394.6M393.9 46.2H392.6V51.3H394.8M414 57.3H401.1V58.5H414M414 61.8H401.8V63H414M414 60.7H400V62.4H401.8M414 59.6H397.4V61.6H400M401.1 57.9H396.1V60.6H397.4M414 65.2H401.3V66.3H414M414 64.1H398.8V65.8H401.3M414 67.5H401.9V68.6H414M414 70.9H401.1V72H414M414 69.7H400V71.4H401.1M401.9 68H397.9V70.6H400M414 73.1H401.2V74.2H414M401.2 73.7H399.8V75.4H414M397.9 69.3H395.5V74.5H399.8M398.8 64.9H393.4V71.9H395.5M396.1 59.2H391.8V68.4H393.4M414 76.5H401.8V77.6H414M391.8 63.8H388.9V77H401.8M414 81H401.7V82.1H414M414 83.2H401.1V84.4H414M401.1 83.8H399.3V85.5H414M399.3 84.6H397.6V86.6H414M414 87.7H401.6V88.9H414M401.6 88.3H399V90H414M399 89.2H397.2V91.1H414M397.6 85.6H393.4V90.1H397.2M401.7 81.6H393.7V87.9H393.4M414 79.9H393.1V84.7H393.7M414 78.7H392V82.3H393.1M388.9 70.4H384.5V80.5H392M392.6 48.8H387.2V75.5H384.5M414 92.2H401.7V93.4H414M414 95.6H401.5V96.8H414M414 94.5H398.8V96.2H401.5M401.7 92.8H396.6V95.3H398.8M414 97.9H401.9V99H414M401.9 98.4H399.9V100.1H414M396.6 94.1H393.3V99.3H399.9M414 101.3H401.7V102.4H414M401.7 101.8H399.8V103.5H414M414 104.6H401.5V105.8H414M401.5 105.2H398.8V106.9H414M399.8 102.7H395.8V106H398.8M393.3 96.7H393.2V104.4H395.8M414 108H401.4V109.1H414M414 110.3H401.8V111.4H414M414 113.6H401.3V114.8H414M401.3 114.2H399.7V115.9H414M414 112.5H397V115H399.7M397 113.8H395.7V117H414M401.8 110.8H393.9V115.4H395.7M401.4 108.6H394.5V113.1H393.9M414 119.3H401.4V120.4H414M414 122.7H401.3V123.8H414M414 121.5H398.8V123.2H401.3M401.4 119.8H395.9V122.4H398.8M395.9 121.1H395.1V124.9H414M414 118.1H395.5V123H395.1M394.5 110.8H390.7V120.6H395.5M393.2 100.5H384.5V115.7H390.7M414 126H401.6V127.2H414M401.6 126.6H399.9V128.3H414M414 129.4H401.9V130.5H414M399.9 127.4H397.3V130H401.9M414 131.7H401.7V132.8H414M397.3 128.7H395.8V132.2H401.7M384.5 108.1H383.3V130.5H395.8M387.2 62.1H386.5V119.3H383.3M414 136.2H401V137.3H414M401 136.7H399.8V138.4H414M414 139.5H401V140.7H414M399.8 137.6H397.4V140.1H401M414 135H396.9V138.8H397.4M414 141.8H401.4V142.9H414M396.9 136.9H394.8V142.4H401.4M414 145.2H401.9V146.3H414M414 144H399.5V145.7H401.9M414 148.5H401.6V149.7H414M414 147.4H400.2V149.1H401.6M399.5 144.9H397.2V148.3H400.2M394.8 139.6H390.5V146.6H397.2M414 133.9H391V143.1H390.5M414 151.9H401.2V153.1H414M401.2 152.5H399.5V154.2H414M414 150.8H397.7V153.3H399.5M397.7 152.1H395.7V155.3H414M414 157.6H401.3V158.7H414M414 156.4H399.4V158.1H401.3M414 160.9H401.3V162.1H414M401.3 161.5H399.5V163.2H414M414 159.8H398.6V162.3H399.5M399.4 157.3H395.1V161.1H398.6M414 164.3H401.7V165.4H414M401.7 164.9H400V166.6H414M395.1 159.2H392V165.7H400M414 167.7H401.5V168.8H414M401.5 168.3H399.5V169.9H414M399.5 169.1H397.7V171.1H414M392 162.4H390.6V170.1H397.7M395.7 153.7H388.9V166.3H390.6M391 138.5H383V160H388.9M414 174.4H401.6V175.6H414M401.6 175H399.7V176.7H414M414 173.3H399V175.9H399.7M414 179H401.3V180.1H414M414 177.8H399.1V179.5H401.3M414 181.2H401.7V182.3H414M399.1 178.7H395.8V181.8H401.7M414 183.5H401.6V184.6H414M414 185.7H401.4V186.8H414M401.4 186.3H399.8V188H414M401.6 184H397.2V187.1H399.8M395.8 180.2H393.9V185.6H397.2M393.9 182.9H391.8V189.1H414M399 174.6H390.8V186H391.8M414 172.2H390.8V180.3H390.8M414 190.2H401.7V191.3H414M401.7 190.8H400.1V192.5H414M414 195.8H401.1V197H414M414 194.7H398.8V196.4H401.1M414 193.6H398.5V195.6H398.8M398.5 194.6H395.7V198.1H414M414 200.3H401.3V201.5H414M401.3 200.9H399.8V202.6H414M414 204.9H401.3V206H414M414 207.1H401.6V208.2H414M401.3 205.4H397.1V207.7H401.6M414 203.7H397.5V206.5H397.1M399.8 201.8H394.5V205.1H397.5M394.5 203.4H394.8V209.4H414M414 199.2H392V206.4H394.8M395.7 196.3H390.8V202.8H392M400.1 191.6H390.1V199.6H390.8M414 213.9H401.7V215H414M414 212.7H399.5V214.4H401.7M414 211.6H398.6V213.6H399.5M414 216.1H401.7V217.2H414M398.6 212.6H395.4V216.7H401.7M414 210.5H395.7V214.6H395.4M390.1 195.6H386V212.6H395.7M390.8 176.2H382.7V204.1H386M414 219.5H401.8V220.6H414M414 221.7H401V222.9H414M401.8 220.1H397.1V222.3H401M397.1 221.2H397.1V224H414M414 218.4H394.7V222.6H397.1M414 227.4H401.4V228.5H414M401.4 227.9H398.8V229.6H414M398.8 228.8H397.4V230.8H414M414 226.2H397.5V229.8H397.4M414 225.1H396V228H397.5M394.7 220.5H390.4V226.6H396M382.7 190.2H381.3V223.5H390.4M383 149.2H378V206.8H381.3M386.5 90.7H377.4V178H378" stroke="#000" stroke-width="0.5" fill="none"/>
<defs><linearGradient id="gb" x1="0" y1="0" x2="0" y2="1"><stop offset="0" stop-color="#fff000"/><stop offset="0.5" stop-color="#000"/><stop offset="1" stop-color="#f500ff"/></linearGradient></defs>
<rect x="604" y="40.4" width="7.5" height="106.4" fill="url(#gb)"/>
<path d="M611.50 40.40L614.20 40.40" stroke="#666" stroke-width="0.6" fill="none"/>
<text transform="translate(618.50 43.40)" font-size="8.3" fill="#1a1a1a">4</text>
<path d="M611.50 67.20L614.20 67.20" stroke="#666" stroke-width="0.6" fill="none"/>
<text transform="translate(618.50 70.20)" font-size="8.3" fill="#1a1a1a">2</text>
<path d="M611.50 93.60L614.20 93.60" stroke="#666" stroke-width="0.6" fill="none"/>
<text transform="translate(618.50 96.60)" font-size="8.3" fill="#1a1a1a">0</text>
<path d="M611.50 120.20L614.20 120.20" stroke="#666" stroke-width="0.6" fill="none"/>
<text transform="translate(618.50 123.20)" font-size="8.3" fill="#1a1a1a">−2</text>
<path d="M611.50 146.60L614.20 146.60" stroke="#666" stroke-width="0.6" fill="none"/>
<text transform="translate(618.50 149.60)" font-size="8.3" fill="#1a1a1a">−4</text>
<text transform="translate(626.50 19.50)" font-size="8.8" fill="#1a1a1a" text-anchor="middle" textLength="50.8" lengthAdjust="spacingAndGlyphs">Normalized</text>
<text transform="translate(626.50 31.50)" font-size="8.8" fill="#1a1a1a" text-anchor="middle">RPKM</text>
<text transform="translate(-0.40 301.00) scale(1.07 1)" font-size="14.0" fill="#000" font-weight="bold" stroke="#000" stroke-width="0.35">c</text>
<text transform="translate(227.50 331.50)" font-size="9.3" fill="#1a1a1a" text-anchor="middle" textLength="219.5" lengthAdjust="spacingAndGlyphs">IPA canonical pathway - C26 Rol versus C26 veh</text>
<path d="M224.60 342.30L224.60 462.80" stroke="#8a8a8a" stroke-width="0.8" fill="none"/>
<path d="M224.60 462.80L345.60 462.80" stroke="#8a8a8a" stroke-width="0.8" fill="none"/>
<rect x="230.3" y="344.40" width="110.40" height="10.9" fill="#ff7f00" stroke="#444" stroke-width="0.65"/>
<path d="M221.40 349.85L224.60 349.85" stroke="#8a8a8a" stroke-width="0.7" fill="none"/>
<text transform="translate(216.60 352.45) scale(1.12 1)" font-size="9.3" fill="#1a1a1a" text-anchor="end">Oxidative phosphorylation</text>
<rect x="230.3" y="356.26" width="94.30" height="10.9" fill="#067bfb" stroke="#444" stroke-width="0.65"/>
<path d="M221.40 361.71L224.60 361.71" stroke="#8a8a8a" stroke-width="0.7" fill="none"/>
<text transform="translate(216.60 364.31) scale(1.12 1)" font-size="9.3" fill="#1a1a1a" text-anchor="end">Mitochondrial dysfunction</text>
<rect x="230.3" y="368.12" width="91.30" height="10.9" fill="#8ba6f7" stroke="#444" stroke-width="0.65"/>
<path d="M221.40 373.57L224.60 373.57" stroke="#8a8a8a" stroke-width="0.7" fill="none"/>
<text transform="translate(216.60 376.17) scale(1.12 1)" font-size="9.3" fill="#1a1a1a" text-anchor="end">Sirtuin signalling pathway</text>
<rect x="230.3" y="379.98" width="45.40" height="10.9" fill="#ffdfc6" stroke="#444" stroke-width="0.65"/>
<path d="M221.40 385.43L224.60 385.43" stroke="#8a8a8a" stroke-width="0.7" fill="none"/>
<text transform="translate(216.60 388.03) scale(1.12 1)" font-size="9.3" fill="#1a1a1a" text-anchor="end">Huntington's disease signalling</text>
<rect x="230.3" y="391.84" width="42.40" height="10.9" fill="#ffc89f" stroke="#444" stroke-width="0.65"/>
<path d="M221.40 397.29L224.60 397.29" stroke="#8a8a8a" stroke-width="0.7" fill="none"/>
<text transform="translate(216.60 399.89) scale(1.12 1)" font-size="9.3" fill="#1a1a1a" text-anchor="end">Oestrogen receptor signalling</text>
<rect x="230.3" y="403.70" width="41.40" height="10.9" fill="#9cb2f9" stroke="#444" stroke-width="0.65"/>
<path d="M221.40 409.15L224.60 409.15" stroke="#8a8a8a" stroke-width="0.7" fill="none"/>
<text transform="translate(216.60 411.75) scale(1.12 1)" font-size="9.3" fill="#1a1a1a" text-anchor="end">Autophagy</text>
<rect x="230.3" y="415.56" width="34.50" height="10.9" fill="#5c8df3" stroke="#444" stroke-width="0.65"/>
<path d="M221.40 421.01L224.60 421.01" stroke="#8a8a8a" stroke-width="0.7" fill="none"/>
<text transform="translate(216.60 423.61) scale(1.12 1)" font-size="9.3" fill="#1a1a1a" text-anchor="end">Granzyme A signalling</text>
<rect x="230.3" y="427.42" width="34.50" height="10.9" fill="#bccaf9" stroke="#444" stroke-width="0.65"/>
<path d="M221.40 432.87L224.60 432.87" stroke="#8a8a8a" stroke-width="0.7" fill="none"/>
<text transform="translate(216.60 435.47) scale(1.12 1)" font-size="9.3" fill="#1a1a1a" text-anchor="end">Sumoylation pathway</text>
<rect x="230.3" y="439.28" width="27.30" height="10.9" fill="#ff7f00" stroke="#444" stroke-width="0.65"/>
<path d="M221.40 444.73L224.60 444.73" stroke="#8a8a8a" stroke-width="0.7" fill="none"/>
<text transform="translate(216.60 447.33) scale(1.12 1)" font-size="9.3" fill="#1a1a1a" text-anchor="end">Neutrophil extracellular trap signalling pathway</text>
<rect x="230.3" y="451.14" width="24.10" height="10.9" fill="#fff5ef" stroke="#444" stroke-width="0.65"/>
<path d="M221.40 456.59L224.60 456.59" stroke="#8a8a8a" stroke-width="0.7" fill="none"/>
<text transform="translate(216.60 459.19) scale(1.12 1)" font-size="9.3" fill="#1a1a1a" text-anchor="end">BAG2 signalling pathway</text>
<path d="M230.30 462.80L230.30 466.00" stroke="#8a8a8a" stroke-width="0.7" fill="none"/>
<text transform="translate(230.30 476.90)" font-size="8.9" fill="#1a1a1a" text-anchor="middle">0</text>
<path d="M253.33 462.80L253.33 466.00" stroke="#8a8a8a" stroke-width="0.7" fill="none"/>
<text transform="translate(253.33 476.90)" font-size="8.9" fill="#1a1a1a" text-anchor="middle">5</text>
<path d="M276.36 462.80L276.36 466.00" stroke="#8a8a8a" stroke-width="0.7" fill="none"/>
<text transform="translate(276.36 476.90)" font-size="8.9" fill="#1a1a1a" text-anchor="middle">10</text>
<path d="M299.39 462.80L299.39 466.00" stroke="#8a8a8a" stroke-width="0.7" fill="none"/>
<text transform="translate(299.39 476.90)" font-size="8.9" fill="#1a1a1a" text-anchor="middle">15</text>
<path d="M322.42 462.80L322.42 466.00" stroke="#8a8a8a" stroke-width="0.7" fill="none"/>
<text transform="translate(322.42 476.90)" font-size="8.9" fill="#1a1a1a" text-anchor="middle">20</text>
<path d="M345.45 462.80L345.45 466.00" stroke="#8a8a8a" stroke-width="0.7" fill="none"/>
<text transform="translate(345.45 476.90)" font-size="8.9" fill="#1a1a1a" text-anchor="middle">25</text>
<text transform="translate(285.4 492.2)" font-size="9.0" text-anchor="middle" fill="#222" textLength="58" lengthAdjust="spacingAndGlyphs">−log(<tspan font-style="italic">P</tspan> value)</text>
<text transform="translate(224.4 503.0)" font-size="9.0" text-anchor="middle" fill="#222" textLength="33" lengthAdjust="spacingAndGlyphs"><tspan font-style="italic">z</tspan>-score</text>
<defs><linearGradient id="gz" x1="0" y1="0" x2="1" y2="0"><stop offset="0" stop-color="#1f6cf2"/><stop offset="0.5" stop-color="#fdf6f4"/><stop offset="1" stop-color="#ff7f00"/></linearGradient></defs>
<rect x="186.2" y="508.2" width="76.4" height="9.0" fill="url(#gz)"/>
<path d="M186.20 517.20L186.20 520.00" stroke="#555" stroke-width="0.6" fill="none"/>
<text transform="translate(186.20 530.50)" font-size="8.7" fill="#1a1a1a" text-anchor="middle">−5.0</text>
<path d="M205.30 517.20L205.30 520.00" stroke="#555" stroke-width="0.6" fill="none"/>
<text transform="translate(205.30 530.50)" font-size="8.7" fill="#1a1a1a" text-anchor="middle">−2.5</text>
<path d="M224.40 517.20L224.40 520.00" stroke="#555" stroke-width="0.6" fill="none"/>
<text transform="translate(224.40 530.50)" font-size="8.7" fill="#1a1a1a" text-anchor="middle">0</text>
<path d="M243.50 517.20L243.50 520.00" stroke="#555" stroke-width="0.6" fill="none"/>
<text transform="translate(243.50 530.50)" font-size="8.7" fill="#1a1a1a" text-anchor="middle">2.5</text>
<path d="M262.60 517.20L262.60 520.00" stroke="#555" stroke-width="0.6" fill="none"/>
<text transform="translate(262.60 530.50)" font-size="8.7" fill="#1a1a1a" text-anchor="middle">5.0</text>
<text transform="translate(181.30 515.80) scale(1.16 1)" font-size="9.3" fill="#1a1a1a" text-anchor="end">Inhibited</text>
<text transform="translate(267.20 515.80) scale(1.14 1)" font-size="9.3" fill="#1a1a1a">Activated</text>
<text transform="translate(387.60 300.90) scale(1.07 1)" font-size="14.0" fill="#000" font-weight="bold" stroke="#000" stroke-width="0.35">d</text>
<text transform="translate(520.10 304.80)" font-size="9.2" fill="#1a1a1a" text-anchor="middle" textLength="120" lengthAdjust="spacingAndGlyphs">Oxidative phosphorylation</text>
<path d="M424.00 325.50L485.62 325.50" stroke="#111" stroke-width="0.95" fill="none"/>
<text transform="translate(454.11 320.70) scale(1.08 1)" font-size="8.3" fill="#1a1a1a" text-anchor="middle">ctr</text>
<path d="M489.02 325.50L551.84 325.50" stroke="#111" stroke-width="0.95" fill="none"/>
<text transform="translate(520.33 320.70) scale(1.08 1)" font-size="8.3" fill="#1a1a1a" text-anchor="middle">C26 veh</text>
<path d="M555.24 325.50L599.14 325.50" stroke="#111" stroke-width="0.95" fill="none"/>
<text transform="translate(577.09 320.70) scale(1.08 1)" font-size="8.3" fill="#1a1a1a" text-anchor="middle">C26 Rol</text>
<g shape-rendering="crispEdges">
<rect x="421.00" y="331.40" width="179.74" height="633.90" fill="#30103a"/>
<path d="M421.00 331.40h9.76v7.76h-9.76zM468.30 331.40h9.76v7.76h-9.76zM477.76 331.40h9.76v7.76h-9.76zM562.90 331.40h9.76v7.76h-9.76zM421.00 338.86h9.76v7.76h-9.76zM439.92 338.86h9.76v7.76h-9.76zM468.30 338.86h9.76v7.76h-9.76zM477.76 338.86h9.76v7.76h-9.76zM421.00 346.32h9.76v7.76h-9.76zM468.30 346.32h9.76v7.76h-9.76zM477.76 346.32h9.76v7.76h-9.76zM562.90 346.32h9.76v7.76h-9.76zM421.00 353.77h9.76v7.76h-9.76zM439.92 353.77h9.76v7.76h-9.76zM421.00 361.23h9.76v7.76h-9.76zM468.30 361.23h9.76v7.76h-9.76zM562.90 361.23h9.76v7.76h-9.76zM468.30 368.69h9.76v7.76h-9.76zM477.76 376.15h9.76v7.76h-9.76zM562.90 376.15h9.76v7.76h-9.76zM562.90 383.60h9.76v7.76h-9.76zM421.00 391.06h9.76v7.76h-9.76zM468.30 391.06h9.76v7.76h-9.76zM477.76 391.06h9.76v7.76h-9.76zM562.90 391.06h9.76v7.76h-9.76zM439.92 413.43h9.76v7.76h-9.76zM468.30 413.43h9.76v7.76h-9.76zM439.92 420.89h9.76v7.76h-9.76zM468.30 420.89h9.76v7.76h-9.76zM477.76 420.89h9.76v7.76h-9.76zM562.90 450.72h9.76v7.76h-9.76zM439.92 458.18h9.76v7.76h-9.76zM562.90 458.18h9.76v7.76h-9.76zM562.90 465.64h9.76v7.76h-9.76zM562.90 473.10h9.76v7.76h-9.76zM430.46 480.55h9.76v7.76h-9.76zM430.46 488.01h9.76v7.76h-9.76zM439.92 488.01h9.76v7.76h-9.76zM468.30 488.01h9.76v7.76h-9.76zM477.76 488.01h9.76v7.76h-9.76zM430.46 495.47h9.76v7.76h-9.76zM439.92 495.47h9.76v7.76h-9.76zM468.30 495.47h9.76v7.76h-9.76zM477.76 495.47h9.76v7.76h-9.76zM421.00 502.93h9.76v7.76h-9.76zM430.46 502.93h9.76v7.76h-9.76zM449.38 502.93h9.76v7.76h-9.76zM477.76 525.30h9.76v7.76h-9.76zM468.30 532.76h9.76v7.76h-9.76zM477.76 532.76h9.76v7.76h-9.76zM468.30 540.21h9.76v7.76h-9.76zM477.76 540.21h9.76v7.76h-9.76zM477.76 547.67h9.76v7.76h-9.76zM477.76 555.13h9.76v7.76h-9.76zM591.28 562.59h9.76v7.76h-9.76zM553.44 577.50h9.76v7.76h-9.76zM562.90 577.50h9.76v7.76h-9.76zM421.00 592.42h9.76v7.76h-9.76zM421.00 607.33h9.76v7.76h-9.76zM430.46 607.33h9.76v7.76h-9.76zM439.92 607.33h9.76v7.76h-9.76zM553.44 607.33h9.76v7.76h-9.76zM562.90 607.33h9.76v7.76h-9.76zM430.46 614.79h9.76v7.76h-9.76zM439.92 614.79h9.76v7.76h-9.76zM468.30 614.79h9.76v7.76h-9.76zM477.76 614.79h9.76v7.76h-9.76zM430.46 622.25h9.76v7.76h-9.76zM449.38 622.25h9.76v7.76h-9.76zM468.30 622.25h9.76v7.76h-9.76zM477.76 622.25h9.76v7.76h-9.76zM468.30 629.71h9.76v7.76h-9.76zM477.76 629.71h9.76v7.76h-9.76zM439.92 637.16h9.76v7.76h-9.76zM477.76 637.16h9.76v7.76h-9.76zM439.92 644.62h9.76v7.76h-9.76zM477.76 644.62h9.76v7.76h-9.76zM477.76 652.08h9.76v7.76h-9.76zM477.76 659.54h9.76v7.76h-9.76zM468.30 666.99h9.76v7.76h-9.76zM477.76 666.99h9.76v7.76h-9.76zM468.30 674.45h9.76v7.76h-9.76zM477.76 674.45h9.76v7.76h-9.76zM439.92 681.91h9.76v7.76h-9.76zM477.76 681.91h9.76v7.76h-9.76zM430.46 689.37h9.76v7.76h-9.76zM449.38 689.37h9.76v7.76h-9.76zM468.30 689.37h9.76v7.76h-9.76zM477.76 689.37h9.76v7.76h-9.76zM449.38 696.82h9.76v7.76h-9.76zM468.30 696.82h9.76v7.76h-9.76zM477.76 696.82h9.76v7.76h-9.76zM421.00 704.28h9.76v7.76h-9.76zM468.30 704.28h9.76v7.76h-9.76zM477.76 704.28h9.76v7.76h-9.76zM421.00 711.74h9.76v7.76h-9.76zM449.38 711.74h9.76v7.76h-9.76zM477.76 711.74h9.76v7.76h-9.76zM430.46 726.66h9.76v7.76h-9.76zM449.38 726.66h9.76v7.76h-9.76zM458.84 726.66h9.76v7.76h-9.76zM468.30 726.66h9.76v7.76h-9.76zM477.76 726.66h9.76v7.76h-9.76zM430.46 734.11h9.76v7.76h-9.76zM439.92 734.11h9.76v7.76h-9.76zM468.30 734.11h9.76v7.76h-9.76zM430.46 741.57h9.76v7.76h-9.76zM439.92 741.57h9.76v7.76h-9.76zM562.90 741.57h9.76v7.76h-9.76zM430.46 749.03h9.76v7.76h-9.76zM439.92 749.03h9.76v7.76h-9.76zM468.30 749.03h9.76v7.76h-9.76zM430.46 756.49h9.76v7.76h-9.76zM439.92 756.49h9.76v7.76h-9.76zM468.30 756.49h9.76v7.76h-9.76zM468.30 763.94h9.76v7.76h-9.76zM468.30 771.40h9.76v7.76h-9.76zM562.90 771.40h9.76v7.76h-9.76zM430.46 778.86h9.76v7.76h-9.76zM468.30 778.86h9.76v7.76h-9.76zM477.76 778.86h9.76v7.76h-9.76zM430.46 786.32h9.76v7.76h-9.76zM477.76 786.32h9.76v7.76h-9.76zM421.00 793.77h9.76v7.76h-9.76zM477.76 793.77h9.76v7.76h-9.76zM430.46 801.23h9.76v7.76h-9.76zM477.76 801.23h9.76v7.76h-9.76zM458.84 808.69h9.76v7.76h-9.76zM477.76 808.69h9.76v7.76h-9.76zM458.84 816.15h9.76v7.76h-9.76zM477.76 816.15h9.76v7.76h-9.76zM562.90 816.15h9.76v7.76h-9.76zM477.76 823.60h9.76v7.76h-9.76zM553.44 823.60h9.76v7.76h-9.76zM449.38 831.06h9.76v7.76h-9.76zM553.44 831.06h9.76v7.76h-9.76zM591.28 831.06h9.76v7.76h-9.76zM468.30 838.52h9.76v7.76h-9.76zM477.76 838.52h9.76v7.76h-9.76zM553.44 838.52h9.76v7.76h-9.76zM591.28 838.52h9.76v7.76h-9.76zM430.46 845.98h9.76v7.76h-9.76zM468.30 845.98h9.76v7.76h-9.76zM477.76 845.98h9.76v7.76h-9.76zM553.44 845.98h9.76v7.76h-9.76zM591.28 845.98h9.76v7.76h-9.76zM468.30 853.44h9.76v7.76h-9.76zM477.76 853.44h9.76v7.76h-9.76zM553.44 853.44h9.76v7.76h-9.76zM553.44 860.89h9.76v7.76h-9.76zM553.44 898.18h9.76v7.76h-9.76zM591.28 898.18h9.76v7.76h-9.76zM591.28 905.64h9.76v7.76h-9.76zM468.30 928.01h9.76v7.76h-9.76zM468.30 935.47h9.76v7.76h-9.76zM421.00 950.38h9.76v7.76h-9.76zM553.44 950.38h9.76v7.76h-9.76zM581.82 950.38h9.76v7.76h-9.76zM591.28 950.38h9.76v7.76h-9.76zM581.82 957.84h9.76v7.76h-9.76zM591.28 957.84h9.76v7.76h-9.76z" fill="#645e00"/>
<path d="M430.46 331.40h9.76v7.76h-9.76zM439.92 331.40h9.76v7.76h-9.76zM449.38 331.40h9.76v7.76h-9.76zM553.44 331.40h9.76v7.76h-9.76zM430.46 338.86h9.76v7.76h-9.76zM553.44 338.86h9.76v7.76h-9.76zM562.90 338.86h9.76v7.76h-9.76zM430.46 346.32h9.76v7.76h-9.76zM439.92 346.32h9.76v7.76h-9.76zM449.38 346.32h9.76v7.76h-9.76zM553.44 346.32h9.76v7.76h-9.76zM430.46 353.77h9.76v7.76h-9.76zM468.30 353.77h9.76v7.76h-9.76zM477.76 353.77h9.76v7.76h-9.76zM553.44 353.77h9.76v7.76h-9.76zM430.46 361.23h9.76v7.76h-9.76zM439.92 361.23h9.76v7.76h-9.76zM477.76 361.23h9.76v7.76h-9.76zM553.44 361.23h9.76v7.76h-9.76zM591.28 361.23h9.76v7.76h-9.76zM430.46 368.69h9.76v7.76h-9.76zM439.92 368.69h9.76v7.76h-9.76zM477.76 368.69h9.76v7.76h-9.76zM553.44 368.69h9.76v7.76h-9.76zM562.90 368.69h9.76v7.76h-9.76zM439.92 376.15h9.76v7.76h-9.76zM468.30 376.15h9.76v7.76h-9.76zM439.92 383.60h9.76v7.76h-9.76zM468.30 383.60h9.76v7.76h-9.76zM477.76 383.60h9.76v7.76h-9.76zM553.44 383.60h9.76v7.76h-9.76zM430.46 391.06h9.76v7.76h-9.76zM553.44 391.06h9.76v7.76h-9.76zM430.46 398.52h9.76v7.76h-9.76zM439.92 398.52h9.76v7.76h-9.76zM468.30 398.52h9.76v7.76h-9.76zM562.90 398.52h9.76v7.76h-9.76zM430.46 405.98h9.76v7.76h-9.76zM468.30 405.98h9.76v7.76h-9.76zM477.76 405.98h9.76v7.76h-9.76zM562.90 405.98h9.76v7.76h-9.76zM430.46 413.43h9.76v7.76h-9.76zM477.76 413.43h9.76v7.76h-9.76zM562.90 413.43h9.76v7.76h-9.76zM430.46 420.89h9.76v7.76h-9.76zM449.38 420.89h9.76v7.76h-9.76zM562.90 420.89h9.76v7.76h-9.76zM430.46 428.35h9.76v7.76h-9.76zM439.92 428.35h9.76v7.76h-9.76zM468.30 428.35h9.76v7.76h-9.76zM430.46 435.81h9.76v7.76h-9.76zM439.92 435.81h9.76v7.76h-9.76zM468.30 435.81h9.76v7.76h-9.76zM477.76 435.81h9.76v7.76h-9.76zM553.44 435.81h9.76v7.76h-9.76zM430.46 443.26h9.76v7.76h-9.76zM439.92 443.26h9.76v7.76h-9.76zM468.30 443.26h9.76v7.76h-9.76zM477.76 443.26h9.76v7.76h-9.76zM430.46 450.72h9.76v7.76h-9.76zM439.92 450.72h9.76v7.76h-9.76zM468.30 450.72h9.76v7.76h-9.76zM430.46 458.18h9.76v7.76h-9.76zM468.30 458.18h9.76v7.76h-9.76zM430.46 465.64h9.76v7.76h-9.76zM468.30 465.64h9.76v7.76h-9.76zM430.46 473.10h9.76v7.76h-9.76zM468.30 473.10h9.76v7.76h-9.76zM468.30 480.55h9.76v7.76h-9.76zM449.38 495.47h9.76v7.76h-9.76zM468.30 502.93h9.76v7.76h-9.76zM477.76 502.93h9.76v7.76h-9.76zM430.46 510.38h9.76v7.76h-9.76zM468.30 510.38h9.76v7.76h-9.76zM477.76 510.38h9.76v7.76h-9.76zM562.90 510.38h9.76v7.76h-9.76zM430.46 517.84h9.76v7.76h-9.76zM449.38 517.84h9.76v7.76h-9.76zM468.30 517.84h9.76v7.76h-9.76zM477.76 517.84h9.76v7.76h-9.76zM430.46 525.30h9.76v7.76h-9.76zM439.92 525.30h9.76v7.76h-9.76zM449.38 525.30h9.76v7.76h-9.76zM439.92 532.76h9.76v7.76h-9.76zM449.38 532.76h9.76v7.76h-9.76zM562.90 532.76h9.76v7.76h-9.76zM430.46 540.21h9.76v7.76h-9.76zM439.92 540.21h9.76v7.76h-9.76zM449.38 540.21h9.76v7.76h-9.76zM468.30 547.67h9.76v7.76h-9.76zM591.28 547.67h9.76v7.76h-9.76zM468.30 555.13h9.76v7.76h-9.76zM591.28 555.13h9.76v7.76h-9.76zM449.38 570.04h9.76v7.76h-9.76zM468.30 570.04h9.76v7.76h-9.76zM430.46 577.50h9.76v7.76h-9.76zM439.92 577.50h9.76v7.76h-9.76zM477.76 577.50h9.76v7.76h-9.76zM591.28 577.50h9.76v7.76h-9.76zM468.30 584.96h9.76v7.76h-9.76zM553.44 584.96h9.76v7.76h-9.76zM449.38 592.42h9.76v7.76h-9.76zM553.44 592.42h9.76v7.76h-9.76zM581.82 592.42h9.76v7.76h-9.76zM439.92 599.88h9.76v7.76h-9.76zM553.44 599.88h9.76v7.76h-9.76zM421.00 614.79h9.76v7.76h-9.76zM449.38 614.79h9.76v7.76h-9.76zM562.90 614.79h9.76v7.76h-9.76zM421.00 622.25h9.76v7.76h-9.76zM458.84 622.25h9.76v7.76h-9.76zM421.00 629.71h9.76v7.76h-9.76zM449.38 629.71h9.76v7.76h-9.76zM449.38 637.16h9.76v7.76h-9.76zM458.84 637.16h9.76v7.76h-9.76zM562.90 637.16h9.76v7.76h-9.76zM421.00 644.62h9.76v7.76h-9.76zM449.38 644.62h9.76v7.76h-9.76zM562.90 644.62h9.76v7.76h-9.76zM449.38 652.08h9.76v7.76h-9.76zM458.84 652.08h9.76v7.76h-9.76zM449.38 666.99h9.76v7.76h-9.76zM562.90 666.99h9.76v7.76h-9.76zM421.00 674.45h9.76v7.76h-9.76zM439.92 674.45h9.76v7.76h-9.76zM449.38 674.45h9.76v7.76h-9.76zM458.84 674.45h9.76v7.76h-9.76zM449.38 681.91h9.76v7.76h-9.76zM458.84 681.91h9.76v7.76h-9.76zM421.00 696.82h9.76v7.76h-9.76zM458.84 696.82h9.76v7.76h-9.76zM449.38 704.28h9.76v7.76h-9.76zM468.30 711.74h9.76v7.76h-9.76zM553.44 711.74h9.76v7.76h-9.76zM421.00 719.20h9.76v7.76h-9.76zM468.30 719.20h9.76v7.76h-9.76zM477.76 719.20h9.76v7.76h-9.76zM449.38 734.11h9.76v7.76h-9.76zM477.76 734.11h9.76v7.76h-9.76zM449.38 741.57h9.76v7.76h-9.76zM468.30 741.57h9.76v7.76h-9.76zM591.28 741.57h9.76v7.76h-9.76zM477.76 749.03h9.76v7.76h-9.76zM553.44 749.03h9.76v7.76h-9.76zM449.38 756.49h9.76v7.76h-9.76zM477.76 756.49h9.76v7.76h-9.76zM553.44 756.49h9.76v7.76h-9.76zM430.46 763.94h9.76v7.76h-9.76zM439.92 763.94h9.76v7.76h-9.76zM449.38 763.94h9.76v7.76h-9.76zM458.84 763.94h9.76v7.76h-9.76zM477.76 763.94h9.76v7.76h-9.76zM553.44 763.94h9.76v7.76h-9.76zM421.00 771.40h9.76v7.76h-9.76zM430.46 771.40h9.76v7.76h-9.76zM439.92 771.40h9.76v7.76h-9.76zM477.76 771.40h9.76v7.76h-9.76zM553.44 771.40h9.76v7.76h-9.76zM591.28 771.40h9.76v7.76h-9.76zM421.00 778.86h9.76v7.76h-9.76zM439.92 778.86h9.76v7.76h-9.76zM449.38 778.86h9.76v7.76h-9.76zM553.44 778.86h9.76v7.76h-9.76zM421.00 786.32h9.76v7.76h-9.76zM439.92 786.32h9.76v7.76h-9.76zM449.38 786.32h9.76v7.76h-9.76zM458.84 786.32h9.76v7.76h-9.76zM553.44 786.32h9.76v7.76h-9.76zM430.46 793.77h9.76v7.76h-9.76zM439.92 793.77h9.76v7.76h-9.76zM449.38 793.77h9.76v7.76h-9.76zM553.44 793.77h9.76v7.76h-9.76zM562.90 793.77h9.76v7.76h-9.76zM421.00 801.23h9.76v7.76h-9.76zM439.92 801.23h9.76v7.76h-9.76zM458.84 801.23h9.76v7.76h-9.76zM553.44 801.23h9.76v7.76h-9.76zM591.28 801.23h9.76v7.76h-9.76zM430.46 808.69h9.76v7.76h-9.76zM449.38 808.69h9.76v7.76h-9.76zM553.44 808.69h9.76v7.76h-9.76zM562.90 808.69h9.76v7.76h-9.76zM421.00 816.15h9.76v7.76h-9.76zM449.38 816.15h9.76v7.76h-9.76zM553.44 816.15h9.76v7.76h-9.76zM591.28 816.15h9.76v7.76h-9.76zM449.38 823.60h9.76v7.76h-9.76zM562.90 823.60h9.76v7.76h-9.76zM591.28 823.60h9.76v7.76h-9.76zM581.82 831.06h9.76v7.76h-9.76zM439.92 838.52h9.76v7.76h-9.76zM449.38 838.52h9.76v7.76h-9.76zM439.92 845.98h9.76v7.76h-9.76zM449.38 845.98h9.76v7.76h-9.76zM562.90 853.44h9.76v7.76h-9.76zM477.76 860.89h9.76v7.76h-9.76zM449.38 868.35h9.76v7.76h-9.76zM553.44 890.72h9.76v7.76h-9.76zM581.82 898.18h9.76v7.76h-9.76zM439.92 905.64h9.76v7.76h-9.76zM553.44 905.64h9.76v7.76h-9.76zM468.30 913.10h9.76v7.76h-9.76zM553.44 913.10h9.76v7.76h-9.76zM430.46 920.55h9.76v7.76h-9.76zM468.30 920.55h9.76v7.76h-9.76zM553.44 920.55h9.76v7.76h-9.76zM591.28 920.55h9.76v7.76h-9.76zM553.44 928.01h9.76v7.76h-9.76zM581.82 928.01h9.76v7.76h-9.76zM591.28 928.01h9.76v7.76h-9.76zM430.46 935.47h9.76v7.76h-9.76zM449.38 935.47h9.76v7.76h-9.76zM430.46 942.93h9.76v7.76h-9.76zM439.92 942.93h9.76v7.76h-9.76zM581.82 942.93h9.76v7.76h-9.76z" fill="#423e00"/>
<path d="M458.84 331.40h9.76v7.76h-9.76zM591.28 331.40h9.76v7.76h-9.76zM449.38 338.86h9.76v7.76h-9.76zM458.84 338.86h9.76v7.76h-9.76zM591.28 338.86h9.76v7.76h-9.76zM458.84 346.32h9.76v7.76h-9.76zM591.28 346.32h9.76v7.76h-9.76zM449.38 353.77h9.76v7.76h-9.76zM458.84 353.77h9.76v7.76h-9.76zM591.28 353.77h9.76v7.76h-9.76zM449.38 361.23h9.76v7.76h-9.76zM458.84 361.23h9.76v7.76h-9.76zM449.38 368.69h9.76v7.76h-9.76zM591.28 368.69h9.76v7.76h-9.76zM430.46 376.15h9.76v7.76h-9.76zM449.38 376.15h9.76v7.76h-9.76zM458.84 376.15h9.76v7.76h-9.76zM553.44 376.15h9.76v7.76h-9.76zM430.46 383.60h9.76v7.76h-9.76zM449.38 383.60h9.76v7.76h-9.76zM458.84 383.60h9.76v7.76h-9.76zM591.28 383.60h9.76v7.76h-9.76zM439.92 391.06h9.76v7.76h-9.76zM449.38 391.06h9.76v7.76h-9.76zM458.84 391.06h9.76v7.76h-9.76zM449.38 398.52h9.76v7.76h-9.76zM477.76 398.52h9.76v7.76h-9.76zM439.92 405.98h9.76v7.76h-9.76zM449.38 405.98h9.76v7.76h-9.76zM591.28 405.98h9.76v7.76h-9.76zM449.38 413.43h9.76v7.76h-9.76zM458.84 420.89h9.76v7.76h-9.76zM553.44 420.89h9.76v7.76h-9.76zM449.38 428.35h9.76v7.76h-9.76zM477.76 428.35h9.76v7.76h-9.76zM553.44 428.35h9.76v7.76h-9.76zM449.38 435.81h9.76v7.76h-9.76zM458.84 435.81h9.76v7.76h-9.76zM449.38 443.26h9.76v7.76h-9.76zM458.84 443.26h9.76v7.76h-9.76zM553.44 443.26h9.76v7.76h-9.76zM477.76 450.72h9.76v7.76h-9.76zM553.44 450.72h9.76v7.76h-9.76zM591.28 450.72h9.76v7.76h-9.76zM449.38 458.18h9.76v7.76h-9.76zM477.76 458.18h9.76v7.76h-9.76zM553.44 458.18h9.76v7.76h-9.76zM591.28 458.18h9.76v7.76h-9.76zM449.38 465.64h9.76v7.76h-9.76zM477.76 465.64h9.76v7.76h-9.76zM553.44 465.64h9.76v7.76h-9.76zM449.38 473.10h9.76v7.76h-9.76zM477.76 473.10h9.76v7.76h-9.76zM553.44 473.10h9.76v7.76h-9.76zM449.38 480.55h9.76v7.76h-9.76zM477.76 480.55h9.76v7.76h-9.76zM449.38 488.01h9.76v7.76h-9.76zM458.84 488.01h9.76v7.76h-9.76zM562.90 488.01h9.76v7.76h-9.76zM458.84 495.47h9.76v7.76h-9.76zM562.90 495.47h9.76v7.76h-9.76zM458.84 502.93h9.76v7.76h-9.76zM562.90 502.93h9.76v7.76h-9.76zM449.38 510.38h9.76v7.76h-9.76zM553.44 510.38h9.76v7.76h-9.76zM591.28 510.38h9.76v7.76h-9.76zM458.84 517.84h9.76v7.76h-9.76zM562.90 517.84h9.76v7.76h-9.76zM581.82 517.84h9.76v7.76h-9.76zM458.84 525.30h9.76v7.76h-9.76zM562.90 525.30h9.76v7.76h-9.76zM430.46 532.76h9.76v7.76h-9.76zM458.84 532.76h9.76v7.76h-9.76zM553.44 532.76h9.76v7.76h-9.76zM458.84 540.21h9.76v7.76h-9.76zM553.44 540.21h9.76v7.76h-9.76zM562.90 540.21h9.76v7.76h-9.76zM581.82 540.21h9.76v7.76h-9.76zM458.84 547.67h9.76v7.76h-9.76zM553.44 547.67h9.76v7.76h-9.76zM430.46 555.13h9.76v7.76h-9.76zM439.92 555.13h9.76v7.76h-9.76zM449.38 555.13h9.76v7.76h-9.76zM553.44 555.13h9.76v7.76h-9.76zM430.46 562.59h9.76v7.76h-9.76zM439.92 562.59h9.76v7.76h-9.76zM468.30 562.59h9.76v7.76h-9.76zM477.76 562.59h9.76v7.76h-9.76zM553.44 562.59h9.76v7.76h-9.76zM439.92 570.04h9.76v7.76h-9.76zM477.76 570.04h9.76v7.76h-9.76zM553.44 570.04h9.76v7.76h-9.76zM591.28 570.04h9.76v7.76h-9.76zM449.38 577.50h9.76v7.76h-9.76zM468.30 577.50h9.76v7.76h-9.76zM581.82 577.50h9.76v7.76h-9.76zM430.46 584.96h9.76v7.76h-9.76zM449.38 584.96h9.76v7.76h-9.76zM477.76 584.96h9.76v7.76h-9.76zM581.82 584.96h9.76v7.76h-9.76zM591.28 584.96h9.76v7.76h-9.76zM430.46 592.42h9.76v7.76h-9.76zM439.92 592.42h9.76v7.76h-9.76zM458.84 592.42h9.76v7.76h-9.76zM468.30 592.42h9.76v7.76h-9.76zM591.28 592.42h9.76v7.76h-9.76zM430.46 599.88h9.76v7.76h-9.76zM449.38 599.88h9.76v7.76h-9.76zM468.30 599.88h9.76v7.76h-9.76zM449.38 607.33h9.76v7.76h-9.76zM458.84 607.33h9.76v7.76h-9.76zM468.30 607.33h9.76v7.76h-9.76zM581.82 607.33h9.76v7.76h-9.76zM458.84 614.79h9.76v7.76h-9.76zM553.44 614.79h9.76v7.76h-9.76zM553.44 622.25h9.76v7.76h-9.76zM562.90 622.25h9.76v7.76h-9.76zM458.84 629.71h9.76v7.76h-9.76zM553.44 629.71h9.76v7.76h-9.76zM562.90 629.71h9.76v7.76h-9.76zM421.00 637.16h9.76v7.76h-9.76zM458.84 644.62h9.76v7.76h-9.76zM553.44 644.62h9.76v7.76h-9.76zM591.28 644.62h9.76v7.76h-9.76zM553.44 652.08h9.76v7.76h-9.76zM562.90 652.08h9.76v7.76h-9.76zM421.00 659.54h9.76v7.76h-9.76zM449.38 659.54h9.76v7.76h-9.76zM458.84 659.54h9.76v7.76h-9.76zM553.44 659.54h9.76v7.76h-9.76zM562.90 659.54h9.76v7.76h-9.76zM591.28 659.54h9.76v7.76h-9.76zM458.84 666.99h9.76v7.76h-9.76zM581.82 666.99h9.76v7.76h-9.76zM553.44 674.45h9.76v7.76h-9.76zM421.00 681.91h9.76v7.76h-9.76zM553.44 681.91h9.76v7.76h-9.76zM421.00 689.37h9.76v7.76h-9.76zM458.84 689.37h9.76v7.76h-9.76zM553.44 689.37h9.76v7.76h-9.76zM553.44 696.82h9.76v7.76h-9.76zM458.84 704.28h9.76v7.76h-9.76zM458.84 711.74h9.76v7.76h-9.76zM562.90 711.74h9.76v7.76h-9.76zM449.38 719.20h9.76v7.76h-9.76zM458.84 719.20h9.76v7.76h-9.76zM562.90 719.20h9.76v7.76h-9.76zM581.82 719.20h9.76v7.76h-9.76zM421.00 726.66h9.76v7.76h-9.76zM562.90 726.66h9.76v7.76h-9.76zM458.84 734.11h9.76v7.76h-9.76zM553.44 734.11h9.76v7.76h-9.76zM458.84 741.57h9.76v7.76h-9.76zM477.76 741.57h9.76v7.76h-9.76zM421.00 749.03h9.76v7.76h-9.76zM449.38 749.03h9.76v7.76h-9.76zM458.84 749.03h9.76v7.76h-9.76zM591.28 749.03h9.76v7.76h-9.76zM458.84 756.49h9.76v7.76h-9.76zM591.28 756.49h9.76v7.76h-9.76zM421.00 763.94h9.76v7.76h-9.76zM581.82 763.94h9.76v7.76h-9.76zM591.28 763.94h9.76v7.76h-9.76zM449.38 771.40h9.76v7.76h-9.76zM458.84 771.40h9.76v7.76h-9.76zM458.84 778.86h9.76v7.76h-9.76zM562.90 778.86h9.76v7.76h-9.76zM562.90 786.32h9.76v7.76h-9.76zM458.84 793.77h9.76v7.76h-9.76zM591.28 793.77h9.76v7.76h-9.76zM449.38 801.23h9.76v7.76h-9.76zM562.90 801.23h9.76v7.76h-9.76zM421.00 808.69h9.76v7.76h-9.76zM439.92 808.69h9.76v7.76h-9.76zM591.28 808.69h9.76v7.76h-9.76zM430.46 823.60h9.76v7.76h-9.76zM439.92 823.60h9.76v7.76h-9.76zM458.84 823.60h9.76v7.76h-9.76zM430.46 831.06h9.76v7.76h-9.76zM439.92 831.06h9.76v7.76h-9.76zM458.84 831.06h9.76v7.76h-9.76zM468.30 831.06h9.76v7.76h-9.76zM477.76 831.06h9.76v7.76h-9.76zM572.36 831.06h9.76v7.76h-9.76zM421.00 838.52h9.76v7.76h-9.76zM430.46 838.52h9.76v7.76h-9.76zM458.84 838.52h9.76v7.76h-9.76zM581.82 838.52h9.76v7.76h-9.76zM458.84 845.98h9.76v7.76h-9.76zM562.90 845.98h9.76v7.76h-9.76zM430.46 853.44h9.76v7.76h-9.76zM581.82 853.44h9.76v7.76h-9.76zM562.90 860.89h9.76v7.76h-9.76zM581.82 860.89h9.76v7.76h-9.76zM430.46 868.35h9.76v7.76h-9.76zM477.76 868.35h9.76v7.76h-9.76zM591.28 868.35h9.76v7.76h-9.76zM430.46 875.81h9.76v7.76h-9.76zM468.30 875.81h9.76v7.76h-9.76zM581.82 875.81h9.76v7.76h-9.76zM468.30 883.27h9.76v7.76h-9.76zM581.82 883.27h9.76v7.76h-9.76zM430.46 890.72h9.76v7.76h-9.76zM468.30 890.72h9.76v7.76h-9.76zM581.82 890.72h9.76v7.76h-9.76zM421.00 898.18h9.76v7.76h-9.76zM430.46 898.18h9.76v7.76h-9.76zM439.92 898.18h9.76v7.76h-9.76zM449.38 898.18h9.76v7.76h-9.76zM468.30 898.18h9.76v7.76h-9.76zM477.76 898.18h9.76v7.76h-9.76zM430.46 905.64h9.76v7.76h-9.76zM449.38 905.64h9.76v7.76h-9.76zM468.30 905.64h9.76v7.76h-9.76zM477.76 905.64h9.76v7.76h-9.76zM581.82 905.64h9.76v7.76h-9.76zM421.00 913.10h9.76v7.76h-9.76zM430.46 913.10h9.76v7.76h-9.76zM439.92 913.10h9.76v7.76h-9.76zM449.38 913.10h9.76v7.76h-9.76zM477.76 913.10h9.76v7.76h-9.76zM591.28 913.10h9.76v7.76h-9.76zM477.76 920.55h9.76v7.76h-9.76zM487.22 920.55h9.76v7.76h-9.76zM430.46 928.01h9.76v7.76h-9.76zM439.92 928.01h9.76v7.76h-9.76zM449.38 928.01h9.76v7.76h-9.76zM421.00 935.47h9.76v7.76h-9.76zM439.92 935.47h9.76v7.76h-9.76zM553.44 935.47h9.76v7.76h-9.76zM581.82 935.47h9.76v7.76h-9.76zM591.28 935.47h9.76v7.76h-9.76zM421.00 942.93h9.76v7.76h-9.76zM553.44 942.93h9.76v7.76h-9.76zM591.28 942.93h9.76v7.76h-9.76zM439.92 950.38h9.76v7.76h-9.76zM487.22 957.84h9.76v7.76h-9.76zM534.52 957.84h9.76v7.76h-9.76zM553.44 957.84h9.76v7.76h-9.76zM572.36 957.84h9.76v7.76h-9.76z" fill="#242200"/>
<path d="M487.22 331.40h9.76v7.76h-9.76zM496.68 331.40h9.76v7.76h-9.76zM534.52 331.40h9.76v7.76h-9.76zM543.98 331.40h9.76v7.76h-9.76zM572.36 331.40h9.76v7.76h-9.76zM487.22 338.86h9.76v7.76h-9.76zM496.68 338.86h9.76v7.76h-9.76zM534.52 338.86h9.76v7.76h-9.76zM543.98 338.86h9.76v7.76h-9.76zM487.22 346.32h9.76v7.76h-9.76zM496.68 346.32h9.76v7.76h-9.76zM534.52 346.32h9.76v7.76h-9.76zM487.22 353.77h9.76v7.76h-9.76zM496.68 353.77h9.76v7.76h-9.76zM534.52 353.77h9.76v7.76h-9.76zM496.68 361.23h9.76v7.76h-9.76zM572.36 361.23h9.76v7.76h-9.76zM487.22 368.69h9.76v7.76h-9.76zM496.68 368.69h9.76v7.76h-9.76zM534.52 368.69h9.76v7.76h-9.76zM572.36 368.69h9.76v7.76h-9.76zM487.22 376.15h9.76v7.76h-9.76zM496.68 376.15h9.76v7.76h-9.76zM534.52 376.15h9.76v7.76h-9.76zM543.98 376.15h9.76v7.76h-9.76zM572.36 376.15h9.76v7.76h-9.76zM487.22 383.60h9.76v7.76h-9.76zM496.68 383.60h9.76v7.76h-9.76zM534.52 383.60h9.76v7.76h-9.76zM543.98 383.60h9.76v7.76h-9.76zM572.36 383.60h9.76v7.76h-9.76zM496.68 391.06h9.76v7.76h-9.76zM534.52 391.06h9.76v7.76h-9.76zM572.36 391.06h9.76v7.76h-9.76zM487.22 398.52h9.76v7.76h-9.76zM534.52 398.52h9.76v7.76h-9.76zM487.22 405.98h9.76v7.76h-9.76zM496.68 405.98h9.76v7.76h-9.76zM534.52 405.98h9.76v7.76h-9.76zM487.22 413.43h9.76v7.76h-9.76zM496.68 413.43h9.76v7.76h-9.76zM543.98 413.43h9.76v7.76h-9.76zM572.36 413.43h9.76v7.76h-9.76zM487.22 420.89h9.76v7.76h-9.76zM496.68 420.89h9.76v7.76h-9.76zM534.52 420.89h9.76v7.76h-9.76zM543.98 420.89h9.76v7.76h-9.76zM572.36 420.89h9.76v7.76h-9.76zM487.22 428.35h9.76v7.76h-9.76zM496.68 428.35h9.76v7.76h-9.76zM534.52 428.35h9.76v7.76h-9.76zM543.98 428.35h9.76v7.76h-9.76zM572.36 428.35h9.76v7.76h-9.76zM487.22 435.81h9.76v7.76h-9.76zM496.68 435.81h9.76v7.76h-9.76zM543.98 435.81h9.76v7.76h-9.76zM572.36 435.81h9.76v7.76h-9.76zM487.22 443.26h9.76v7.76h-9.76zM496.68 443.26h9.76v7.76h-9.76zM534.52 443.26h9.76v7.76h-9.76zM572.36 443.26h9.76v7.76h-9.76zM487.22 450.72h9.76v7.76h-9.76zM496.68 450.72h9.76v7.76h-9.76zM572.36 450.72h9.76v7.76h-9.76zM487.22 458.18h9.76v7.76h-9.76zM534.52 458.18h9.76v7.76h-9.76zM487.22 465.64h9.76v7.76h-9.76zM496.68 465.64h9.76v7.76h-9.76zM572.36 465.64h9.76v7.76h-9.76zM487.22 473.10h9.76v7.76h-9.76zM534.52 473.10h9.76v7.76h-9.76zM487.22 480.55h9.76v7.76h-9.76zM496.68 480.55h9.76v7.76h-9.76zM534.52 480.55h9.76v7.76h-9.76zM572.36 480.55h9.76v7.76h-9.76zM496.68 488.01h9.76v7.76h-9.76zM534.52 488.01h9.76v7.76h-9.76zM543.98 488.01h9.76v7.76h-9.76zM581.82 488.01h9.76v7.76h-9.76zM534.52 495.47h9.76v7.76h-9.76zM543.98 495.47h9.76v7.76h-9.76zM534.52 502.93h9.76v7.76h-9.76zM572.36 502.93h9.76v7.76h-9.76zM591.28 502.93h9.76v7.76h-9.76zM496.68 510.38h9.76v7.76h-9.76zM534.52 510.38h9.76v7.76h-9.76zM543.98 510.38h9.76v7.76h-9.76zM572.36 510.38h9.76v7.76h-9.76zM496.68 517.84h9.76v7.76h-9.76zM543.98 517.84h9.76v7.76h-9.76zM572.36 517.84h9.76v7.76h-9.76zM496.68 525.30h9.76v7.76h-9.76zM515.60 525.30h9.76v7.76h-9.76zM543.98 525.30h9.76v7.76h-9.76zM572.36 525.30h9.76v7.76h-9.76zM591.28 525.30h9.76v7.76h-9.76zM534.52 532.76h9.76v7.76h-9.76zM543.98 532.76h9.76v7.76h-9.76zM572.36 532.76h9.76v7.76h-9.76zM534.52 540.21h9.76v7.76h-9.76zM572.36 540.21h9.76v7.76h-9.76zM591.28 540.21h9.76v7.76h-9.76zM496.68 547.67h9.76v7.76h-9.76zM572.36 547.67h9.76v7.76h-9.76zM496.68 555.13h9.76v7.76h-9.76zM487.22 562.59h9.76v7.76h-9.76zM496.68 562.59h9.76v7.76h-9.76zM534.52 562.59h9.76v7.76h-9.76zM572.36 562.59h9.76v7.76h-9.76zM487.22 570.04h9.76v7.76h-9.76zM496.68 570.04h9.76v7.76h-9.76zM515.60 570.04h9.76v7.76h-9.76zM534.52 570.04h9.76v7.76h-9.76zM572.36 570.04h9.76v7.76h-9.76zM496.68 577.50h9.76v7.76h-9.76zM534.52 577.50h9.76v7.76h-9.76zM487.22 584.96h9.76v7.76h-9.76zM572.36 584.96h9.76v7.76h-9.76zM487.22 592.42h9.76v7.76h-9.76zM543.98 592.42h9.76v7.76h-9.76zM515.60 599.88h9.76v7.76h-9.76zM534.52 599.88h9.76v7.76h-9.76zM496.68 607.33h9.76v7.76h-9.76zM525.06 607.33h9.76v7.76h-9.76zM496.68 614.79h9.76v7.76h-9.76zM543.98 614.79h9.76v7.76h-9.76zM496.68 622.25h9.76v7.76h-9.76zM534.52 622.25h9.76v7.76h-9.76zM543.98 622.25h9.76v7.76h-9.76zM496.68 629.71h9.76v7.76h-9.76zM543.98 629.71h9.76v7.76h-9.76zM572.36 629.71h9.76v7.76h-9.76zM487.22 637.16h9.76v7.76h-9.76zM496.68 637.16h9.76v7.76h-9.76zM543.98 637.16h9.76v7.76h-9.76zM572.36 637.16h9.76v7.76h-9.76zM487.22 644.62h9.76v7.76h-9.76zM496.68 644.62h9.76v7.76h-9.76zM543.98 644.62h9.76v7.76h-9.76zM572.36 644.62h9.76v7.76h-9.76zM496.68 652.08h9.76v7.76h-9.76zM572.36 652.08h9.76v7.76h-9.76zM496.68 659.54h9.76v7.76h-9.76zM572.36 659.54h9.76v7.76h-9.76zM487.22 666.99h9.76v7.76h-9.76zM496.68 666.99h9.76v7.76h-9.76zM572.36 666.99h9.76v7.76h-9.76zM496.68 674.45h9.76v7.76h-9.76zM534.52 674.45h9.76v7.76h-9.76zM543.98 674.45h9.76v7.76h-9.76zM572.36 674.45h9.76v7.76h-9.76zM496.68 681.91h9.76v7.76h-9.76zM543.98 681.91h9.76v7.76h-9.76zM572.36 681.91h9.76v7.76h-9.76zM515.60 689.37h9.76v7.76h-9.76zM534.52 689.37h9.76v7.76h-9.76zM543.98 689.37h9.76v7.76h-9.76zM572.36 689.37h9.76v7.76h-9.76zM496.68 696.82h9.76v7.76h-9.76zM515.60 696.82h9.76v7.76h-9.76zM525.06 696.82h9.76v7.76h-9.76zM534.52 696.82h9.76v7.76h-9.76zM543.98 696.82h9.76v7.76h-9.76zM572.36 696.82h9.76v7.76h-9.76zM543.98 704.28h9.76v7.76h-9.76zM572.36 704.28h9.76v7.76h-9.76zM496.68 711.74h9.76v7.76h-9.76zM534.52 711.74h9.76v7.76h-9.76zM581.82 711.74h9.76v7.76h-9.76zM534.52 719.20h9.76v7.76h-9.76zM534.52 726.66h9.76v7.76h-9.76zM543.98 726.66h9.76v7.76h-9.76zM581.82 726.66h9.76v7.76h-9.76zM591.28 726.66h9.76v7.76h-9.76zM496.68 734.11h9.76v7.76h-9.76zM525.06 734.11h9.76v7.76h-9.76zM534.52 734.11h9.76v7.76h-9.76zM543.98 734.11h9.76v7.76h-9.76zM572.36 734.11h9.76v7.76h-9.76zM487.22 741.57h9.76v7.76h-9.76zM496.68 741.57h9.76v7.76h-9.76zM534.52 741.57h9.76v7.76h-9.76zM496.68 749.03h9.76v7.76h-9.76zM534.52 749.03h9.76v7.76h-9.76zM487.22 756.49h9.76v7.76h-9.76zM496.68 756.49h9.76v7.76h-9.76zM534.52 756.49h9.76v7.76h-9.76zM487.22 763.94h9.76v7.76h-9.76zM496.68 763.94h9.76v7.76h-9.76zM534.52 763.94h9.76v7.76h-9.76zM572.36 763.94h9.76v7.76h-9.76zM487.22 771.40h9.76v7.76h-9.76zM496.68 771.40h9.76v7.76h-9.76zM534.52 771.40h9.76v7.76h-9.76zM496.68 778.86h9.76v7.76h-9.76zM534.52 778.86h9.76v7.76h-9.76zM543.98 778.86h9.76v7.76h-9.76zM572.36 778.86h9.76v7.76h-9.76zM496.68 786.32h9.76v7.76h-9.76zM534.52 786.32h9.76v7.76h-9.76zM543.98 786.32h9.76v7.76h-9.76zM572.36 786.32h9.76v7.76h-9.76zM543.98 793.77h9.76v7.76h-9.76zM487.22 801.23h9.76v7.76h-9.76zM496.68 801.23h9.76v7.76h-9.76zM543.98 801.23h9.76v7.76h-9.76zM572.36 801.23h9.76v7.76h-9.76zM487.22 808.69h9.76v7.76h-9.76zM496.68 808.69h9.76v7.76h-9.76zM572.36 808.69h9.76v7.76h-9.76zM581.82 808.69h9.76v7.76h-9.76zM487.22 816.15h9.76v7.76h-9.76zM534.52 816.15h9.76v7.76h-9.76zM543.98 816.15h9.76v7.76h-9.76zM572.36 816.15h9.76v7.76h-9.76zM496.68 823.60h9.76v7.76h-9.76zM534.52 823.60h9.76v7.76h-9.76zM543.98 823.60h9.76v7.76h-9.76zM543.98 831.06h9.76v7.76h-9.76zM496.68 838.52h9.76v7.76h-9.76zM534.52 838.52h9.76v7.76h-9.76zM543.98 838.52h9.76v7.76h-9.76zM487.22 845.98h9.76v7.76h-9.76zM496.68 845.98h9.76v7.76h-9.76zM525.06 845.98h9.76v7.76h-9.76zM534.52 845.98h9.76v7.76h-9.76zM458.84 853.44h9.76v7.76h-9.76zM487.22 853.44h9.76v7.76h-9.76zM496.68 853.44h9.76v7.76h-9.76zM525.06 853.44h9.76v7.76h-9.76zM543.98 853.44h9.76v7.76h-9.76zM572.36 853.44h9.76v7.76h-9.76zM421.00 860.89h9.76v7.76h-9.76zM506.14 860.89h9.76v7.76h-9.76zM515.60 860.89h9.76v7.76h-9.76zM525.06 860.89h9.76v7.76h-9.76zM534.52 860.89h9.76v7.76h-9.76zM421.00 868.35h9.76v7.76h-9.76zM496.68 868.35h9.76v7.76h-9.76zM525.06 868.35h9.76v7.76h-9.76zM421.00 875.81h9.76v7.76h-9.76zM525.06 875.81h9.76v7.76h-9.76zM543.98 875.81h9.76v7.76h-9.76zM572.36 875.81h9.76v7.76h-9.76zM534.52 883.27h9.76v7.76h-9.76zM543.98 883.27h9.76v7.76h-9.76zM572.36 883.27h9.76v7.76h-9.76zM439.92 890.72h9.76v7.76h-9.76zM458.84 890.72h9.76v7.76h-9.76zM506.14 890.72h9.76v7.76h-9.76zM515.60 890.72h9.76v7.76h-9.76zM525.06 890.72h9.76v7.76h-9.76zM534.52 890.72h9.76v7.76h-9.76zM487.22 898.18h9.76v7.76h-9.76zM496.68 898.18h9.76v7.76h-9.76zM534.52 898.18h9.76v7.76h-9.76zM543.98 898.18h9.76v7.76h-9.76zM572.36 898.18h9.76v7.76h-9.76zM487.22 905.64h9.76v7.76h-9.76zM534.52 905.64h9.76v7.76h-9.76zM543.98 905.64h9.76v7.76h-9.76zM572.36 905.64h9.76v7.76h-9.76zM543.98 913.10h9.76v7.76h-9.76zM572.36 913.10h9.76v7.76h-9.76zM515.60 920.55h9.76v7.76h-9.76zM525.06 920.55h9.76v7.76h-9.76zM534.52 920.55h9.76v7.76h-9.76zM496.68 928.01h9.76v7.76h-9.76zM525.06 928.01h9.76v7.76h-9.76zM534.52 928.01h9.76v7.76h-9.76zM572.36 928.01h9.76v7.76h-9.76zM534.52 935.47h9.76v7.76h-9.76zM572.36 935.47h9.76v7.76h-9.76zM458.84 942.93h9.76v7.76h-9.76zM487.22 942.93h9.76v7.76h-9.76zM496.68 942.93h9.76v7.76h-9.76zM506.14 942.93h9.76v7.76h-9.76zM525.06 942.93h9.76v7.76h-9.76zM543.98 942.93h9.76v7.76h-9.76zM572.36 942.93h9.76v7.76h-9.76zM458.84 950.38h9.76v7.76h-9.76zM487.22 950.38h9.76v7.76h-9.76zM496.68 950.38h9.76v7.76h-9.76zM515.60 950.38h9.76v7.76h-9.76zM525.06 950.38h9.76v7.76h-9.76zM534.52 950.38h9.76v7.76h-9.76zM543.98 950.38h9.76v7.76h-9.76zM572.36 950.38h9.76v7.76h-9.76zM430.46 957.84h9.76v7.76h-9.76zM449.38 957.84h9.76v7.76h-9.76zM458.84 957.84h9.76v7.76h-9.76zM477.76 957.84h9.76v7.76h-9.76zM543.98 957.84h9.76v7.76h-9.76z" fill="#3a004c"/>
<path d="M506.14 331.40h9.76v7.76h-9.76zM525.06 331.40h9.76v7.76h-9.76zM506.14 338.86h9.76v7.76h-9.76zM525.06 338.86h9.76v7.76h-9.76zM506.14 353.77h9.76v7.76h-9.76zM506.14 361.23h9.76v7.76h-9.76zM525.06 361.23h9.76v7.76h-9.76zM506.14 368.69h9.76v7.76h-9.76zM506.14 376.15h9.76v7.76h-9.76zM525.06 376.15h9.76v7.76h-9.76zM506.14 383.60h9.76v7.76h-9.76zM506.14 391.06h9.76v7.76h-9.76zM506.14 398.52h9.76v7.76h-9.76zM525.06 398.52h9.76v7.76h-9.76zM506.14 405.98h9.76v7.76h-9.76zM506.14 413.43h9.76v7.76h-9.76zM525.06 413.43h9.76v7.76h-9.76zM506.14 420.89h9.76v7.76h-9.76zM525.06 420.89h9.76v7.76h-9.76zM506.14 428.35h9.76v7.76h-9.76zM525.06 435.81h9.76v7.76h-9.76zM525.06 443.26h9.76v7.76h-9.76zM506.14 450.72h9.76v7.76h-9.76zM525.06 450.72h9.76v7.76h-9.76zM506.14 458.18h9.76v7.76h-9.76zM525.06 458.18h9.76v7.76h-9.76zM506.14 465.64h9.76v7.76h-9.76zM525.06 465.64h9.76v7.76h-9.76zM506.14 473.10h9.76v7.76h-9.76zM506.14 480.55h9.76v7.76h-9.76zM506.14 488.01h9.76v7.76h-9.76zM525.06 488.01h9.76v7.76h-9.76zM506.14 495.47h9.76v7.76h-9.76zM525.06 495.47h9.76v7.76h-9.76zM506.14 502.93h9.76v7.76h-9.76zM525.06 502.93h9.76v7.76h-9.76zM525.06 510.38h9.76v7.76h-9.76zM506.14 525.30h9.76v7.76h-9.76zM525.06 532.76h9.76v7.76h-9.76zM487.22 540.21h9.76v7.76h-9.76zM506.14 540.21h9.76v7.76h-9.76zM525.06 540.21h9.76v7.76h-9.76zM506.14 547.67h9.76v7.76h-9.76zM525.06 547.67h9.76v7.76h-9.76zM543.98 547.67h9.76v7.76h-9.76zM525.06 555.13h9.76v7.76h-9.76zM506.14 562.59h9.76v7.76h-9.76zM506.14 570.04h9.76v7.76h-9.76zM506.14 577.50h9.76v7.76h-9.76zM525.06 584.96h9.76v7.76h-9.76zM515.60 592.42h9.76v7.76h-9.76zM525.06 592.42h9.76v7.76h-9.76zM506.14 607.33h9.76v7.76h-9.76zM534.52 607.33h9.76v7.76h-9.76zM506.14 614.79h9.76v7.76h-9.76zM525.06 614.79h9.76v7.76h-9.76zM506.14 622.25h9.76v7.76h-9.76zM525.06 622.25h9.76v7.76h-9.76zM506.14 629.71h9.76v7.76h-9.76zM506.14 637.16h9.76v7.76h-9.76zM525.06 637.16h9.76v7.76h-9.76zM506.14 644.62h9.76v7.76h-9.76zM525.06 644.62h9.76v7.76h-9.76zM506.14 652.08h9.76v7.76h-9.76zM506.14 659.54h9.76v7.76h-9.76zM506.14 666.99h9.76v7.76h-9.76zM506.14 674.45h9.76v7.76h-9.76zM506.14 681.91h9.76v7.76h-9.76zM487.22 696.82h9.76v7.76h-9.76zM506.14 719.20h9.76v7.76h-9.76zM506.14 741.57h9.76v7.76h-9.76zM572.36 741.57h9.76v7.76h-9.76zM506.14 749.03h9.76v7.76h-9.76zM506.14 756.49h9.76v7.76h-9.76zM525.06 756.49h9.76v7.76h-9.76zM525.06 763.94h9.76v7.76h-9.76zM525.06 771.40h9.76v7.76h-9.76zM506.14 778.86h9.76v7.76h-9.76zM506.14 786.32h9.76v7.76h-9.76zM506.14 793.77h9.76v7.76h-9.76zM506.14 801.23h9.76v7.76h-9.76zM525.06 801.23h9.76v7.76h-9.76zM506.14 808.69h9.76v7.76h-9.76zM506.14 816.15h9.76v7.76h-9.76zM525.06 816.15h9.76v7.76h-9.76zM506.14 823.60h9.76v7.76h-9.76zM487.22 831.06h9.76v7.76h-9.76zM487.22 838.52h9.76v7.76h-9.76zM572.36 845.98h9.76v7.76h-9.76zM515.60 853.44h9.76v7.76h-9.76zM496.68 860.89h9.76v7.76h-9.76zM487.22 868.35h9.76v7.76h-9.76zM506.14 898.18h9.76v7.76h-9.76zM525.06 898.18h9.76v7.76h-9.76zM506.14 905.64h9.76v7.76h-9.76zM525.06 913.10h9.76v7.76h-9.76zM487.22 928.01h9.76v7.76h-9.76zM525.06 935.47h9.76v7.76h-9.76zM506.14 950.38h9.76v7.76h-9.76zM421.00 957.84h9.76v7.76h-9.76z" fill="#7a0098"/>
<path d="M515.60 331.40h9.76v7.76h-9.76zM515.60 338.86h9.76v7.76h-9.76zM572.36 338.86h9.76v7.76h-9.76zM515.60 346.32h9.76v7.76h-9.76zM525.06 346.32h9.76v7.76h-9.76zM543.98 346.32h9.76v7.76h-9.76zM572.36 346.32h9.76v7.76h-9.76zM515.60 353.77h9.76v7.76h-9.76zM525.06 353.77h9.76v7.76h-9.76zM543.98 353.77h9.76v7.76h-9.76zM572.36 353.77h9.76v7.76h-9.76zM515.60 361.23h9.76v7.76h-9.76zM543.98 361.23h9.76v7.76h-9.76zM515.60 368.69h9.76v7.76h-9.76zM525.06 368.69h9.76v7.76h-9.76zM543.98 368.69h9.76v7.76h-9.76zM515.60 376.15h9.76v7.76h-9.76zM515.60 383.60h9.76v7.76h-9.76zM525.06 383.60h9.76v7.76h-9.76zM515.60 391.06h9.76v7.76h-9.76zM525.06 391.06h9.76v7.76h-9.76zM543.98 391.06h9.76v7.76h-9.76zM515.60 398.52h9.76v7.76h-9.76zM515.60 405.98h9.76v7.76h-9.76zM525.06 405.98h9.76v7.76h-9.76zM515.60 413.43h9.76v7.76h-9.76zM515.60 420.89h9.76v7.76h-9.76zM515.60 428.35h9.76v7.76h-9.76zM525.06 428.35h9.76v7.76h-9.76zM515.60 435.81h9.76v7.76h-9.76zM515.60 443.26h9.76v7.76h-9.76zM543.98 443.26h9.76v7.76h-9.76zM515.60 450.72h9.76v7.76h-9.76zM543.98 450.72h9.76v7.76h-9.76zM496.68 458.18h9.76v7.76h-9.76zM515.60 458.18h9.76v7.76h-9.76zM543.98 458.18h9.76v7.76h-9.76zM572.36 458.18h9.76v7.76h-9.76zM515.60 465.64h9.76v7.76h-9.76zM543.98 465.64h9.76v7.76h-9.76zM496.68 473.10h9.76v7.76h-9.76zM515.60 473.10h9.76v7.76h-9.76zM525.06 473.10h9.76v7.76h-9.76zM543.98 473.10h9.76v7.76h-9.76zM572.36 473.10h9.76v7.76h-9.76zM515.60 480.55h9.76v7.76h-9.76zM525.06 480.55h9.76v7.76h-9.76zM543.98 480.55h9.76v7.76h-9.76zM487.22 488.01h9.76v7.76h-9.76zM515.60 488.01h9.76v7.76h-9.76zM572.36 488.01h9.76v7.76h-9.76zM487.22 495.47h9.76v7.76h-9.76zM515.60 495.47h9.76v7.76h-9.76zM572.36 495.47h9.76v7.76h-9.76zM487.22 502.93h9.76v7.76h-9.76zM515.60 502.93h9.76v7.76h-9.76zM543.98 502.93h9.76v7.76h-9.76zM487.22 510.38h9.76v7.76h-9.76zM515.60 510.38h9.76v7.76h-9.76zM487.22 517.84h9.76v7.76h-9.76zM515.60 517.84h9.76v7.76h-9.76zM525.06 517.84h9.76v7.76h-9.76zM534.52 517.84h9.76v7.76h-9.76zM487.22 525.30h9.76v7.76h-9.76zM525.06 525.30h9.76v7.76h-9.76zM487.22 532.76h9.76v7.76h-9.76zM515.60 532.76h9.76v7.76h-9.76zM515.60 540.21h9.76v7.76h-9.76zM515.60 547.67h9.76v7.76h-9.76zM515.60 555.13h9.76v7.76h-9.76zM543.98 555.13h9.76v7.76h-9.76zM572.36 555.13h9.76v7.76h-9.76zM515.60 562.59h9.76v7.76h-9.76zM525.06 562.59h9.76v7.76h-9.76zM543.98 562.59h9.76v7.76h-9.76zM525.06 570.04h9.76v7.76h-9.76zM543.98 570.04h9.76v7.76h-9.76zM487.22 577.50h9.76v7.76h-9.76zM515.60 577.50h9.76v7.76h-9.76zM525.06 577.50h9.76v7.76h-9.76zM543.98 577.50h9.76v7.76h-9.76zM572.36 577.50h9.76v7.76h-9.76zM515.60 584.96h9.76v7.76h-9.76zM543.98 584.96h9.76v7.76h-9.76zM534.52 592.42h9.76v7.76h-9.76zM525.06 599.88h9.76v7.76h-9.76zM543.98 599.88h9.76v7.76h-9.76zM487.22 607.33h9.76v7.76h-9.76zM515.60 607.33h9.76v7.76h-9.76zM543.98 607.33h9.76v7.76h-9.76zM487.22 614.79h9.76v7.76h-9.76zM515.60 614.79h9.76v7.76h-9.76zM534.52 614.79h9.76v7.76h-9.76zM572.36 614.79h9.76v7.76h-9.76zM487.22 622.25h9.76v7.76h-9.76zM515.60 622.25h9.76v7.76h-9.76zM572.36 622.25h9.76v7.76h-9.76zM487.22 629.71h9.76v7.76h-9.76zM515.60 629.71h9.76v7.76h-9.76zM525.06 629.71h9.76v7.76h-9.76zM515.60 637.16h9.76v7.76h-9.76zM515.60 644.62h9.76v7.76h-9.76zM487.22 652.08h9.76v7.76h-9.76zM515.60 652.08h9.76v7.76h-9.76zM525.06 652.08h9.76v7.76h-9.76zM543.98 652.08h9.76v7.76h-9.76zM487.22 659.54h9.76v7.76h-9.76zM515.60 659.54h9.76v7.76h-9.76zM525.06 659.54h9.76v7.76h-9.76zM543.98 659.54h9.76v7.76h-9.76zM515.60 666.99h9.76v7.76h-9.76zM525.06 666.99h9.76v7.76h-9.76zM543.98 666.99h9.76v7.76h-9.76zM487.22 674.45h9.76v7.76h-9.76zM515.60 674.45h9.76v7.76h-9.76zM525.06 674.45h9.76v7.76h-9.76zM487.22 681.91h9.76v7.76h-9.76zM515.60 681.91h9.76v7.76h-9.76zM525.06 681.91h9.76v7.76h-9.76zM487.22 689.37h9.76v7.76h-9.76zM525.06 689.37h9.76v7.76h-9.76zM506.14 696.82h9.76v7.76h-9.76zM487.22 704.28h9.76v7.76h-9.76zM506.14 704.28h9.76v7.76h-9.76zM515.60 704.28h9.76v7.76h-9.76zM525.06 704.28h9.76v7.76h-9.76zM487.22 711.74h9.76v7.76h-9.76zM506.14 711.74h9.76v7.76h-9.76zM515.60 711.74h9.76v7.76h-9.76zM525.06 711.74h9.76v7.76h-9.76zM572.36 711.74h9.76v7.76h-9.76zM487.22 719.20h9.76v7.76h-9.76zM515.60 719.20h9.76v7.76h-9.76zM525.06 719.20h9.76v7.76h-9.76zM591.28 719.20h9.76v7.76h-9.76zM506.14 726.66h9.76v7.76h-9.76zM515.60 726.66h9.76v7.76h-9.76zM525.06 726.66h9.76v7.76h-9.76zM525.06 741.57h9.76v7.76h-9.76zM543.98 741.57h9.76v7.76h-9.76zM515.60 749.03h9.76v7.76h-9.76zM525.06 749.03h9.76v7.76h-9.76zM543.98 749.03h9.76v7.76h-9.76zM572.36 749.03h9.76v7.76h-9.76zM515.60 756.49h9.76v7.76h-9.76zM543.98 756.49h9.76v7.76h-9.76zM572.36 756.49h9.76v7.76h-9.76zM515.60 763.94h9.76v7.76h-9.76zM543.98 763.94h9.76v7.76h-9.76zM515.60 771.40h9.76v7.76h-9.76zM543.98 771.40h9.76v7.76h-9.76zM487.22 778.86h9.76v7.76h-9.76zM515.60 778.86h9.76v7.76h-9.76zM525.06 778.86h9.76v7.76h-9.76zM487.22 786.32h9.76v7.76h-9.76zM515.60 786.32h9.76v7.76h-9.76zM525.06 786.32h9.76v7.76h-9.76zM487.22 793.77h9.76v7.76h-9.76zM515.60 793.77h9.76v7.76h-9.76zM525.06 793.77h9.76v7.76h-9.76zM572.36 793.77h9.76v7.76h-9.76zM515.60 801.23h9.76v7.76h-9.76zM515.60 808.69h9.76v7.76h-9.76zM525.06 808.69h9.76v7.76h-9.76zM543.98 808.69h9.76v7.76h-9.76zM515.60 816.15h9.76v7.76h-9.76zM487.22 823.60h9.76v7.76h-9.76zM515.60 823.60h9.76v7.76h-9.76zM525.06 823.60h9.76v7.76h-9.76zM572.36 823.60h9.76v7.76h-9.76zM525.06 831.06h9.76v7.76h-9.76zM534.52 831.06h9.76v7.76h-9.76zM515.60 838.52h9.76v7.76h-9.76zM525.06 838.52h9.76v7.76h-9.76zM506.14 845.98h9.76v7.76h-9.76zM515.60 845.98h9.76v7.76h-9.76zM543.98 845.98h9.76v7.76h-9.76zM581.82 845.98h9.76v7.76h-9.76zM506.14 853.44h9.76v7.76h-9.76zM534.52 853.44h9.76v7.76h-9.76zM487.22 860.89h9.76v7.76h-9.76zM572.36 860.89h9.76v7.76h-9.76zM506.14 875.81h9.76v7.76h-9.76zM515.60 875.81h9.76v7.76h-9.76zM506.14 883.27h9.76v7.76h-9.76zM515.60 883.27h9.76v7.76h-9.76zM525.06 883.27h9.76v7.76h-9.76zM543.98 890.72h9.76v7.76h-9.76zM515.60 898.18h9.76v7.76h-9.76zM515.60 905.64h9.76v7.76h-9.76zM525.06 905.64h9.76v7.76h-9.76zM515.60 913.10h9.76v7.76h-9.76zM421.00 920.55h9.76v7.76h-9.76zM496.68 920.55h9.76v7.76h-9.76zM506.14 920.55h9.76v7.76h-9.76zM543.98 920.55h9.76v7.76h-9.76zM572.36 920.55h9.76v7.76h-9.76zM506.14 928.01h9.76v7.76h-9.76zM496.68 935.47h9.76v7.76h-9.76zM506.14 935.47h9.76v7.76h-9.76zM515.60 935.47h9.76v7.76h-9.76zM534.52 942.93h9.76v7.76h-9.76zM439.92 957.84h9.76v7.76h-9.76z" fill="#56006e"/>
<path d="M581.82 331.40h9.76v7.76h-9.76zM581.82 338.86h9.76v7.76h-9.76zM581.82 346.32h9.76v7.76h-9.76zM581.82 353.77h9.76v7.76h-9.76zM534.52 361.23h9.76v7.76h-9.76zM458.84 368.69h9.76v7.76h-9.76zM591.28 376.15h9.76v7.76h-9.76zM591.28 391.06h9.76v7.76h-9.76zM496.68 398.52h9.76v7.76h-9.76zM553.44 398.52h9.76v7.76h-9.76zM581.82 398.52h9.76v7.76h-9.76zM591.28 398.52h9.76v7.76h-9.76zM458.84 405.98h9.76v7.76h-9.76zM553.44 405.98h9.76v7.76h-9.76zM581.82 405.98h9.76v7.76h-9.76zM458.84 413.43h9.76v7.76h-9.76zM553.44 413.43h9.76v7.76h-9.76zM591.28 413.43h9.76v7.76h-9.76zM591.28 420.89h9.76v7.76h-9.76zM458.84 428.35h9.76v7.76h-9.76zM581.82 428.35h9.76v7.76h-9.76zM591.28 428.35h9.76v7.76h-9.76zM591.28 435.81h9.76v7.76h-9.76zM591.28 443.26h9.76v7.76h-9.76zM449.38 450.72h9.76v7.76h-9.76zM458.84 450.72h9.76v7.76h-9.76zM534.52 450.72h9.76v7.76h-9.76zM581.82 458.18h9.76v7.76h-9.76zM458.84 465.64h9.76v7.76h-9.76zM591.28 465.64h9.76v7.76h-9.76zM458.84 473.10h9.76v7.76h-9.76zM591.28 473.10h9.76v7.76h-9.76zM553.44 480.55h9.76v7.76h-9.76zM553.44 495.47h9.76v7.76h-9.76zM581.82 502.93h9.76v7.76h-9.76zM458.84 510.38h9.76v7.76h-9.76zM553.44 517.84h9.76v7.76h-9.76zM553.44 525.30h9.76v7.76h-9.76zM581.82 532.76h9.76v7.76h-9.76zM591.28 532.76h9.76v7.76h-9.76zM430.46 547.67h9.76v7.76h-9.76zM439.92 547.67h9.76v7.76h-9.76zM449.38 547.67h9.76v7.76h-9.76zM487.22 547.67h9.76v7.76h-9.76zM581.82 547.67h9.76v7.76h-9.76zM458.84 555.13h9.76v7.76h-9.76zM581.82 555.13h9.76v7.76h-9.76zM449.38 562.59h9.76v7.76h-9.76zM458.84 562.59h9.76v7.76h-9.76zM581.82 562.59h9.76v7.76h-9.76zM430.46 570.04h9.76v7.76h-9.76zM458.84 570.04h9.76v7.76h-9.76zM581.82 570.04h9.76v7.76h-9.76zM458.84 577.50h9.76v7.76h-9.76zM496.68 584.96h9.76v7.76h-9.76zM534.52 584.96h9.76v7.76h-9.76zM477.76 592.42h9.76v7.76h-9.76zM458.84 599.88h9.76v7.76h-9.76zM477.76 599.88h9.76v7.76h-9.76zM496.68 599.88h9.76v7.76h-9.76zM581.82 599.88h9.76v7.76h-9.76zM591.28 607.33h9.76v7.76h-9.76zM591.28 614.79h9.76v7.76h-9.76zM591.28 622.25h9.76v7.76h-9.76zM591.28 629.71h9.76v7.76h-9.76zM553.44 637.16h9.76v7.76h-9.76zM591.28 637.16h9.76v7.76h-9.76zM421.00 652.08h9.76v7.76h-9.76zM534.52 652.08h9.76v7.76h-9.76zM581.82 652.08h9.76v7.76h-9.76zM581.82 659.54h9.76v7.76h-9.76zM421.00 666.99h9.76v7.76h-9.76zM553.44 666.99h9.76v7.76h-9.76zM591.28 666.99h9.76v7.76h-9.76zM562.90 674.45h9.76v7.76h-9.76zM562.90 681.91h9.76v7.76h-9.76zM562.90 689.37h9.76v7.76h-9.76zM581.82 689.37h9.76v7.76h-9.76zM553.44 719.20h9.76v7.76h-9.76zM572.36 719.20h9.76v7.76h-9.76zM591.28 734.11h9.76v7.76h-9.76zM553.44 741.57h9.76v7.76h-9.76zM581.82 749.03h9.76v7.76h-9.76zM421.00 756.49h9.76v7.76h-9.76zM581.82 771.40h9.76v7.76h-9.76zM581.82 778.86h9.76v7.76h-9.76zM591.28 778.86h9.76v7.76h-9.76zM591.28 786.32h9.76v7.76h-9.76zM581.82 801.23h9.76v7.76h-9.76zM534.52 808.69h9.76v7.76h-9.76zM430.46 816.15h9.76v7.76h-9.76zM439.92 816.15h9.76v7.76h-9.76zM421.00 823.60h9.76v7.76h-9.76zM515.60 831.06h9.76v7.76h-9.76zM562.90 831.06h9.76v7.76h-9.76zM430.46 860.89h9.76v7.76h-9.76zM439.92 860.89h9.76v7.76h-9.76zM458.84 860.89h9.76v7.76h-9.76zM543.98 860.89h9.76v7.76h-9.76zM439.92 868.35h9.76v7.76h-9.76zM468.30 868.35h9.76v7.76h-9.76zM515.60 868.35h9.76v7.76h-9.76zM534.52 868.35h9.76v7.76h-9.76zM572.36 868.35h9.76v7.76h-9.76zM581.82 868.35h9.76v7.76h-9.76zM477.76 875.81h9.76v7.76h-9.76zM487.22 875.81h9.76v7.76h-9.76zM430.46 883.27h9.76v7.76h-9.76zM449.38 883.27h9.76v7.76h-9.76zM477.76 883.27h9.76v7.76h-9.76zM487.22 883.27h9.76v7.76h-9.76zM449.38 890.72h9.76v7.76h-9.76zM477.76 890.72h9.76v7.76h-9.76zM487.22 890.72h9.76v7.76h-9.76zM496.68 890.72h9.76v7.76h-9.76zM458.84 898.18h9.76v7.76h-9.76zM421.00 905.64h9.76v7.76h-9.76zM458.84 913.10h9.76v7.76h-9.76zM496.68 913.10h9.76v7.76h-9.76zM534.52 913.10h9.76v7.76h-9.76zM439.92 920.55h9.76v7.76h-9.76zM449.38 920.55h9.76v7.76h-9.76zM458.84 920.55h9.76v7.76h-9.76zM581.82 920.55h9.76v7.76h-9.76zM421.00 928.01h9.76v7.76h-9.76zM477.76 928.01h9.76v7.76h-9.76zM543.98 935.47h9.76v7.76h-9.76zM468.30 942.93h9.76v7.76h-9.76zM477.76 942.93h9.76v7.76h-9.76zM430.46 950.38h9.76v7.76h-9.76zM468.30 950.38h9.76v7.76h-9.76zM496.68 957.84h9.76v7.76h-9.76zM525.06 957.84h9.76v7.76h-9.76z" fill="#060208"/>
<path d="M506.14 346.32h9.76v7.76h-9.76zM506.14 435.81h9.76v7.76h-9.76zM506.14 443.26h9.76v7.76h-9.76zM506.14 510.38h9.76v7.76h-9.76zM506.14 517.84h9.76v7.76h-9.76zM506.14 532.76h9.76v7.76h-9.76zM506.14 555.13h9.76v7.76h-9.76zM506.14 584.96h9.76v7.76h-9.76zM506.14 592.42h9.76v7.76h-9.76zM506.14 599.88h9.76v7.76h-9.76zM506.14 689.37h9.76v7.76h-9.76zM506.14 734.11h9.76v7.76h-9.76zM506.14 763.94h9.76v7.76h-9.76zM506.14 771.40h9.76v7.76h-9.76zM506.14 831.06h9.76v7.76h-9.76zM506.14 838.52h9.76v7.76h-9.76zM506.14 868.35h9.76v7.76h-9.76zM506.14 913.10h9.76v7.76h-9.76z" fill="#9400b6"/>
<path d="M562.90 353.77h9.76v7.76h-9.76zM421.00 368.69h9.76v7.76h-9.76zM421.00 376.15h9.76v7.76h-9.76zM421.00 383.60h9.76v7.76h-9.76zM562.90 428.35h9.76v7.76h-9.76zM421.00 435.81h9.76v7.76h-9.76zM562.90 435.81h9.76v7.76h-9.76zM421.00 443.26h9.76v7.76h-9.76zM562.90 443.26h9.76v7.76h-9.76zM421.00 465.64h9.76v7.76h-9.76zM439.92 465.64h9.76v7.76h-9.76zM421.00 473.10h9.76v7.76h-9.76zM439.92 473.10h9.76v7.76h-9.76zM421.00 480.55h9.76v7.76h-9.76zM439.92 480.55h9.76v7.76h-9.76zM421.00 488.01h9.76v7.76h-9.76zM439.92 502.93h9.76v7.76h-9.76zM421.00 510.38h9.76v7.76h-9.76zM439.92 510.38h9.76v7.76h-9.76zM439.92 517.84h9.76v7.76h-9.76zM421.00 525.30h9.76v7.76h-9.76zM468.30 525.30h9.76v7.76h-9.76zM421.00 532.76h9.76v7.76h-9.76zM421.00 540.21h9.76v7.76h-9.76zM421.00 547.67h9.76v7.76h-9.76zM562.90 547.67h9.76v7.76h-9.76zM421.00 555.13h9.76v7.76h-9.76zM562.90 555.13h9.76v7.76h-9.76zM421.00 562.59h9.76v7.76h-9.76zM421.00 570.04h9.76v7.76h-9.76zM421.00 577.50h9.76v7.76h-9.76zM421.00 584.96h9.76v7.76h-9.76zM562.90 584.96h9.76v7.76h-9.76zM562.90 592.42h9.76v7.76h-9.76zM421.00 599.88h9.76v7.76h-9.76zM562.90 599.88h9.76v7.76h-9.76zM439.92 622.25h9.76v7.76h-9.76zM430.46 629.71h9.76v7.76h-9.76zM439.92 629.71h9.76v7.76h-9.76zM430.46 637.16h9.76v7.76h-9.76zM468.30 637.16h9.76v7.76h-9.76zM430.46 644.62h9.76v7.76h-9.76zM468.30 644.62h9.76v7.76h-9.76zM430.46 652.08h9.76v7.76h-9.76zM439.92 652.08h9.76v7.76h-9.76zM468.30 652.08h9.76v7.76h-9.76zM430.46 659.54h9.76v7.76h-9.76zM439.92 659.54h9.76v7.76h-9.76zM468.30 659.54h9.76v7.76h-9.76zM430.46 666.99h9.76v7.76h-9.76zM439.92 666.99h9.76v7.76h-9.76zM430.46 674.45h9.76v7.76h-9.76zM430.46 681.91h9.76v7.76h-9.76zM468.30 681.91h9.76v7.76h-9.76zM439.92 689.37h9.76v7.76h-9.76zM430.46 696.82h9.76v7.76h-9.76zM439.92 696.82h9.76v7.76h-9.76zM430.46 704.28h9.76v7.76h-9.76zM439.92 704.28h9.76v7.76h-9.76zM430.46 711.74h9.76v7.76h-9.76zM430.46 719.20h9.76v7.76h-9.76zM439.92 726.66h9.76v7.76h-9.76zM421.00 734.11h9.76v7.76h-9.76zM421.00 741.57h9.76v7.76h-9.76zM562.90 749.03h9.76v7.76h-9.76zM562.90 756.49h9.76v7.76h-9.76zM562.90 763.94h9.76v7.76h-9.76zM468.30 786.32h9.76v7.76h-9.76zM468.30 793.77h9.76v7.76h-9.76zM468.30 801.23h9.76v7.76h-9.76zM468.30 808.69h9.76v7.76h-9.76zM468.30 816.15h9.76v7.76h-9.76zM468.30 823.60h9.76v7.76h-9.76zM439.92 853.44h9.76v7.76h-9.76zM591.28 853.44h9.76v7.76h-9.76zM562.90 868.35h9.76v7.76h-9.76zM562.90 875.81h9.76v7.76h-9.76zM553.44 883.27h9.76v7.76h-9.76zM591.28 883.27h9.76v7.76h-9.76zM562.90 957.84h9.76v7.76h-9.76z" fill="#968d00"/>
<path d="M487.22 361.23h9.76v7.76h-9.76zM581.82 361.23h9.76v7.76h-9.76zM581.82 368.69h9.76v7.76h-9.76zM581.82 376.15h9.76v7.76h-9.76zM581.82 383.60h9.76v7.76h-9.76zM487.22 391.06h9.76v7.76h-9.76zM581.82 391.06h9.76v7.76h-9.76zM458.84 398.52h9.76v7.76h-9.76zM543.98 398.52h9.76v7.76h-9.76zM572.36 398.52h9.76v7.76h-9.76zM543.98 405.98h9.76v7.76h-9.76zM572.36 405.98h9.76v7.76h-9.76zM534.52 413.43h9.76v7.76h-9.76zM581.82 413.43h9.76v7.76h-9.76zM581.82 420.89h9.76v7.76h-9.76zM534.52 435.81h9.76v7.76h-9.76zM581.82 435.81h9.76v7.76h-9.76zM581.82 443.26h9.76v7.76h-9.76zM581.82 450.72h9.76v7.76h-9.76zM458.84 458.18h9.76v7.76h-9.76zM534.52 465.64h9.76v7.76h-9.76zM581.82 465.64h9.76v7.76h-9.76zM581.82 473.10h9.76v7.76h-9.76zM458.84 480.55h9.76v7.76h-9.76zM581.82 480.55h9.76v7.76h-9.76zM591.28 480.55h9.76v7.76h-9.76zM553.44 488.01h9.76v7.76h-9.76zM591.28 488.01h9.76v7.76h-9.76zM496.68 495.47h9.76v7.76h-9.76zM581.82 495.47h9.76v7.76h-9.76zM591.28 495.47h9.76v7.76h-9.76zM496.68 502.93h9.76v7.76h-9.76zM553.44 502.93h9.76v7.76h-9.76zM581.82 510.38h9.76v7.76h-9.76zM591.28 517.84h9.76v7.76h-9.76zM534.52 525.30h9.76v7.76h-9.76zM581.82 525.30h9.76v7.76h-9.76zM496.68 532.76h9.76v7.76h-9.76zM496.68 540.21h9.76v7.76h-9.76zM543.98 540.21h9.76v7.76h-9.76zM534.52 547.67h9.76v7.76h-9.76zM487.22 555.13h9.76v7.76h-9.76zM534.52 555.13h9.76v7.76h-9.76zM439.92 584.96h9.76v7.76h-9.76zM458.84 584.96h9.76v7.76h-9.76zM496.68 592.42h9.76v7.76h-9.76zM572.36 592.42h9.76v7.76h-9.76zM487.22 599.88h9.76v7.76h-9.76zM572.36 599.88h9.76v7.76h-9.76zM591.28 599.88h9.76v7.76h-9.76zM477.76 607.33h9.76v7.76h-9.76zM572.36 607.33h9.76v7.76h-9.76zM581.82 614.79h9.76v7.76h-9.76zM581.82 622.25h9.76v7.76h-9.76zM534.52 629.71h9.76v7.76h-9.76zM581.82 629.71h9.76v7.76h-9.76zM534.52 637.16h9.76v7.76h-9.76zM581.82 637.16h9.76v7.76h-9.76zM534.52 644.62h9.76v7.76h-9.76zM581.82 644.62h9.76v7.76h-9.76zM591.28 652.08h9.76v7.76h-9.76zM534.52 659.54h9.76v7.76h-9.76zM534.52 666.99h9.76v7.76h-9.76zM581.82 674.45h9.76v7.76h-9.76zM591.28 674.45h9.76v7.76h-9.76zM534.52 681.91h9.76v7.76h-9.76zM581.82 681.91h9.76v7.76h-9.76zM591.28 681.91h9.76v7.76h-9.76zM496.68 689.37h9.76v7.76h-9.76zM591.28 689.37h9.76v7.76h-9.76zM562.90 696.82h9.76v7.76h-9.76zM581.82 696.82h9.76v7.76h-9.76zM591.28 696.82h9.76v7.76h-9.76zM496.68 704.28h9.76v7.76h-9.76zM534.52 704.28h9.76v7.76h-9.76zM553.44 704.28h9.76v7.76h-9.76zM562.90 704.28h9.76v7.76h-9.76zM581.82 704.28h9.76v7.76h-9.76zM591.28 704.28h9.76v7.76h-9.76zM543.98 711.74h9.76v7.76h-9.76zM591.28 711.74h9.76v7.76h-9.76zM496.68 719.20h9.76v7.76h-9.76zM543.98 719.20h9.76v7.76h-9.76zM487.22 726.66h9.76v7.76h-9.76zM496.68 726.66h9.76v7.76h-9.76zM553.44 726.66h9.76v7.76h-9.76zM572.36 726.66h9.76v7.76h-9.76zM487.22 734.11h9.76v7.76h-9.76zM515.60 734.11h9.76v7.76h-9.76zM562.90 734.11h9.76v7.76h-9.76zM581.82 734.11h9.76v7.76h-9.76zM515.60 741.57h9.76v7.76h-9.76zM581.82 741.57h9.76v7.76h-9.76zM487.22 749.03h9.76v7.76h-9.76zM581.82 756.49h9.76v7.76h-9.76zM572.36 771.40h9.76v7.76h-9.76zM581.82 786.32h9.76v7.76h-9.76zM496.68 793.77h9.76v7.76h-9.76zM534.52 793.77h9.76v7.76h-9.76zM581.82 793.77h9.76v7.76h-9.76zM534.52 801.23h9.76v7.76h-9.76zM496.68 816.15h9.76v7.76h-9.76zM581.82 816.15h9.76v7.76h-9.76zM581.82 823.60h9.76v7.76h-9.76zM421.00 831.06h9.76v7.76h-9.76zM496.68 831.06h9.76v7.76h-9.76zM562.90 838.52h9.76v7.76h-9.76zM572.36 838.52h9.76v7.76h-9.76zM421.00 845.98h9.76v7.76h-9.76zM421.00 853.44h9.76v7.76h-9.76zM449.38 853.44h9.76v7.76h-9.76zM449.38 860.89h9.76v7.76h-9.76zM458.84 868.35h9.76v7.76h-9.76zM543.98 868.35h9.76v7.76h-9.76zM439.92 875.81h9.76v7.76h-9.76zM449.38 875.81h9.76v7.76h-9.76zM458.84 875.81h9.76v7.76h-9.76zM496.68 875.81h9.76v7.76h-9.76zM534.52 875.81h9.76v7.76h-9.76zM421.00 883.27h9.76v7.76h-9.76zM439.92 883.27h9.76v7.76h-9.76zM458.84 883.27h9.76v7.76h-9.76zM496.68 883.27h9.76v7.76h-9.76zM421.00 890.72h9.76v7.76h-9.76zM572.36 890.72h9.76v7.76h-9.76zM458.84 905.64h9.76v7.76h-9.76zM496.68 905.64h9.76v7.76h-9.76zM487.22 913.10h9.76v7.76h-9.76zM581.82 913.10h9.76v7.76h-9.76zM458.84 928.01h9.76v7.76h-9.76zM515.60 928.01h9.76v7.76h-9.76zM543.98 928.01h9.76v7.76h-9.76zM458.84 935.47h9.76v7.76h-9.76zM477.76 935.47h9.76v7.76h-9.76zM487.22 935.47h9.76v7.76h-9.76zM449.38 942.93h9.76v7.76h-9.76zM515.60 942.93h9.76v7.76h-9.76zM449.38 950.38h9.76v7.76h-9.76zM477.76 950.38h9.76v7.76h-9.76zM468.30 957.84h9.76v7.76h-9.76zM506.14 957.84h9.76v7.76h-9.76zM515.60 957.84h9.76v7.76h-9.76z" fill="#21002c"/>
<path d="M421.00 398.52h9.76v7.76h-9.76zM591.28 860.89h9.76v7.76h-9.76zM553.44 868.35h9.76v7.76h-9.76zM591.28 890.72h9.76v7.76h-9.76zM562.90 942.93h9.76v7.76h-9.76zM562.90 950.38h9.76v7.76h-9.76z" fill="#e4d800"/>
<path d="M421.00 405.98h9.76v7.76h-9.76zM421.00 413.43h9.76v7.76h-9.76zM421.00 420.89h9.76v7.76h-9.76zM421.00 428.35h9.76v7.76h-9.76zM421.00 450.72h9.76v7.76h-9.76zM421.00 458.18h9.76v7.76h-9.76zM562.90 480.55h9.76v7.76h-9.76zM421.00 495.47h9.76v7.76h-9.76zM421.00 517.84h9.76v7.76h-9.76zM562.90 562.59h9.76v7.76h-9.76zM562.90 570.04h9.76v7.76h-9.76zM439.92 711.74h9.76v7.76h-9.76zM439.92 719.20h9.76v7.76h-9.76zM468.30 860.89h9.76v7.76h-9.76zM553.44 875.81h9.76v7.76h-9.76zM591.28 875.81h9.76v7.76h-9.76zM562.90 883.27h9.76v7.76h-9.76zM562.90 890.72h9.76v7.76h-9.76zM562.90 898.18h9.76v7.76h-9.76zM562.90 905.64h9.76v7.76h-9.76zM562.90 913.10h9.76v7.76h-9.76zM562.90 920.55h9.76v7.76h-9.76zM562.90 928.01h9.76v7.76h-9.76zM562.90 935.47h9.76v7.76h-9.76z" fill="#b6ac00"/>
</g>
<text transform="translate(605.20 338.50)" font-size="8.6" fill="#111" font-style="italic">Atp5c1</text>
<text transform="translate(605.20 345.95)" font-size="8.6" fill="#111" font-style="italic">Atp5f1</text>
<text transform="translate(605.20 353.40)" font-size="8.6" fill="#111" font-style="italic">Ndufa8</text>
<text transform="translate(605.20 360.86)" font-size="8.6" fill="#111" font-style="italic">Ndufb10</text>
<text transform="translate(605.20 368.31)" font-size="8.6" fill="#111" font-style="italic">Cox4i1</text>
<text transform="translate(605.20 375.76)" font-size="8.6" fill="#111" font-style="italic">Atp5g1</text>
<text transform="translate(605.20 383.21)" font-size="8.6" fill="#111" font-style="italic">Cox5b</text>
<text transform="translate(605.20 390.66)" font-size="8.6" fill="#111" font-style="italic">Ndufb7</text>
<text transform="translate(605.20 398.12)" font-size="8.6" fill="#111" font-style="italic">Ndufa11</text>
<text transform="translate(605.20 405.57)" font-size="8.6" fill="#111" font-style="italic">Cox7c</text>
<text transform="translate(605.20 413.02)" font-size="8.6" fill="#111" font-style="italic">Atp5md</text>
<text transform="translate(605.20 420.47)" font-size="8.6" fill="#111" font-style="italic">Atp5j2</text>
<text transform="translate(605.20 427.92)" font-size="8.6" fill="#111" font-style="italic">Ndufa5</text>
<text transform="translate(605.20 435.38)" font-size="8.6" fill="#111" font-style="italic">Atp5mpl</text>
<text transform="translate(605.20 442.83)" font-size="8.6" fill="#111" font-style="italic">Ndufa4</text>
<text transform="translate(605.20 450.28)" font-size="8.6" fill="#111" font-style="italic">Higd2a</text>
<text transform="translate(605.20 457.73)" font-size="8.6" fill="#111" font-style="italic">Cox6b1</text>
<text transform="translate(605.20 465.18)" font-size="8.6" fill="#111" font-style="italic">Cox7a2</text>
<text transform="translate(605.20 472.64)" font-size="8.6" fill="#111" font-style="italic">Uqcrh</text>
<text transform="translate(605.20 480.09)" font-size="8.6" fill="#111" font-style="italic">Uqcrb</text>
<text transform="translate(605.20 487.54)" font-size="8.6" fill="#111" font-style="italic">Ndufb1-ps</text>
<text transform="translate(605.20 494.99)" font-size="8.6" fill="#111" font-style="italic">Atp5h</text>
<text transform="translate(605.20 502.44)" font-size="8.6" fill="#111" font-style="italic">Atp5j</text>
<text transform="translate(605.20 509.90)" font-size="8.6" fill="#111" font-style="italic">Ndufc1</text>
<text transform="translate(605.20 517.35)" font-size="8.6" fill="#111" font-style="italic">Ndufb6</text>
<text transform="translate(605.20 524.80)" font-size="8.6" fill="#111" font-style="italic">Ndufc2</text>
<text transform="translate(605.20 532.25)" font-size="8.6" fill="#111" font-style="italic">Ndufs8</text>
<text transform="translate(605.20 539.70)" font-size="8.6" fill="#111" font-style="italic">Ndufb8</text>
<text transform="translate(605.20 547.16)" font-size="8.6" fill="#111" font-style="italic">Sdhaf4</text>
<text transform="translate(605.20 554.61)" font-size="8.6" fill="#111" font-style="italic">Fmc1</text>
<text transform="translate(605.20 562.06)" font-size="8.6" fill="#111" font-style="italic">Uqcrq</text>
<text transform="translate(605.20 569.51)" font-size="8.6" fill="#111" font-style="italic">Uqcr10</text>
<text transform="translate(605.20 576.96)" font-size="8.6" fill="#111" font-style="italic">Uqcc2</text>
<text transform="translate(605.20 584.42)" font-size="8.6" fill="#111" font-style="italic">Cycs</text>
<text transform="translate(605.20 591.87)" font-size="8.6" fill="#111" font-style="italic">Ndufs5</text>
<text transform="translate(605.20 599.32)" font-size="8.6" fill="#111" font-style="italic">Coa6</text>
<text transform="translate(605.20 606.77)" font-size="8.6" fill="#111" font-style="italic">Cox14</text>
<text transform="translate(605.20 614.22)" font-size="8.6" fill="#111" font-style="italic">Cox11</text>
<text transform="translate(605.20 621.68)" font-size="8.6" fill="#111" font-style="italic">Ndufab1</text>
<text transform="translate(605.20 629.13)" font-size="8.6" fill="#111" font-style="italic">Ndufv2</text>
<text transform="translate(605.20 636.58)" font-size="8.6" fill="#111" font-style="italic">Atp5g3</text>
<text transform="translate(605.20 644.03)" font-size="8.6" fill="#111" font-style="italic">Ndufb9</text>
<text transform="translate(605.20 651.48)" font-size="8.6" fill="#111" font-style="italic">Atp5o</text>
<text transform="translate(605.20 658.94)" font-size="8.6" fill="#111" font-style="italic">Sdhc</text>
<text transform="translate(605.20 666.39)" font-size="8.6" fill="#111" font-style="italic">Uqcrfs1</text>
<text transform="translate(605.20 673.84)" font-size="8.6" fill="#111" font-style="italic">Cisd3</text>
<text transform="translate(605.20 681.29)" font-size="8.6" fill="#111" font-style="italic">Lyrm7</text>
<text transform="translate(605.20 688.74)" font-size="8.6" fill="#111" font-style="italic">Cyc1</text>
<text transform="translate(605.20 696.20)" font-size="8.6" fill="#111" font-style="italic">Rtn4ip1</text>
<text transform="translate(605.20 703.65)" font-size="8.6" fill="#111" font-style="italic">Coa5</text>
<text transform="translate(605.20 711.10)" font-size="8.6" fill="#111" font-style="italic">Uqcrc2</text>
<text transform="translate(605.20 718.55)" font-size="8.6" fill="#111" font-style="italic">Hccs</text>
<text transform="translate(605.20 726.00)" font-size="8.6" fill="#111" font-style="italic">Tmem70</text>
<text transform="translate(605.20 733.46)" font-size="8.6" fill="#111" font-style="italic">Ndufaf6</text>
<text transform="translate(605.20 740.91)" font-size="8.6" fill="#111" font-style="italic">Coa7</text>
<text transform="translate(605.20 748.36)" font-size="8.6" fill="#111" font-style="italic">Higd1a</text>
<text transform="translate(605.20 755.81)" font-size="8.6" fill="#111" font-style="italic">Ndufs3</text>
<text transform="translate(605.20 763.26)" font-size="8.6" fill="#111" font-style="italic">Cox5a</text>
<text transform="translate(605.20 770.72)" font-size="8.6" fill="#111" font-style="italic">Cisd1</text>
<text transform="translate(605.20 778.17)" font-size="8.6" fill="#111" font-style="italic">Ndufb11</text>
<text transform="translate(605.20 785.62)" font-size="8.6" fill="#111" font-style="italic">Sdhd</text>
<text transform="translate(605.20 793.07)" font-size="8.6" fill="#111" font-style="italic">Atp5a1</text>
<text transform="translate(605.20 800.52)" font-size="8.6" fill="#111" font-style="italic">Sdhb</text>
<text transform="translate(605.20 807.98)" font-size="8.6" fill="#111" font-style="italic">Atp5b</text>
<text transform="translate(605.20 815.43)" font-size="8.6" fill="#111" font-style="italic">Ecsit</text>
<text transform="translate(605.20 822.88)" font-size="8.6" fill="#111" font-style="italic">Ndufs7</text>
<text transform="translate(605.20 830.33)" font-size="8.6" fill="#111" font-style="italic">Dmac2</text>
<text transform="translate(605.20 837.78)" font-size="8.6" fill="#111" font-style="italic">Atpaf1</text>
<text transform="translate(605.20 845.24)" font-size="8.6" fill="#111" font-style="italic">Nipsnap2</text>
<text transform="translate(605.20 852.69)" font-size="8.6" fill="#111" font-style="italic">Cox10</text>
<text transform="translate(605.20 860.14)" font-size="8.6" fill="#111" font-style="italic">Sco1</text>
<text transform="translate(605.20 867.59)" font-size="8.6" fill="#111" font-style="italic">Foxred1</text>
<text transform="translate(605.20 875.04)" font-size="8.6" fill="#111" font-style="italic">Ttc19</text>
<text transform="translate(605.20 882.50)" font-size="8.6" fill="#111" font-style="italic">Ndufs2</text>
<text transform="translate(605.20 889.95)" font-size="8.6" fill="#111" font-style="italic">Atp5d</text>
<text transform="translate(605.20 897.40)" font-size="8.6" fill="#111" font-style="italic">Ndufaf3</text>
<text transform="translate(605.20 904.85)" font-size="8.6" fill="#111" font-style="italic">Ndufb5</text>
<text transform="translate(605.20 912.30)" font-size="8.6" fill="#111" font-style="italic">Ndufa6</text>
<text transform="translate(605.20 919.76)" font-size="8.6" fill="#111" font-style="italic">Ndufa2</text>
<text transform="translate(605.20 927.21)" font-size="8.6" fill="#111" font-style="italic">Coq10a</text>
<text transform="translate(605.20 934.66)" font-size="8.6" fill="#111" font-style="italic">Atp5l</text>
<text transform="translate(605.20 942.11)" font-size="8.6" fill="#111" font-style="italic">Ndufb4</text>
<text transform="translate(605.20 949.56)" font-size="8.6" fill="#111" font-style="italic">Cox20</text>
<text transform="translate(605.20 957.02)" font-size="8.6" fill="#111" font-style="italic">Atp6v1e1</text>
<text transform="translate(605.20 964.47)" font-size="8.6" fill="#111" font-style="italic">Sdhaf1</text>
<defs><linearGradient id="gd" gradientUnits="userSpaceOnUse" x1="0" y1="322.0" x2="0" y2="411.8"><stop offset="0" stop-color="#fff000"/><stop offset="0.5" stop-color="#000"/><stop offset="1" stop-color="#cc00ff"/></linearGradient></defs>
<rect x="656.4" y="322.0" width="6.6" height="89.80" fill="url(#gd)"/>
<path d="M663.00 322.20L665.60 322.20" stroke="#777" stroke-width="0.6" fill="none"/>
<text transform="translate(670.20 325.30)" font-size="8.6" fill="#1a1a1a">3</text>
<path d="M663.00 336.90L665.60 336.90" stroke="#777" stroke-width="0.6" fill="none"/>
<text transform="translate(670.20 340.00)" font-size="8.6" fill="#1a1a1a">2</text>
<path d="M663.00 351.80L665.60 351.80" stroke="#777" stroke-width="0.6" fill="none"/>
<text transform="translate(670.20 354.90)" font-size="8.6" fill="#1a1a1a">1</text>
<path d="M663.00 366.70L665.60 366.70" stroke="#777" stroke-width="0.6" fill="none"/>
<text transform="translate(670.20 369.80)" font-size="8.6" fill="#1a1a1a">0</text>
<path d="M663.00 381.60L665.60 381.60" stroke="#777" stroke-width="0.6" fill="none"/>
<text transform="translate(670.20 384.70)" font-size="8.6" fill="#1a1a1a">−1</text>
<path d="M663.00 396.70L665.60 396.70" stroke="#777" stroke-width="0.6" fill="none"/>
<text transform="translate(670.20 399.80)" font-size="8.6" fill="#1a1a1a">−2</text>
<path d="M663.00 411.60L665.60 411.60" stroke="#777" stroke-width="0.6" fill="none"/>
<text transform="translate(670.20 414.70)" font-size="8.6" fill="#1a1a1a">−3</text>
<text transform="translate(659.60 302.00)" font-size="8.8" fill="#1a1a1a" text-anchor="middle" textLength="50.8" lengthAdjust="spacingAndGlyphs">Normalized</text>
<text transform="translate(659.60 313.00)" font-size="8.8" fill="#1a1a1a" text-anchor="middle">RPKM</text>
<path d="M421 335.1H416.9V342.6H421M416.9 338.9H413.9V350H421M413.9 344.5H412.6V357.5H421M421 372.4H416.3V379.9H421M421 387.3H416.3V394.8H421M416.3 376.1H413V391.1H416.3M421 365H412.1V383.6H413M412.6 351H410.6V374.3H412.1M421 409.7H416.5V417.2H421M421 402.2H413.5V413.4H416.5M421 424.6H416.5V432.1H421M421 439.5H417V447H421M421 454.5H417V461.9H421M421 469.4H416.6V476.8H421M417 458.2H413.2V473.1H416.6M417 443.3H411.4V465.6H413.2M421 484.3H416.7V491.7H421M421 506.7H417.1V514.1H421M421 499.2H414V510.4H417.1M414 504.8H412.6V521.6H421M416.7 488H411.1V513.2H412.6M411.4 454.5H409.6V500.6H411.1M416.5 428.3H409.1V477.5H409.6M413.5 407.8H408.1V452.9H409.1M421 529H417V536.5H421M417 532.8H413.6V543.9H421M408.1 430.4H407.7V538.3H413.6M410.6 362.6H407V484.4H407.7M421 558.9H417V566.3H421M421 573.8H416.7V581.2H421M417 562.6H412.5V577.5H416.7M412.5 570H412V588.7H421M421 596.1H416.5V603.6H421M412 579.4H410.6V599.9H416.5M421 551.4H411V589.6H410.6M421 611.1H416.6V618.5H421M421 633.4H416.6V640.9H421M421 626H413.6V637.2H416.6M416.6 614.8H412.1V631.6H413.6M421 648.3H416.6V655.8H421M416.6 652.1H413.7V663.3H421M413.7 657.7H413.2V670.7H421M412.1 623.2H409.7V664.2H413.2M411 570.5H408.4V643.7H409.7M421 693.1H416.6V700.6H421M421 708H416.7V715.5H421M416.6 696.8H412.9V711.7H416.7M421 685.6H412V704.3H412.9M421 730.4H417V737.8H421M417 734.1H413.9V745.3H421M421 722.9H413V739.7H413.9M412 695H410.4V731.3H413M421 760.2H416.5V767.7H421M416.5 763.9H413.8V775.1H421M421 782.6H416.7V790H421M413.8 769.5H412.2V786.3H416.7M421 752.8H411.4V777.9H412.2M410.4 713.1H408.8V765.3H411.4M421 678.2H408.7V739.2H408.8M408.4 607.1H406V708.7H408.7M407 423.5H403.5V657.9H406M421 805H416.4V812.4H421M421 827.3H416.7V834.8H421M421 819.9H413.6V831.1H416.7M413.6 825.5H412.5V842.2H421M416.4 808.7H411.3V833.9H412.5M421 797.5H410.6V821.3H411.3M421 857.2H416.8V864.6H421M421 849.7H413.9V860.9H416.8M410.6 809.4H409.3V855.3H413.9M421 887H416.7V894.5H421M421 879.5H413.7V890.7H416.7M421 872.1H412.7V885.1H413.7M409.3 832.3H408.5V878.6H412.7M421 909.4H416.4V916.8H421M416.4 913.1H413.6V924.3H421M413.6 918.7H412.9V931.7H421M421 939.2H416.7V946.7H421M412.9 925.2H411.5V942.9H416.7M411.5 934.1H411.4V954.1H421M421 901.9H410.9V944.1H411.4M408.5 855.5H404.9V923H410.9M403.5 619H397.4V900H404.9M397.4 752H389.4V961.6H421" stroke="#000" stroke-width="0.7" fill="none"/>
<text transform="translate(-0.40 574.40) scale(1.07 1)" font-size="14.0" fill="#000" font-weight="bold" stroke="#000" stroke-width="0.35">e</text>
<text transform="translate(193.60 572.70)" font-size="9.2" fill="#1a1a1a" text-anchor="middle" textLength="109.3" lengthAdjust="spacingAndGlyphs">Mitochondrial dynamics</text>
<path d="M102.00 592.40L161.58 592.40" stroke="#111" stroke-width="0.95" fill="none"/>
<text transform="translate(131.44 587.80) scale(1.08 1)" font-size="8.3" fill="#1a1a1a" text-anchor="middle">ctr</text>
<path d="M164.08 592.40L223.65 592.40" stroke="#111" stroke-width="0.95" fill="none"/>
<text transform="translate(193.51 587.80) scale(1.08 1)" font-size="8.3" fill="#1a1a1a" text-anchor="middle">C26 veh</text>
<path d="M226.15 592.40L267.99 592.40" stroke="#111" stroke-width="0.95" fill="none"/>
<text transform="translate(246.72 587.80) scale(1.08 1)" font-size="8.3" fill="#1a1a1a" text-anchor="middle">C26 Rol</text>
<g shape-rendering="crispEdges">
<rect x="100.40" y="597.10" width="168.49" height="224.40" fill="#30103a"/>
<path d="M100.40 597.10h9.17v10.50h-9.17zM109.27 597.10h9.17v10.50h-9.17zM127.00 597.10h9.17v10.50h-9.17zM135.87 597.10h9.17v10.50h-9.17zM224.55 597.10h9.17v10.50h-9.17zM233.42 597.10h9.17v10.50h-9.17zM100.40 607.30h9.17v10.50h-9.17zM118.14 607.30h9.17v10.50h-9.17zM127.00 607.30h9.17v10.50h-9.17zM135.87 607.30h9.17v10.50h-9.17zM224.55 607.30h9.17v10.50h-9.17zM233.42 607.30h9.17v10.50h-9.17zM127.00 617.50h9.17v10.50h-9.17zM144.74 617.50h9.17v10.50h-9.17zM153.61 617.50h9.17v10.50h-9.17zM233.42 617.50h9.17v10.50h-9.17zM100.40 627.70h9.17v10.50h-9.17zM118.14 627.70h9.17v10.50h-9.17zM153.61 627.70h9.17v10.50h-9.17zM224.55 627.70h9.17v10.50h-9.17zM260.02 627.70h9.17v10.50h-9.17zM109.27 637.90h9.17v10.50h-9.17zM127.00 637.90h9.17v10.50h-9.17zM135.87 637.90h9.17v10.50h-9.17zM224.55 637.90h9.17v10.50h-9.17zM260.02 637.90h9.17v10.50h-9.17zM100.40 648.10h9.17v10.50h-9.17zM118.14 648.10h9.17v10.50h-9.17zM127.00 648.10h9.17v10.50h-9.17zM135.87 648.10h9.17v10.50h-9.17zM127.00 658.30h9.17v10.50h-9.17zM135.87 658.30h9.17v10.50h-9.17zM233.42 658.30h9.17v10.50h-9.17zM260.02 658.30h9.17v10.50h-9.17zM127.00 668.50h9.17v10.50h-9.17zM224.55 668.50h9.17v10.50h-9.17zM109.27 678.70h9.17v10.50h-9.17zM127.00 678.70h9.17v10.50h-9.17zM153.61 678.70h9.17v10.50h-9.17zM224.55 678.70h9.17v10.50h-9.17zM127.00 688.90h9.17v10.50h-9.17zM144.74 699.10h9.17v10.50h-9.17zM251.16 699.10h9.17v10.50h-9.17zM260.02 699.10h9.17v10.50h-9.17zM127.00 709.30h9.17v10.50h-9.17zM144.74 709.30h9.17v10.50h-9.17zM153.61 709.30h9.17v10.50h-9.17zM109.27 729.70h9.17v10.50h-9.17zM233.42 729.70h9.17v10.50h-9.17zM197.95 739.90h9.17v10.50h-9.17zM206.82 760.30h9.17v10.50h-9.17zM100.40 801.10h9.17v10.50h-9.17zM118.14 801.10h9.17v10.50h-9.17zM118.14 811.30h9.17v10.50h-9.17zM260.02 811.30h9.17v10.50h-9.17z" fill="#423e00"/>
<path d="M118.14 597.10h9.17v10.50h-9.17zM260.02 597.10h9.17v10.50h-9.17zM135.87 617.50h9.17v10.50h-9.17zM224.55 617.50h9.17v10.50h-9.17zM215.68 627.70h9.17v10.50h-9.17zM233.42 627.70h9.17v10.50h-9.17zM100.40 637.90h9.17v10.50h-9.17zM118.14 637.90h9.17v10.50h-9.17zM260.02 648.10h9.17v10.50h-9.17zM100.40 658.30h9.17v10.50h-9.17zM118.14 658.30h9.17v10.50h-9.17zM224.55 658.30h9.17v10.50h-9.17zM251.16 658.30h9.17v10.50h-9.17zM100.40 668.50h9.17v10.50h-9.17zM109.27 668.50h9.17v10.50h-9.17zM135.87 668.50h9.17v10.50h-9.17zM251.16 668.50h9.17v10.50h-9.17zM118.14 678.70h9.17v10.50h-9.17zM135.87 678.70h9.17v10.50h-9.17zM251.16 678.70h9.17v10.50h-9.17zM224.55 688.90h9.17v10.50h-9.17zM233.42 688.90h9.17v10.50h-9.17zM118.14 699.10h9.17v10.50h-9.17zM127.00 699.10h9.17v10.50h-9.17zM135.87 699.10h9.17v10.50h-9.17zM153.61 699.10h9.17v10.50h-9.17zM100.40 709.30h9.17v10.50h-9.17zM109.27 709.30h9.17v10.50h-9.17zM118.14 709.30h9.17v10.50h-9.17zM135.87 709.30h9.17v10.50h-9.17zM251.16 709.30h9.17v10.50h-9.17zM233.42 719.50h9.17v10.50h-9.17zM224.55 729.70h9.17v10.50h-9.17zM251.16 729.70h9.17v10.50h-9.17zM171.34 739.90h9.17v10.50h-9.17zM206.82 739.90h9.17v10.50h-9.17zM162.48 750.10h9.17v10.50h-9.17zM206.82 750.10h9.17v10.50h-9.17zM171.34 760.30h9.17v10.50h-9.17zM260.02 760.30h9.17v10.50h-9.17zM242.29 770.50h9.17v10.50h-9.17zM162.48 780.70h9.17v10.50h-9.17zM251.16 780.70h9.17v10.50h-9.17zM100.40 790.90h9.17v10.50h-9.17zM251.16 790.90h9.17v10.50h-9.17zM251.16 801.10h9.17v10.50h-9.17zM109.27 811.30h9.17v10.50h-9.17zM189.08 811.30h9.17v10.50h-9.17zM197.95 811.30h9.17v10.50h-9.17zM251.16 811.30h9.17v10.50h-9.17z" fill="#242200"/>
<path d="M144.74 597.10h9.17v10.50h-9.17zM153.61 597.10h9.17v10.50h-9.17zM109.27 607.30h9.17v10.50h-9.17zM144.74 607.30h9.17v10.50h-9.17zM153.61 607.30h9.17v10.50h-9.17zM109.27 617.50h9.17v10.50h-9.17zM118.14 617.50h9.17v10.50h-9.17zM144.74 637.90h9.17v10.50h-9.17zM153.61 637.90h9.17v10.50h-9.17zM109.27 648.10h9.17v10.50h-9.17zM144.74 648.10h9.17v10.50h-9.17zM153.61 648.10h9.17v10.50h-9.17zM144.74 658.30h9.17v10.50h-9.17zM153.61 658.30h9.17v10.50h-9.17zM144.74 668.50h9.17v10.50h-9.17zM153.61 668.50h9.17v10.50h-9.17zM233.42 668.50h9.17v10.50h-9.17zM144.74 678.70h9.17v10.50h-9.17zM233.42 678.70h9.17v10.50h-9.17zM260.02 678.70h9.17v10.50h-9.17zM135.87 688.90h9.17v10.50h-9.17zM260.02 688.90h9.17v10.50h-9.17zM224.55 709.30h9.17v10.50h-9.17zM233.42 709.30h9.17v10.50h-9.17zM260.02 709.30h9.17v10.50h-9.17zM144.74 719.50h9.17v10.50h-9.17zM153.61 719.50h9.17v10.50h-9.17zM144.74 729.70h9.17v10.50h-9.17zM153.61 729.70h9.17v10.50h-9.17zM189.08 739.90h9.17v10.50h-9.17zM189.08 750.10h9.17v10.50h-9.17zM197.95 750.10h9.17v10.50h-9.17zM180.21 760.30h9.17v10.50h-9.17zM251.16 770.50h9.17v10.50h-9.17zM260.02 801.10h9.17v10.50h-9.17z" fill="#645e00"/>
<path d="M162.48 597.10h9.17v10.50h-9.17zM215.68 597.10h9.17v10.50h-9.17zM162.48 607.30h9.17v10.50h-9.17zM171.34 607.30h9.17v10.50h-9.17zM206.82 607.30h9.17v10.50h-9.17zM215.68 607.30h9.17v10.50h-9.17zM242.29 607.30h9.17v10.50h-9.17zM162.48 617.50h9.17v10.50h-9.17zM171.34 617.50h9.17v10.50h-9.17zM206.82 617.50h9.17v10.50h-9.17zM215.68 617.50h9.17v10.50h-9.17zM242.29 617.50h9.17v10.50h-9.17zM242.29 627.70h9.17v10.50h-9.17zM171.34 637.90h9.17v10.50h-9.17zM233.42 637.90h9.17v10.50h-9.17zM242.29 637.90h9.17v10.50h-9.17zM189.08 648.10h9.17v10.50h-9.17zM197.95 648.10h9.17v10.50h-9.17zM206.82 648.10h9.17v10.50h-9.17zM215.68 648.10h9.17v10.50h-9.17zM242.29 648.10h9.17v10.50h-9.17zM162.48 658.30h9.17v10.50h-9.17zM215.68 658.30h9.17v10.50h-9.17zM242.29 658.30h9.17v10.50h-9.17zM171.34 668.50h9.17v10.50h-9.17zM206.82 668.50h9.17v10.50h-9.17zM215.68 668.50h9.17v10.50h-9.17zM242.29 668.50h9.17v10.50h-9.17zM206.82 678.70h9.17v10.50h-9.17zM242.29 678.70h9.17v10.50h-9.17zM206.82 688.90h9.17v10.50h-9.17zM215.68 688.90h9.17v10.50h-9.17zM242.29 688.90h9.17v10.50h-9.17zM171.34 699.10h9.17v10.50h-9.17zM189.08 699.10h9.17v10.50h-9.17zM197.95 699.10h9.17v10.50h-9.17zM215.68 699.10h9.17v10.50h-9.17zM162.48 709.30h9.17v10.50h-9.17zM171.34 709.30h9.17v10.50h-9.17zM206.82 709.30h9.17v10.50h-9.17zM242.29 709.30h9.17v10.50h-9.17zM189.08 719.50h9.17v10.50h-9.17zM162.48 729.70h9.17v10.50h-9.17zM206.82 729.70h9.17v10.50h-9.17zM242.29 729.70h9.17v10.50h-9.17zM109.27 739.90h9.17v10.50h-9.17zM118.14 739.90h9.17v10.50h-9.17zM127.00 739.90h9.17v10.50h-9.17zM144.74 739.90h9.17v10.50h-9.17zM100.40 770.50h9.17v10.50h-9.17zM215.68 770.50h9.17v10.50h-9.17zM100.40 780.70h9.17v10.50h-9.17zM109.27 780.70h9.17v10.50h-9.17zM135.87 780.70h9.17v10.50h-9.17zM215.68 780.70h9.17v10.50h-9.17zM180.21 790.90h9.17v10.50h-9.17zM189.08 790.90h9.17v10.50h-9.17zM197.95 790.90h9.17v10.50h-9.17zM206.82 790.90h9.17v10.50h-9.17zM215.68 790.90h9.17v10.50h-9.17zM242.29 790.90h9.17v10.50h-9.17zM135.87 801.10h9.17v10.50h-9.17zM180.21 801.10h9.17v10.50h-9.17zM197.95 801.10h9.17v10.50h-9.17zM215.68 801.10h9.17v10.50h-9.17zM242.29 801.10h9.17v10.50h-9.17zM135.87 811.30h9.17v10.50h-9.17zM162.48 811.30h9.17v10.50h-9.17zM215.68 811.30h9.17v10.50h-9.17z" fill="#3a004c"/>
<path d="M171.34 597.10h9.17v10.50h-9.17zM206.82 597.10h9.17v10.50h-9.17zM242.29 597.10h9.17v10.50h-9.17zM251.16 597.10h9.17v10.50h-9.17zM251.16 607.30h9.17v10.50h-9.17zM251.16 617.50h9.17v10.50h-9.17zM260.02 617.50h9.17v10.50h-9.17zM162.48 627.70h9.17v10.50h-9.17zM189.08 637.90h9.17v10.50h-9.17zM206.82 637.90h9.17v10.50h-9.17zM215.68 637.90h9.17v10.50h-9.17zM233.42 648.10h9.17v10.50h-9.17zM251.16 648.10h9.17v10.50h-9.17zM171.34 658.30h9.17v10.50h-9.17zM100.40 678.70h9.17v10.50h-9.17zM162.48 678.70h9.17v10.50h-9.17zM171.34 678.70h9.17v10.50h-9.17zM100.40 688.90h9.17v10.50h-9.17zM118.14 688.90h9.17v10.50h-9.17zM162.48 688.90h9.17v10.50h-9.17zM171.34 688.90h9.17v10.50h-9.17zM100.40 699.10h9.17v10.50h-9.17zM206.82 699.10h9.17v10.50h-9.17zM242.29 699.10h9.17v10.50h-9.17zM215.68 709.30h9.17v10.50h-9.17zM118.14 719.50h9.17v10.50h-9.17zM127.00 719.50h9.17v10.50h-9.17zM135.87 719.50h9.17v10.50h-9.17zM171.34 719.50h9.17v10.50h-9.17zM215.68 719.50h9.17v10.50h-9.17zM242.29 719.50h9.17v10.50h-9.17zM100.40 729.70h9.17v10.50h-9.17zM127.00 729.70h9.17v10.50h-9.17zM135.87 739.90h9.17v10.50h-9.17zM153.61 739.90h9.17v10.50h-9.17zM233.42 739.90h9.17v10.50h-9.17zM242.29 739.90h9.17v10.50h-9.17zM251.16 739.90h9.17v10.50h-9.17zM153.61 750.10h9.17v10.50h-9.17zM215.68 750.10h9.17v10.50h-9.17zM224.55 750.10h9.17v10.50h-9.17zM233.42 750.10h9.17v10.50h-9.17zM242.29 750.10h9.17v10.50h-9.17zM251.16 750.10h9.17v10.50h-9.17zM260.02 750.10h9.17v10.50h-9.17zM109.27 770.50h9.17v10.50h-9.17zM118.14 770.50h9.17v10.50h-9.17zM144.74 770.50h9.17v10.50h-9.17zM171.34 770.50h9.17v10.50h-9.17zM180.21 770.50h9.17v10.50h-9.17zM189.08 770.50h9.17v10.50h-9.17zM197.95 770.50h9.17v10.50h-9.17zM206.82 770.50h9.17v10.50h-9.17zM144.74 780.70h9.17v10.50h-9.17zM171.34 780.70h9.17v10.50h-9.17zM206.82 780.70h9.17v10.50h-9.17zM242.29 780.70h9.17v10.50h-9.17zM109.27 790.90h9.17v10.50h-9.17zM118.14 790.90h9.17v10.50h-9.17zM127.00 790.90h9.17v10.50h-9.17zM153.61 790.90h9.17v10.50h-9.17zM162.48 790.90h9.17v10.50h-9.17zM127.00 801.10h9.17v10.50h-9.17zM144.74 801.10h9.17v10.50h-9.17zM153.61 801.10h9.17v10.50h-9.17zM127.00 811.30h9.17v10.50h-9.17zM206.82 811.30h9.17v10.50h-9.17zM242.29 811.30h9.17v10.50h-9.17z" fill="#21002c"/>
<path d="M180.21 597.10h9.17v10.50h-9.17zM189.08 627.70h9.17v10.50h-9.17zM162.48 637.90h9.17v10.50h-9.17zM206.82 658.30h9.17v10.50h-9.17zM162.48 668.50h9.17v10.50h-9.17zM180.21 668.50h9.17v10.50h-9.17zM180.21 678.70h9.17v10.50h-9.17zM197.95 678.70h9.17v10.50h-9.17zM180.21 688.90h9.17v10.50h-9.17zM180.21 699.10h9.17v10.50h-9.17zM180.21 709.30h9.17v10.50h-9.17zM197.95 709.30h9.17v10.50h-9.17zM180.21 719.50h9.17v10.50h-9.17zM171.34 729.70h9.17v10.50h-9.17zM100.40 811.30h9.17v10.50h-9.17zM180.21 811.30h9.17v10.50h-9.17z" fill="#7a0098"/>
<path d="M189.08 597.10h9.17v10.50h-9.17zM197.95 597.10h9.17v10.50h-9.17zM180.21 607.30h9.17v10.50h-9.17zM189.08 607.30h9.17v10.50h-9.17zM197.95 607.30h9.17v10.50h-9.17zM180.21 617.50h9.17v10.50h-9.17zM189.08 617.50h9.17v10.50h-9.17zM197.95 617.50h9.17v10.50h-9.17zM171.34 627.70h9.17v10.50h-9.17zM180.21 627.70h9.17v10.50h-9.17zM197.95 627.70h9.17v10.50h-9.17zM206.82 627.70h9.17v10.50h-9.17zM180.21 637.90h9.17v10.50h-9.17zM197.95 637.90h9.17v10.50h-9.17zM162.48 648.10h9.17v10.50h-9.17zM171.34 648.10h9.17v10.50h-9.17zM180.21 648.10h9.17v10.50h-9.17zM180.21 658.30h9.17v10.50h-9.17zM189.08 658.30h9.17v10.50h-9.17zM197.95 658.30h9.17v10.50h-9.17zM189.08 668.50h9.17v10.50h-9.17zM197.95 668.50h9.17v10.50h-9.17zM189.08 678.70h9.17v10.50h-9.17zM215.68 678.70h9.17v10.50h-9.17zM189.08 688.90h9.17v10.50h-9.17zM197.95 688.90h9.17v10.50h-9.17zM162.48 699.10h9.17v10.50h-9.17zM189.08 709.30h9.17v10.50h-9.17zM162.48 719.50h9.17v10.50h-9.17zM197.95 719.50h9.17v10.50h-9.17zM189.08 729.70h9.17v10.50h-9.17zM197.95 729.70h9.17v10.50h-9.17zM100.40 739.90h9.17v10.50h-9.17zM206.82 801.10h9.17v10.50h-9.17zM171.34 811.30h9.17v10.50h-9.17z" fill="#56006e"/>
<path d="M260.02 607.30h9.17v10.50h-9.17zM127.00 627.70h9.17v10.50h-9.17zM135.87 627.70h9.17v10.50h-9.17zM144.74 627.70h9.17v10.50h-9.17zM251.16 627.70h9.17v10.50h-9.17zM251.16 637.90h9.17v10.50h-9.17zM224.55 648.10h9.17v10.50h-9.17zM109.27 658.30h9.17v10.50h-9.17zM118.14 668.50h9.17v10.50h-9.17zM260.02 668.50h9.17v10.50h-9.17zM109.27 688.90h9.17v10.50h-9.17zM251.16 688.90h9.17v10.50h-9.17zM109.27 699.10h9.17v10.50h-9.17zM100.40 719.50h9.17v10.50h-9.17zM109.27 719.50h9.17v10.50h-9.17zM206.82 719.50h9.17v10.50h-9.17zM251.16 719.50h9.17v10.50h-9.17zM135.87 729.70h9.17v10.50h-9.17zM180.21 729.70h9.17v10.50h-9.17zM215.68 729.70h9.17v10.50h-9.17zM215.68 739.90h9.17v10.50h-9.17zM224.55 739.90h9.17v10.50h-9.17zM260.02 739.90h9.17v10.50h-9.17zM171.34 750.10h9.17v10.50h-9.17zM215.68 760.30h9.17v10.50h-9.17zM224.55 760.30h9.17v10.50h-9.17zM233.42 760.30h9.17v10.50h-9.17zM242.29 760.30h9.17v10.50h-9.17zM251.16 760.30h9.17v10.50h-9.17zM162.48 770.50h9.17v10.50h-9.17zM180.21 780.70h9.17v10.50h-9.17zM189.08 780.70h9.17v10.50h-9.17zM197.95 780.70h9.17v10.50h-9.17zM144.74 790.90h9.17v10.50h-9.17zM109.27 801.10h9.17v10.50h-9.17zM162.48 801.10h9.17v10.50h-9.17zM144.74 811.30h9.17v10.50h-9.17zM153.61 811.30h9.17v10.50h-9.17z" fill="#060208"/>
<path d="M100.40 617.50h9.17v10.50h-9.17zM109.27 627.70h9.17v10.50h-9.17zM144.74 688.90h9.17v10.50h-9.17zM153.61 688.90h9.17v10.50h-9.17zM224.55 699.10h9.17v10.50h-9.17zM233.42 699.10h9.17v10.50h-9.17zM224.55 719.50h9.17v10.50h-9.17zM260.02 719.50h9.17v10.50h-9.17zM118.14 729.70h9.17v10.50h-9.17zM260.02 729.70h9.17v10.50h-9.17zM162.48 739.90h9.17v10.50h-9.17zM162.48 760.30h9.17v10.50h-9.17zM189.08 760.30h9.17v10.50h-9.17zM197.95 760.30h9.17v10.50h-9.17zM224.55 770.50h9.17v10.50h-9.17zM233.42 770.50h9.17v10.50h-9.17zM224.55 780.70h9.17v10.50h-9.17zM233.42 780.70h9.17v10.50h-9.17zM224.55 790.90h9.17v10.50h-9.17zM260.02 790.90h9.17v10.50h-9.17zM224.55 801.10h9.17v10.50h-9.17zM233.42 801.10h9.17v10.50h-9.17zM224.55 811.30h9.17v10.50h-9.17zM233.42 811.30h9.17v10.50h-9.17z" fill="#968d00"/>
<path d="M180.21 739.90h9.17v10.50h-9.17zM260.02 770.50h9.17v10.50h-9.17zM260.02 780.70h9.17v10.50h-9.17zM233.42 790.90h9.17v10.50h-9.17z" fill="#b6ac00"/>
<path d="M100.40 750.10h9.17v10.50h-9.17zM109.27 750.10h9.17v10.50h-9.17zM118.14 750.10h9.17v10.50h-9.17zM127.00 750.10h9.17v10.50h-9.17zM135.87 750.10h9.17v10.50h-9.17zM144.74 750.10h9.17v10.50h-9.17zM127.00 770.50h9.17v10.50h-9.17zM135.87 770.50h9.17v10.50h-9.17zM153.61 770.50h9.17v10.50h-9.17zM153.61 780.70h9.17v10.50h-9.17zM135.87 790.90h9.17v10.50h-9.17zM171.34 790.90h9.17v10.50h-9.17zM189.08 801.10h9.17v10.50h-9.17z" fill="#2e003c"/>
<path d="M180.21 750.10h9.17v10.50h-9.17z" fill="#e4d800"/>
<path d="M100.40 760.30h9.17v10.50h-9.17zM109.27 760.30h9.17v10.50h-9.17zM118.14 760.30h9.17v10.50h-9.17zM127.00 760.30h9.17v10.50h-9.17zM135.87 760.30h9.17v10.50h-9.17zM144.74 760.30h9.17v10.50h-9.17zM153.61 760.30h9.17v10.50h-9.17zM118.14 780.70h9.17v10.50h-9.17zM127.00 780.70h9.17v10.50h-9.17zM171.34 801.10h9.17v10.50h-9.17z" fill="#48005d"/>
</g>
<text transform="translate(272.40 605.50)" font-size="8.5" fill="#111" font-style="italic" textLength="31.5" lengthAdjust="spacingAndGlyphs">Slc25a4</text>
<text transform="translate(272.40 615.70)" font-size="8.5" fill="#111" font-style="italic" textLength="20.9" lengthAdjust="spacingAndGlyphs">Mtfp1</text>
<text transform="translate(272.40 625.90)" font-size="8.5" fill="#111" font-style="italic" textLength="31.5" lengthAdjust="spacingAndGlyphs">Micos10</text>
<text transform="translate(272.40 636.10)" font-size="8.5" fill="#111" font-style="italic" textLength="18.9" lengthAdjust="spacingAndGlyphs">Mtfr1</text>
<text transform="translate(272.40 646.30)" font-size="8.5" fill="#111" font-style="italic" textLength="19.4" lengthAdjust="spacingAndGlyphs">Mfn2</text>
<text transform="translate(272.40 656.50)" font-size="8.5" fill="#111" font-style="italic" textLength="20.7" lengthAdjust="spacingAndGlyphs">Trak1</text>
<text transform="translate(272.40 666.70)" font-size="8.5" fill="#111" font-style="italic" textLength="22.8" lengthAdjust="spacingAndGlyphs">Oma1</text>
<text transform="translate(272.40 676.90)" font-size="8.5" fill="#111" font-style="italic" textLength="23.2" lengthAdjust="spacingAndGlyphs">Rhot2</text>
<text transform="translate(272.40 687.10)" font-size="8.5" fill="#111" font-style="italic" textLength="34.0" lengthAdjust="spacingAndGlyphs">Chchd10</text>
<text transform="translate(272.40 697.30)" font-size="8.5" fill="#111" font-style="italic" textLength="21.3" lengthAdjust="spacingAndGlyphs">Mief2</text>
<text transform="translate(272.40 707.50)" font-size="8.5" fill="#111" font-style="italic" textLength="20.9" lengthAdjust="spacingAndGlyphs">Mtfr1l</text>
<text transform="translate(272.40 717.70)" font-size="8.5" fill="#111" font-style="italic" textLength="30.0" lengthAdjust="spacingAndGlyphs">Chchd3</text>
<text transform="translate(272.40 727.90)" font-size="8.5" fill="#111" font-style="italic" textLength="22.8" lengthAdjust="spacingAndGlyphs">Msto1</text>
<text transform="translate(272.40 738.10)" font-size="8.5" fill="#111" font-style="italic" textLength="31.1" lengthAdjust="spacingAndGlyphs">Sh3glb1</text>
<text transform="translate(272.40 748.30)" font-size="8.5" fill="#111" font-style="italic" textLength="25.2" lengthAdjust="spacingAndGlyphs">Usp30</text>
<text transform="translate(272.40 758.50)" font-size="8.5" fill="#111" font-style="italic" textLength="24.8" lengthAdjust="spacingAndGlyphs">Wdr81</text>
<text transform="translate(272.40 768.70)" font-size="8.5" fill="#111" font-style="italic" textLength="28.6" lengthAdjust="spacingAndGlyphs">Sqstm1</text>
<text transform="translate(272.40 778.90)" font-size="8.5" fill="#111" font-style="italic" textLength="36.9" lengthAdjust="spacingAndGlyphs">Map1lc3a</text>
<text transform="translate(272.40 789.10)" font-size="8.5" fill="#111" font-style="italic" textLength="20.3" lengthAdjust="spacingAndGlyphs">Phb2</text>
<text transform="translate(272.40 799.30)" font-size="8.5" fill="#111" font-style="italic" textLength="31.5" lengthAdjust="spacingAndGlyphs">Micos13</text>
<text transform="translate(272.40 809.50)" font-size="8.5" fill="#111" font-style="italic" textLength="20.3" lengthAdjust="spacingAndGlyphs">Apoo</text>
<text transform="translate(272.40 819.70)" font-size="8.5" fill="#111" font-style="italic" textLength="12.1" lengthAdjust="spacingAndGlyphs">Mff</text>
<path d="M100.4 602.2H96.5V612.4H100.4M96.5 607.3H94V622.6H100.4M94 615H91.1V632.8H100.4M100.4 643H96.5V653.2H100.4M100.4 663.4H96.5V673.6H100.4M96.5 668.5H94V683.8H100.4M94 676.1H92.3V694H100.4M96.5 648.1H89V685.1H92.3M91.1 623.9H86.5V666.6H89M100.4 704.2H94.8V714.4H100.4M94.8 709.3H91.1V724.6H100.4M91.1 717H86.8V734.8H100.4M86.5 645.2H84.8V725.9H86.8M100.4 745H94V755.2H100.4M94 750.1H90.3V765.4H100.4M100.4 775.6H94.8V785.8H100.4M100.4 796H94.8V806.2H100.4M94.8 801.1H89.3V816.4H100.4M94.8 780.7H86.8V808.8H89.3M90.3 757.8H76.6V794.7H86.8M84.8 685.6H71.2V776.2H76.6" stroke="#000" stroke-width="0.75" fill="none"/>
<defs><linearGradient id="ge" gradientUnits="userSpaceOnUse" x1="0" y1="588.3" x2="0" y2="671.1"><stop offset="0" stop-color="#fff000"/><stop offset="0.5" stop-color="#000"/><stop offset="1" stop-color="#cc00ff"/></linearGradient></defs>
<rect x="317.1" y="588.3" width="5.9" height="82.80" fill="url(#ge)"/>
<path d="M323.00 588.40L325.60 588.40" stroke="#777" stroke-width="0.6" fill="none"/>
<text transform="translate(330.20 591.50)" font-size="8.6" fill="#1a1a1a">3</text>
<path d="M323.00 602.20L325.60 602.20" stroke="#777" stroke-width="0.6" fill="none"/>
<text transform="translate(330.20 605.30)" font-size="8.6" fill="#1a1a1a">2</text>
<path d="M323.00 616.00L325.60 616.00" stroke="#777" stroke-width="0.6" fill="none"/>
<text transform="translate(330.20 619.10)" font-size="8.6" fill="#1a1a1a">1</text>
<path d="M323.00 629.80L325.60 629.80" stroke="#777" stroke-width="0.6" fill="none"/>
<text transform="translate(330.20 632.90)" font-size="8.6" fill="#1a1a1a">0</text>
<path d="M323.00 643.60L325.60 643.60" stroke="#777" stroke-width="0.6" fill="none"/>
<text transform="translate(330.20 646.70)" font-size="8.6" fill="#1a1a1a">−1</text>
<path d="M323.00 657.30L325.60 657.30" stroke="#777" stroke-width="0.6" fill="none"/>
<text transform="translate(330.20 660.40)" font-size="8.6" fill="#1a1a1a">−2</text>
<path d="M323.00 671.10L325.60 671.10" stroke="#777" stroke-width="0.6" fill="none"/>
<text transform="translate(330.20 674.20)" font-size="8.6" fill="#1a1a1a">−3</text>
<text transform="translate(319.70 570.70)" font-size="8.8" fill="#1a1a1a" text-anchor="middle" textLength="51.6" lengthAdjust="spacingAndGlyphs">Normalized</text>
<text transform="translate(319.70 581.90)" font-size="8.8" fill="#1a1a1a" text-anchor="middle">RPKM</text>
<text transform="translate(-0.30 846.90) scale(1.07 1)" font-size="14.0" fill="#000" font-weight="bold" stroke="#000" stroke-width="0.35">f</text>
<text transform="translate(193.60 858.80)" font-size="9.2" fill="#1a1a1a" text-anchor="middle" textLength="48" lengthAdjust="spacingAndGlyphs">Mitophagy</text>
<path d="M101.90 879.40L161.33 879.40" stroke="#111" stroke-width="0.95" fill="none"/>
<text transform="translate(131.12 874.50) scale(1.08 1)" font-size="8.3" fill="#1a1a1a" text-anchor="middle">ctr</text>
<path d="M164.13 879.40L223.56 879.40" stroke="#111" stroke-width="0.95" fill="none"/>
<text transform="translate(193.34 874.50) scale(1.08 1)" font-size="8.3" fill="#1a1a1a" text-anchor="middle">C26 veh</text>
<path d="M226.36 879.40L268.01 879.40" stroke="#111" stroke-width="0.95" fill="none"/>
<text transform="translate(246.69 874.50) scale(1.08 1)" font-size="8.3" fill="#1a1a1a" text-anchor="middle">C26 Rol</text>
<g shape-rendering="crispEdges">
<rect x="100.00" y="885.10" width="168.91" height="80.80" fill="#30103a"/>
<path d="M100.00 885.10h9.19v10.40h-9.19zM108.89 885.10h9.19v10.40h-9.19zM117.78 885.10h9.19v10.40h-9.19zM135.56 885.10h9.19v10.40h-9.19zM153.34 885.10h9.19v10.40h-9.19zM100.00 915.40h9.19v10.40h-9.19zM153.34 915.40h9.19v10.40h-9.19zM100.00 925.50h9.19v10.40h-9.19zM108.89 925.50h9.19v10.40h-9.19zM117.78 925.50h9.19v10.40h-9.19zM135.56 925.50h9.19v10.40h-9.19zM144.45 925.50h9.19v10.40h-9.19zM100.00 935.60h9.19v10.40h-9.19zM117.78 935.60h9.19v10.40h-9.19zM108.89 945.70h9.19v10.40h-9.19zM206.68 955.80h9.19v10.40h-9.19z" fill="#48005d"/>
<path d="M126.67 885.10h9.19v10.40h-9.19zM144.45 885.10h9.19v10.40h-9.19zM100.00 895.20h9.19v10.40h-9.19zM108.89 895.20h9.19v10.40h-9.19zM117.78 895.20h9.19v10.40h-9.19zM126.67 895.20h9.19v10.40h-9.19zM135.56 895.20h9.19v10.40h-9.19zM144.45 895.20h9.19v10.40h-9.19zM153.34 895.20h9.19v10.40h-9.19zM117.78 915.40h9.19v10.40h-9.19zM126.67 925.50h9.19v10.40h-9.19zM260.02 935.60h9.19v10.40h-9.19zM144.45 945.70h9.19v10.40h-9.19zM153.34 945.70h9.19v10.40h-9.19z" fill="#56006e"/>
<path d="M162.23 885.10h9.19v10.40h-9.19zM162.23 905.30h9.19v10.40h-9.19zM188.90 905.30h9.19v10.40h-9.19zM206.68 925.50h9.19v10.40h-9.19zM188.90 935.60h9.19v10.40h-9.19zM197.79 935.60h9.19v10.40h-9.19zM162.23 945.70h9.19v10.40h-9.19zM260.02 955.80h9.19v10.40h-9.19z" fill="#645e00"/>
<path d="M171.12 885.10h9.19v10.40h-9.19zM206.68 885.10h9.19v10.40h-9.19zM224.46 885.10h9.19v10.40h-9.19zM233.35 885.10h9.19v10.40h-9.19zM162.23 895.20h9.19v10.40h-9.19zM215.57 895.20h9.19v10.40h-9.19zM233.35 895.20h9.19v10.40h-9.19zM260.02 895.20h9.19v10.40h-9.19zM171.12 905.30h9.19v10.40h-9.19zM206.68 905.30h9.19v10.40h-9.19zM215.57 915.40h9.19v10.40h-9.19zM171.12 925.50h9.19v10.40h-9.19zM215.57 925.50h9.19v10.40h-9.19zM260.02 925.50h9.19v10.40h-9.19zM215.57 935.60h9.19v10.40h-9.19zM242.24 935.60h9.19v10.40h-9.19zM180.01 945.70h9.19v10.40h-9.19zM251.13 945.70h9.19v10.40h-9.19zM126.67 955.80h9.19v10.40h-9.19z" fill="#242200"/>
<path d="M180.01 885.10h9.19v10.40h-9.19zM180.01 895.20h9.19v10.40h-9.19zM180.01 915.40h9.19v10.40h-9.19zM197.79 915.40h9.19v10.40h-9.19zM180.01 925.50h9.19v10.40h-9.19zM197.79 925.50h9.19v10.40h-9.19zM233.35 945.70h9.19v10.40h-9.19zM260.02 945.70h9.19v10.40h-9.19zM117.78 955.80h9.19v10.40h-9.19z" fill="#b6ac00"/>
<path d="M188.90 885.10h9.19v10.40h-9.19zM197.79 885.10h9.19v10.40h-9.19zM188.90 895.20h9.19v10.40h-9.19zM197.79 895.20h9.19v10.40h-9.19zM197.79 905.30h9.19v10.40h-9.19zM162.23 915.40h9.19v10.40h-9.19zM188.90 915.40h9.19v10.40h-9.19zM162.23 925.50h9.19v10.40h-9.19zM206.68 935.60h9.19v10.40h-9.19zM224.46 945.70h9.19v10.40h-9.19z" fill="#968d00"/>
<path d="M215.57 885.10h9.19v10.40h-9.19zM242.24 895.20h9.19v10.40h-9.19zM215.57 905.30h9.19v10.40h-9.19zM224.46 905.30h9.19v10.40h-9.19zM260.02 905.30h9.19v10.40h-9.19zM171.12 915.40h9.19v10.40h-9.19zM206.68 915.40h9.19v10.40h-9.19zM233.35 915.40h9.19v10.40h-9.19zM242.24 925.50h9.19v10.40h-9.19zM188.90 945.70h9.19v10.40h-9.19zM197.79 945.70h9.19v10.40h-9.19zM242.24 945.70h9.19v10.40h-9.19z" fill="#060208"/>
<path d="M242.24 885.10h9.19v10.40h-9.19zM251.13 885.10h9.19v10.40h-9.19zM251.13 895.20h9.19v10.40h-9.19zM233.35 905.30h9.19v10.40h-9.19zM242.24 905.30h9.19v10.40h-9.19zM251.13 905.30h9.19v10.40h-9.19zM224.46 915.40h9.19v10.40h-9.19zM242.24 915.40h9.19v10.40h-9.19zM251.13 915.40h9.19v10.40h-9.19zM260.02 915.40h9.19v10.40h-9.19zM224.46 925.50h9.19v10.40h-9.19zM233.35 925.50h9.19v10.40h-9.19zM251.13 925.50h9.19v10.40h-9.19zM171.12 945.70h9.19v10.40h-9.19zM206.68 945.70h9.19v10.40h-9.19zM215.57 945.70h9.19v10.40h-9.19zM100.00 955.80h9.19v10.40h-9.19zM144.45 955.80h9.19v10.40h-9.19zM153.34 955.80h9.19v10.40h-9.19zM180.01 955.80h9.19v10.40h-9.19zM242.24 955.80h9.19v10.40h-9.19zM251.13 955.80h9.19v10.40h-9.19z" fill="#21002c"/>
<path d="M260.02 885.10h9.19v10.40h-9.19zM171.12 895.20h9.19v10.40h-9.19zM206.68 895.20h9.19v10.40h-9.19zM224.46 895.20h9.19v10.40h-9.19zM188.90 925.50h9.19v10.40h-9.19zM162.23 935.60h9.19v10.40h-9.19zM171.12 935.60h9.19v10.40h-9.19zM233.35 955.80h9.19v10.40h-9.19z" fill="#423e00"/>
<path d="M100.00 905.30h9.19v10.40h-9.19zM108.89 905.30h9.19v10.40h-9.19zM117.78 905.30h9.19v10.40h-9.19zM126.67 905.30h9.19v10.40h-9.19zM135.56 905.30h9.19v10.40h-9.19zM144.45 905.30h9.19v10.40h-9.19zM153.34 905.30h9.19v10.40h-9.19zM135.56 915.40h9.19v10.40h-9.19zM144.45 915.40h9.19v10.40h-9.19zM153.34 925.50h9.19v10.40h-9.19zM108.89 935.60h9.19v10.40h-9.19zM126.67 935.60h9.19v10.40h-9.19zM135.56 935.60h9.19v10.40h-9.19zM144.45 935.60h9.19v10.40h-9.19zM153.34 935.60h9.19v10.40h-9.19zM233.35 935.60h9.19v10.40h-9.19zM126.67 945.70h9.19v10.40h-9.19zM135.56 945.70h9.19v10.40h-9.19zM108.89 955.80h9.19v10.40h-9.19zM188.90 955.80h9.19v10.40h-9.19zM197.79 955.80h9.19v10.40h-9.19z" fill="#3a004c"/>
<path d="M180.01 905.30h9.19v10.40h-9.19zM180.01 935.60h9.19v10.40h-9.19zM224.46 955.80h9.19v10.40h-9.19z" fill="#e4d800"/>
<path d="M108.89 915.40h9.19v10.40h-9.19zM126.67 915.40h9.19v10.40h-9.19zM224.46 935.60h9.19v10.40h-9.19zM251.13 935.60h9.19v10.40h-9.19zM100.00 945.70h9.19v10.40h-9.19zM117.78 945.70h9.19v10.40h-9.19zM135.56 955.80h9.19v10.40h-9.19zM162.23 955.80h9.19v10.40h-9.19zM171.12 955.80h9.19v10.40h-9.19zM215.57 955.80h9.19v10.40h-9.19z" fill="#2e003c"/>
</g>
<text transform="translate(272.40 893.45)" font-size="8.5" fill="#111" font-style="italic" textLength="31.3" lengthAdjust="spacingAndGlyphs">Tax1bp1</text>
<text transform="translate(272.40 903.55)" font-size="8.5" fill="#111" font-style="italic" textLength="18.0" lengthAdjust="spacingAndGlyphs">Nbr1</text>
<text transform="translate(272.40 913.65)" font-size="8.5" fill="#111" font-style="italic" textLength="32.1" lengthAdjust="spacingAndGlyphs">Tbc1d15</text>
<text transform="translate(272.40 923.75)" font-size="8.5" fill="#111" font-style="italic" textLength="17.9" lengthAdjust="spacingAndGlyphs">Prkn</text>
<text transform="translate(272.40 933.85)" font-size="8.5" fill="#111" font-style="italic" textLength="18.5" lengthAdjust="spacingAndGlyphs">Tbk1</text>
<text transform="translate(272.40 943.95)" font-size="8.5" fill="#111" font-style="italic" textLength="16.5" lengthAdjust="spacingAndGlyphs">Ulk1</text>
<text transform="translate(272.40 954.05)" font-size="8.5" fill="#111" font-style="italic" textLength="23.2" lengthAdjust="spacingAndGlyphs">Rras2</text>
<text transform="translate(272.40 964.15)" font-size="8.5" fill="#111" font-style="italic" textLength="25.2" lengthAdjust="spacingAndGlyphs">Cited2</text>
<path d="M100 890.1H93.3V900.2H100M100 910.4H92.8V920.5H100M92.8 915.4H91.9V930.6H100M93.3 895.2H88.9V923H91.9M88.9 909.1H86.5V940.6H100M100 950.8H77.4V960.9H100M86.5 924.9H63.4V955.8H77.4" stroke="#000" stroke-width="0.75" fill="none"/>
<defs><linearGradient id="gf" gradientUnits="userSpaceOnUse" x1="0" y1="860.0" x2="0" y2="965.0"><stop offset="0" stop-color="#fff000"/><stop offset="0.5" stop-color="#000"/><stop offset="1" stop-color="#cc00ff"/></linearGradient></defs>
<rect x="313.1" y="860.0" width="6.9" height="107.00" fill="url(#gf)"/>
<path d="M320.00 876.10L322.60 876.10" stroke="#777" stroke-width="0.6" fill="none"/>
<text transform="translate(327.20 879.20)" font-size="8.6" fill="#1a1a1a">2</text>
<path d="M320.00 894.50L322.60 894.50" stroke="#777" stroke-width="0.6" fill="none"/>
<text transform="translate(327.20 897.60)" font-size="8.6" fill="#1a1a1a">1</text>
<path d="M320.00 912.50L322.60 912.50" stroke="#777" stroke-width="0.6" fill="none"/>
<text transform="translate(327.20 915.60)" font-size="8.6" fill="#1a1a1a">0</text>
<path d="M320.00 930.70L322.60 930.70" stroke="#777" stroke-width="0.6" fill="none"/>
<text transform="translate(327.20 933.80)" font-size="8.6" fill="#1a1a1a">−1</text>
<path d="M320.00 949.60L322.60 949.60" stroke="#777" stroke-width="0.6" fill="none"/>
<text transform="translate(327.20 952.70)" font-size="8.6" fill="#1a1a1a">−2</text>
<text transform="translate(316.50 842.90)" font-size="8.8" fill="#1a1a1a" text-anchor="middle" textLength="51.2" lengthAdjust="spacingAndGlyphs">Normalized</text>
<text transform="translate(316.50 854.50)" font-size="8.8" fill="#1a1a1a" text-anchor="middle">RPKM</text>
</svg></body></html>
